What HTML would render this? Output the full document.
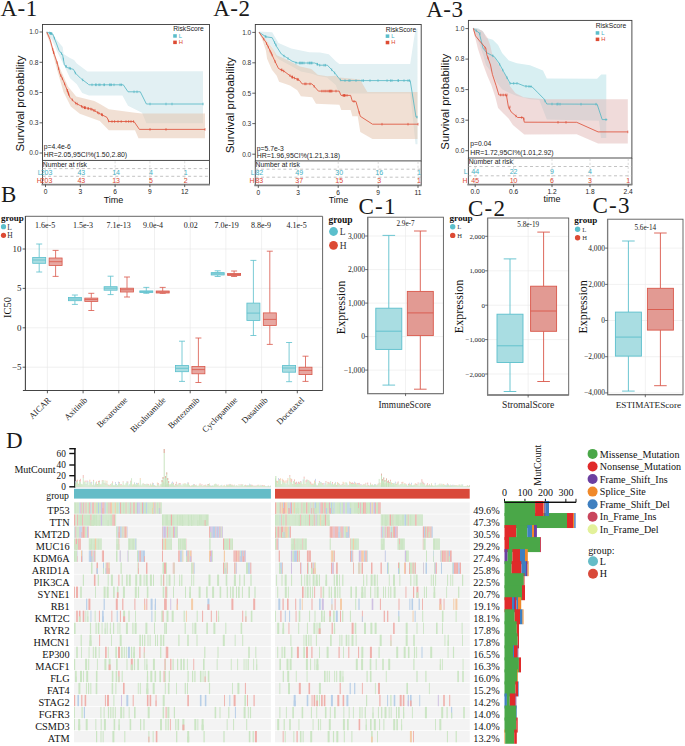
<!DOCTYPE html>
<html><head><meta charset="utf-8"><title>Figure</title>
<style>html,body{margin:0;padding:0;background:#fff;}svg{display:block;}</style></head>
<body><svg width="685" height="746" viewBox="0 0 685 746">
<rect width="685" height="746" fill="#fff"/>
<text x="0.5" y="16.4" font-family='"Liberation Serif", serif' font-size="23" fill="#1a1a1a" text-anchor="start" letter-spacing="0.5">A-1</text>
<text x="213.2" y="16.4" font-family='"Liberation Serif", serif' font-size="23" fill="#1a1a1a" text-anchor="start" letter-spacing="0.5">A-2</text>
<text x="426.2" y="17.2" font-family='"Liberation Serif", serif' font-size="23" fill="#1a1a1a" text-anchor="start" letter-spacing="0.5">A-3</text>
<text x="1.0" y="201.6" font-family='"Liberation Serif", serif' font-size="23" fill="#1a1a1a" text-anchor="start" letter-spacing="1.2">B</text>
<text x="358.5" y="213.8" font-family='"Liberation Serif", serif' font-size="23" fill="#1a1a1a" text-anchor="start" letter-spacing="1.2">C-1</text>
<text x="468.0" y="216.2" font-family='"Liberation Serif", serif' font-size="23" fill="#1a1a1a" text-anchor="start" letter-spacing="1.2">C-2</text>
<text x="592.5" y="213.2" font-family='"Liberation Serif", serif' font-size="23" fill="#1a1a1a" text-anchor="start" letter-spacing="1.2">C-3</text>
<text x="6.0" y="448.4" font-family='"Liberation Serif", serif' font-size="23" fill="#1a1a1a" text-anchor="start" letter-spacing="1.2">D</text>
<clipPath id="c1"><rect x="42.5" y="24.5" width="167.0" height="135.9"/></clipPath>
<g clip-path="url(#c1)">
<polygon points="46.0,31.5 52.0,32.0 56.0,39.0 62.7,47.0 63.6,54.0 70.0,58.0 74.1,60.1 76.8,63.5 87.5,71.6 100.0,71.6 203.0,71.2 203.0,123.3 146.4,123.3 142.0,112.8 128.0,105.8 122.4,95.6 88.9,95.6 82.2,92.9 76.8,84.2 70.1,78.2 64.7,66.8 58.0,53.4 52.0,40.0 46.0,33.0" fill="#e2f0f3" stroke="none" stroke-width="1" fill-opacity="1"/>
<polygon points="46.0,31.5 50.0,36.0 52.7,48.5 60.0,68.5 68.0,86.6 76.2,96.5 94.3,101.0 100.0,104.0 108.8,109.3 135.0,112.8 142.0,113.6 205.0,113.6 205.0,138.2 138.5,138.2 135.0,130.3 108.8,130.3 99.8,121.0 79.8,113.7 70.8,106.5 63.5,92.0 57.2,70.3 50.0,43.0 46.0,33.0" fill="#e3c1a9" stroke="none" stroke-width="1" fill-opacity="0.5"/>
<polyline points="46.9,32.2 52.7,34.0 56.3,43.1 59.0,50.4 62.6,54.9 64.4,64.8 67.2,67.6 73.5,69.4 75.3,73.0 80.7,78.4 88.0,83.9 88.9,84.8 123.3,84.8 128.0,91.8 140.3,91.8 146.4,104.0 203.3,104.0" fill="none" stroke="#4fb5c3" stroke-width="0.8" stroke-linejoin="round"/>
<polyline points="46.9,32.2 50.0,39.5 53.6,52.2 57.2,63.0 60.0,73.9 63.5,81.1 67.2,90.2 69.9,97.4 75.3,102.9 83.5,107.4 91.6,109.2 99.8,113.7 107.0,117.4 108.8,121.5 134.0,121.5 139.4,129.4 205.0,129.4" fill="none" stroke="#dd4b33" stroke-width="0.8" stroke-linejoin="round"/>
<line x1="92.00" y1="83.50" x2="92.00" y2="86.10" stroke="#4fb5c3" stroke-width="0.7"/>
<line x1="96.00" y1="83.50" x2="96.00" y2="86.10" stroke="#4fb5c3" stroke-width="0.7"/>
<line x1="100.00" y1="83.50" x2="100.00" y2="86.10" stroke="#4fb5c3" stroke-width="0.7"/>
<line x1="104.00" y1="83.50" x2="104.00" y2="86.10" stroke="#4fb5c3" stroke-width="0.7"/>
<line x1="110.00" y1="83.50" x2="110.00" y2="86.10" stroke="#4fb5c3" stroke-width="0.7"/>
<line x1="114.00" y1="83.50" x2="114.00" y2="86.10" stroke="#4fb5c3" stroke-width="0.7"/>
<line x1="120.00" y1="83.50" x2="120.00" y2="86.10" stroke="#4fb5c3" stroke-width="0.7"/>
<line x1="134.00" y1="90.50" x2="134.00" y2="93.10" stroke="#4fb5c3" stroke-width="0.7"/>
<line x1="137.00" y1="90.50" x2="137.00" y2="93.10" stroke="#4fb5c3" stroke-width="0.7"/>
<line x1="150.00" y1="102.70" x2="150.00" y2="105.30" stroke="#4fb5c3" stroke-width="0.7"/>
<line x1="166.00" y1="102.70" x2="166.00" y2="105.30" stroke="#4fb5c3" stroke-width="0.7"/>
<line x1="172.00" y1="102.70" x2="172.00" y2="105.30" stroke="#4fb5c3" stroke-width="0.7"/>
<line x1="203.00" y1="102.70" x2="203.00" y2="105.30" stroke="#4fb5c3" stroke-width="0.7"/>
<line x1="85.00" y1="106.50" x2="85.00" y2="109.10" stroke="#dd4b33" stroke-width="0.7"/>
<line x1="88.00" y1="107.20" x2="88.00" y2="109.80" stroke="#dd4b33" stroke-width="0.7"/>
<line x1="95.00" y1="109.20" x2="95.00" y2="111.80" stroke="#dd4b33" stroke-width="0.7"/>
<line x1="102.00" y1="113.20" x2="102.00" y2="115.80" stroke="#dd4b33" stroke-width="0.7"/>
<line x1="112.00" y1="120.20" x2="112.00" y2="122.80" stroke="#dd4b33" stroke-width="0.7"/>
<line x1="118.00" y1="120.20" x2="118.00" y2="122.80" stroke="#dd4b33" stroke-width="0.7"/>
<line x1="126.00" y1="120.20" x2="126.00" y2="122.80" stroke="#dd4b33" stroke-width="0.7"/>
<line x1="131.00" y1="120.20" x2="131.00" y2="122.80" stroke="#dd4b33" stroke-width="0.7"/>
<line x1="150.00" y1="128.10" x2="150.00" y2="130.70" stroke="#dd4b33" stroke-width="0.7"/>
<line x1="166.00" y1="128.10" x2="166.00" y2="130.70" stroke="#dd4b33" stroke-width="0.7"/>
<line x1="205.00" y1="128.10" x2="205.00" y2="130.70" stroke="#dd4b33" stroke-width="0.7"/>
<line x1="61.60" y1="52.35" x2="61.60" y2="54.95" stroke="#4fb5c3" stroke-width="0.7"/>
<line x1="54.34" y1="36.83" x2="54.34" y2="39.43" stroke="#4fb5c3" stroke-width="0.7"/>
<line x1="75.34" y1="71.74" x2="75.34" y2="74.34" stroke="#4fb5c3" stroke-width="0.7"/>
<line x1="51.04" y1="32.19" x2="51.04" y2="34.79" stroke="#4fb5c3" stroke-width="0.7"/>
<line x1="70.51" y1="67.24" x2="70.51" y2="69.84" stroke="#4fb5c3" stroke-width="0.7"/>
<line x1="63.36" y1="57.77" x2="63.36" y2="60.37" stroke="#4fb5c3" stroke-width="0.7"/>
<line x1="50.44" y1="32.00" x2="50.44" y2="34.60" stroke="#4fb5c3" stroke-width="0.7"/>
<line x1="69.31" y1="66.90" x2="69.31" y2="69.50" stroke="#4fb5c3" stroke-width="0.7"/>
<line x1="49.57" y1="31.73" x2="49.57" y2="34.33" stroke="#4fb5c3" stroke-width="0.7"/>
<line x1="66.21" y1="65.31" x2="66.21" y2="67.91" stroke="#4fb5c3" stroke-width="0.7"/>
<line x1="50.93" y1="32.15" x2="50.93" y2="34.75" stroke="#4fb5c3" stroke-width="0.7"/>
<line x1="51.81" y1="32.42" x2="51.81" y2="35.02" stroke="#4fb5c3" stroke-width="0.7"/>
<line x1="65.83" y1="64.93" x2="65.83" y2="67.53" stroke="#4fb5c3" stroke-width="0.7"/>
<line x1="82.73" y1="78.63" x2="82.73" y2="81.23" stroke="#4fb5c3" stroke-width="0.7"/>
<line x1="95.84" y1="83.50" x2="95.84" y2="86.10" stroke="#4fb5c3" stroke-width="0.7"/>
<line x1="98.92" y1="83.50" x2="98.92" y2="86.10" stroke="#4fb5c3" stroke-width="0.7"/>
<line x1="111.45" y1="83.50" x2="111.45" y2="86.10" stroke="#4fb5c3" stroke-width="0.7"/>
<line x1="121.38" y1="83.50" x2="121.38" y2="86.10" stroke="#4fb5c3" stroke-width="0.7"/>
<line x1="109.89" y1="83.50" x2="109.89" y2="86.10" stroke="#4fb5c3" stroke-width="0.7"/>
<line x1="104.30" y1="83.50" x2="104.30" y2="86.10" stroke="#4fb5c3" stroke-width="0.7"/>
<line x1="108.58" y1="119.69" x2="108.58" y2="122.29" stroke="#dd4b33" stroke-width="0.7"/>
<line x1="52.79" y1="48.06" x2="52.79" y2="50.66" stroke="#dd4b33" stroke-width="0.7"/>
<line x1="101.51" y1="113.28" x2="101.51" y2="115.88" stroke="#dd4b33" stroke-width="0.7"/>
<line x1="67.38" y1="89.37" x2="67.38" y2="91.97" stroke="#dd4b33" stroke-width="0.7"/>
<line x1="58.66" y1="67.37" x2="58.66" y2="69.97" stroke="#dd4b33" stroke-width="0.7"/>
<line x1="57.07" y1="61.30" x2="57.07" y2="63.90" stroke="#dd4b33" stroke-width="0.7"/>
<line x1="68.51" y1="92.39" x2="68.51" y2="94.99" stroke="#dd4b33" stroke-width="0.7"/>
<line x1="98.97" y1="111.94" x2="98.97" y2="114.54" stroke="#dd4b33" stroke-width="0.7"/>
<line x1="60.84" y1="74.34" x2="60.84" y2="76.94" stroke="#dd4b33" stroke-width="0.7"/>
<line x1="84.90" y1="106.41" x2="84.90" y2="109.01" stroke="#dd4b33" stroke-width="0.7"/>
<line x1="88.33" y1="107.17" x2="88.33" y2="109.77" stroke="#dd4b33" stroke-width="0.7"/>
<line x1="72.34" y1="98.59" x2="72.34" y2="101.19" stroke="#dd4b33" stroke-width="0.7"/>
<line x1="82.86" y1="105.75" x2="82.86" y2="108.35" stroke="#dd4b33" stroke-width="0.7"/>
<line x1="53.77" y1="51.40" x2="53.77" y2="54.00" stroke="#dd4b33" stroke-width="0.7"/>
<line x1="53.58" y1="50.82" x2="53.58" y2="53.42" stroke="#dd4b33" stroke-width="0.7"/>
<line x1="62.36" y1="77.45" x2="62.36" y2="80.05" stroke="#dd4b33" stroke-width="0.7"/>
<line x1="90.82" y1="107.73" x2="90.82" y2="110.33" stroke="#dd4b33" stroke-width="0.7"/>
<line x1="75.66" y1="101.80" x2="75.66" y2="104.40" stroke="#dd4b33" stroke-width="0.7"/>
<line x1="68.85" y1="93.30" x2="68.85" y2="95.90" stroke="#dd4b33" stroke-width="0.7"/>
<line x1="85.13" y1="106.46" x2="85.13" y2="109.06" stroke="#dd4b33" stroke-width="0.7"/>
<line x1="77.19" y1="102.64" x2="77.19" y2="105.24" stroke="#dd4b33" stroke-width="0.7"/>
<line x1="67.99" y1="91.00" x2="67.99" y2="93.60" stroke="#dd4b33" stroke-width="0.7"/>
<line x1="97.66" y1="111.23" x2="97.66" y2="113.83" stroke="#dd4b33" stroke-width="0.7"/>
<line x1="91.94" y1="108.09" x2="91.94" y2="110.69" stroke="#dd4b33" stroke-width="0.7"/>
<line x1="64.65" y1="82.62" x2="64.65" y2="85.22" stroke="#dd4b33" stroke-width="0.7"/>
<line x1="84.47" y1="106.31" x2="84.47" y2="108.91" stroke="#dd4b33" stroke-width="0.7"/>
<line x1="81.51" y1="105.01" x2="81.51" y2="107.61" stroke="#dd4b33" stroke-width="0.7"/>
<line x1="102.51" y1="113.79" x2="102.51" y2="116.39" stroke="#dd4b33" stroke-width="0.7"/>
<line x1="93.77" y1="109.09" x2="93.77" y2="111.69" stroke="#dd4b33" stroke-width="0.7"/>
<line x1="67.28" y1="89.10" x2="67.28" y2="91.70" stroke="#dd4b33" stroke-width="0.7"/>
<line x1="133.56" y1="120.20" x2="133.56" y2="122.80" stroke="#dd4b33" stroke-width="0.7"/>
<line x1="114.60" y1="120.20" x2="114.60" y2="122.80" stroke="#dd4b33" stroke-width="0.7"/>
<line x1="121.20" y1="120.20" x2="121.20" y2="122.80" stroke="#dd4b33" stroke-width="0.7"/>
<line x1="128.66" y1="120.20" x2="128.66" y2="122.80" stroke="#dd4b33" stroke-width="0.7"/>
</g>
<rect x="42.5" y="24.5" width="167.0" height="135.9" fill="none" stroke="#3a3a3a" stroke-width="0.9"/>
<line x1="39.50" y1="32.00" x2="42.50" y2="32.00" stroke="#3a3a3a" stroke-width="0.8"/>
<text x="38.5" y="34.3" font-family='"Liberation Sans", sans-serif' font-size="6.6" fill="#333" text-anchor="end">1.0</text>
<line x1="39.50" y1="62.30" x2="42.50" y2="62.30" stroke="#3a3a3a" stroke-width="0.8"/>
<text x="38.5" y="64.6" font-family='"Liberation Sans", sans-serif' font-size="6.6" fill="#333" text-anchor="end">0.8</text>
<line x1="39.50" y1="92.50" x2="42.50" y2="92.50" stroke="#3a3a3a" stroke-width="0.8"/>
<text x="38.5" y="94.8" font-family='"Liberation Sans", sans-serif' font-size="6.6" fill="#333" text-anchor="end">0.5</text>
<line x1="39.50" y1="122.80" x2="42.50" y2="122.80" stroke="#3a3a3a" stroke-width="0.8"/>
<text x="38.5" y="125.1" font-family='"Liberation Sans", sans-serif' font-size="6.6" fill="#333" text-anchor="end">0.3</text>
<line x1="39.50" y1="153.00" x2="42.50" y2="153.00" stroke="#3a3a3a" stroke-width="0.8"/>
<text x="38.5" y="155.3" font-family='"Liberation Sans", sans-serif' font-size="6.6" fill="#333" text-anchor="end">0.0</text>
<text x="24.5" y="103.6" font-family='"Liberation Sans", sans-serif' font-size="11.45" fill="#111" text-anchor="middle" transform="rotate(-90 24.5 103.6)">Survival probability</text>
<text x="43.8" y="149.4" font-family='"Liberation Sans", sans-serif' font-size="6.8" fill="#222" text-anchor="start">p=4.4e-6</text>
<text x="43.8" y="156.8" font-family='"Liberation Sans", sans-serif' font-size="6.9" fill="#222" text-anchor="start">HR=2.05,95CI%(1.50,2.80)</text>
<text x="173.2" y="31.4" font-family='"Liberation Sans", sans-serif' font-size="6.7" fill="#222" text-anchor="start">RiskScore</text>
<rect x="173.20" y="34.20" width="3.60" height="3.50" fill="#5bbdca"/>
<text x="178.8" y="37.6" font-family='"Liberation Sans", sans-serif' font-size="5.8" fill="#45b0c4" text-anchor="start">L</text>
<rect x="173.20" y="40.60" width="3.60" height="3.50" fill="#dd4b33"/>
<text x="178.8" y="44.0" font-family='"Liberation Sans", sans-serif' font-size="5.8" fill="#dc4a34" text-anchor="start">H</text>
<line x1="42.50" y1="160.40" x2="42.50" y2="184.60" stroke="#3a3a3a" stroke-width="0.9"/>
<line x1="209.50" y1="160.40" x2="209.50" y2="184.60" stroke="#3a3a3a" stroke-width="0.9"/>
<line x1="41.50" y1="184.60" x2="210.00" y2="184.60" stroke="#808080" stroke-width="1.9"/>
<line x1="42.50" y1="168.60" x2="209.50" y2="168.60" stroke="#a9a9a9" stroke-width="0.7" stroke-dasharray="3,2.6"/>
<line x1="42.50" y1="176.30" x2="209.50" y2="176.30" stroke="#a9a9a9" stroke-width="0.7" stroke-dasharray="3,2.6"/>
<text x="42.8" y="167.0" font-family='"Liberation Sans", sans-serif' font-size="6.8" fill="#222" text-anchor="start">Number at risk</text>
<line x1="45.50" y1="184.60" x2="45.50" y2="187.10" stroke="#3a3a3a" stroke-width="0.8"/>
<line x1="45.50" y1="161.20" x2="45.50" y2="183.80" stroke="#c4c4c4" stroke-width="0.6" stroke-dasharray="2.2,1.8"/>
<text x="45.5" y="193.8" font-family='"Liberation Sans", sans-serif' font-size="6.6" fill="#222" text-anchor="middle">0</text>
<line x1="80.30" y1="184.60" x2="80.30" y2="187.10" stroke="#3a3a3a" stroke-width="0.8"/>
<line x1="80.30" y1="161.20" x2="80.30" y2="183.80" stroke="#c4c4c4" stroke-width="0.6" stroke-dasharray="2.2,1.8"/>
<text x="80.3" y="193.8" font-family='"Liberation Sans", sans-serif' font-size="6.6" fill="#222" text-anchor="middle">3</text>
<line x1="115.10" y1="184.60" x2="115.10" y2="187.10" stroke="#3a3a3a" stroke-width="0.8"/>
<line x1="115.10" y1="161.20" x2="115.10" y2="183.80" stroke="#c4c4c4" stroke-width="0.6" stroke-dasharray="2.2,1.8"/>
<text x="115.1" y="193.8" font-family='"Liberation Sans", sans-serif' font-size="6.6" fill="#222" text-anchor="middle">6</text>
<line x1="149.90" y1="184.60" x2="149.90" y2="187.10" stroke="#3a3a3a" stroke-width="0.8"/>
<line x1="149.90" y1="161.20" x2="149.90" y2="183.80" stroke="#c4c4c4" stroke-width="0.6" stroke-dasharray="2.2,1.8"/>
<text x="149.9" y="193.8" font-family='"Liberation Sans", sans-serif' font-size="6.6" fill="#222" text-anchor="middle">9</text>
<line x1="184.70" y1="184.60" x2="184.70" y2="187.10" stroke="#3a3a3a" stroke-width="0.8"/>
<line x1="184.70" y1="161.20" x2="184.70" y2="183.80" stroke="#c4c4c4" stroke-width="0.6" stroke-dasharray="2.2,1.8"/>
<text x="184.7" y="193.8" font-family='"Liberation Sans", sans-serif' font-size="6.6" fill="#222" text-anchor="middle">12</text>
<text x="41.7" y="175.2" font-family='"Liberation Sans", sans-serif' font-size="6.9" fill="#45b0c4" text-anchor="end">L</text>
<text x="41.7" y="183.0" font-family='"Liberation Sans", sans-serif' font-size="6.9" fill="#dc4a34" text-anchor="end">H</text>
<text x="46.5" y="175.2" font-family='"Liberation Sans", sans-serif' font-size="7" fill="#45b0c4" text-anchor="middle">203</text>
<text x="81.3" y="175.2" font-family='"Liberation Sans", sans-serif' font-size="7" fill="#45b0c4" text-anchor="middle">43</text>
<text x="116.1" y="175.2" font-family='"Liberation Sans", sans-serif' font-size="7" fill="#45b0c4" text-anchor="middle">14</text>
<text x="150.9" y="175.2" font-family='"Liberation Sans", sans-serif' font-size="7" fill="#45b0c4" text-anchor="middle">4</text>
<text x="185.7" y="175.2" font-family='"Liberation Sans", sans-serif' font-size="7" fill="#45b0c4" text-anchor="middle">1</text>
<text x="46.5" y="183.0" font-family='"Liberation Sans", sans-serif' font-size="7" fill="#dc4a34" text-anchor="middle">203</text>
<text x="81.3" y="183.0" font-family='"Liberation Sans", sans-serif' font-size="7" fill="#dc4a34" text-anchor="middle">43</text>
<text x="116.1" y="183.0" font-family='"Liberation Sans", sans-serif' font-size="7" fill="#dc4a34" text-anchor="middle">13</text>
<text x="150.9" y="183.0" font-family='"Liberation Sans", sans-serif' font-size="7" fill="#dc4a34" text-anchor="middle">5</text>
<text x="185.7" y="183.0" font-family='"Liberation Sans", sans-serif' font-size="7" fill="#dc4a34" text-anchor="middle">2</text>
<text x="113.5" y="202.8" font-family='"Liberation Sans", sans-serif' font-size="9" fill="#111" text-anchor="middle">Time</text>
<clipPath id="c2"><rect x="255.3" y="24.5" width="165.89999999999998" height="136.4"/></clipPath>
<g clip-path="url(#c2)">
<polygon points="259.0,31.5 272.2,32.2 278.5,43.1 291.2,48.5 309.3,52.2 320.0,52.5 328.8,54.3 335.8,61.3 339.3,64.0 410.2,64.0 415.0,32.0 417.5,28.0 417.5,28.0 417.5,144.3 415.5,144.3 413.0,120.0 410.2,93.5 339.0,93.5 335.7,85.0 327.0,77.5 318.0,76.0 312.0,73.8 300.9,71.5 291.2,66.0 279.1,59.4 276.1,56.4 271.9,46.5 266.0,40.5 259.0,33.0" fill="#e2f0f3" stroke="none" stroke-width="1" fill-opacity="1"/>
<polygon points="259.0,31.5 266.0,40.0 271.9,47.0 276.7,55.2 283.0,58.0 291.2,62.0 300.0,66.5 311.3,69.1 317.8,74.7 327.2,76.2 335.7,75.7 339.4,77.6 360.0,79.4 367.3,92.0 417.5,92.0 417.5,139.0 372.5,139.0 360.3,132.0 357.7,116.3 352.4,116.3 350.6,110.0 341.3,110.0 339.4,104.8 316.0,103.8 312.2,97.3 300.9,96.2 297.3,90.2 290.0,85.4 279.1,81.7 276.7,75.7 271.9,69.7 267.1,58.8 265.9,50.4 262.2,39.5 259.0,33.0" fill="#e3c1a9" stroke="none" stroke-width="1" fill-opacity="0.5"/>
<polyline points="259.0,32.2 265.9,36.8 272.2,37.7 276.7,46.7 281.3,54.0 286.7,57.6 292.1,61.2 297.6,63.0 314.8,63.0 319.3,65.2 327.4,65.2 335.6,73.9 338.3,77.5 341.0,80.6 410.2,80.6 412.5,95.0 416.0,117.1 417.4,117.1" fill="none" stroke="#4fb5c3" stroke-width="0.8" stroke-linejoin="round"/>
<polyline points="259.0,32.2 265.9,42.2 270.4,51.3 274.9,61.2 278.5,68.5 284.0,71.2 291.2,76.6 299.4,80.2 302.1,83.9 312.0,83.9 318.4,91.1 339.2,91.1 341.0,95.4 350.6,95.4 352.4,101.4 355.9,101.4 360.3,116.3 372.5,124.2 418.0,124.2" fill="none" stroke="#dd4b33" stroke-width="0.8" stroke-linejoin="round"/>
<line x1="266.00" y1="35.50" x2="266.00" y2="38.10" stroke="#4fb5c3" stroke-width="0.7"/>
<line x1="276.00" y1="43.70" x2="276.00" y2="46.30" stroke="#4fb5c3" stroke-width="0.7"/>
<line x1="284.00" y1="54.70" x2="284.00" y2="57.30" stroke="#4fb5c3" stroke-width="0.7"/>
<line x1="296.00" y1="61.70" x2="296.00" y2="64.30" stroke="#4fb5c3" stroke-width="0.7"/>
<line x1="300.00" y1="61.70" x2="300.00" y2="64.30" stroke="#4fb5c3" stroke-width="0.7"/>
<line x1="304.00" y1="61.70" x2="304.00" y2="64.30" stroke="#4fb5c3" stroke-width="0.7"/>
<line x1="308.00" y1="61.70" x2="308.00" y2="64.30" stroke="#4fb5c3" stroke-width="0.7"/>
<line x1="312.00" y1="61.70" x2="312.00" y2="64.30" stroke="#4fb5c3" stroke-width="0.7"/>
<line x1="324.00" y1="63.90" x2="324.00" y2="66.50" stroke="#4fb5c3" stroke-width="0.7"/>
<line x1="345.00" y1="79.30" x2="345.00" y2="81.90" stroke="#4fb5c3" stroke-width="0.7"/>
<line x1="350.00" y1="79.30" x2="350.00" y2="81.90" stroke="#4fb5c3" stroke-width="0.7"/>
<line x1="356.00" y1="79.30" x2="356.00" y2="81.90" stroke="#4fb5c3" stroke-width="0.7"/>
<line x1="362.00" y1="79.30" x2="362.00" y2="81.90" stroke="#4fb5c3" stroke-width="0.7"/>
<line x1="370.00" y1="79.30" x2="370.00" y2="81.90" stroke="#4fb5c3" stroke-width="0.7"/>
<line x1="378.00" y1="79.30" x2="378.00" y2="81.90" stroke="#4fb5c3" stroke-width="0.7"/>
<line x1="392.00" y1="79.30" x2="392.00" y2="81.90" stroke="#4fb5c3" stroke-width="0.7"/>
<line x1="398.00" y1="79.30" x2="398.00" y2="81.90" stroke="#4fb5c3" stroke-width="0.7"/>
<line x1="404.00" y1="79.30" x2="404.00" y2="81.90" stroke="#4fb5c3" stroke-width="0.7"/>
<line x1="408.00" y1="79.30" x2="408.00" y2="81.90" stroke="#4fb5c3" stroke-width="0.7"/>
<line x1="417.00" y1="115.80" x2="417.00" y2="118.40" stroke="#4fb5c3" stroke-width="0.7"/>
<line x1="270.00" y1="49.70" x2="270.00" y2="52.30" stroke="#dd4b33" stroke-width="0.7"/>
<line x1="282.00" y1="68.70" x2="282.00" y2="71.30" stroke="#dd4b33" stroke-width="0.7"/>
<line x1="292.00" y1="75.70" x2="292.00" y2="78.30" stroke="#dd4b33" stroke-width="0.7"/>
<line x1="298.00" y1="78.20" x2="298.00" y2="80.80" stroke="#dd4b33" stroke-width="0.7"/>
<line x1="306.00" y1="82.60" x2="306.00" y2="85.20" stroke="#dd4b33" stroke-width="0.7"/>
<line x1="310.00" y1="82.60" x2="310.00" y2="85.20" stroke="#dd4b33" stroke-width="0.7"/>
<line x1="324.00" y1="89.80" x2="324.00" y2="92.40" stroke="#dd4b33" stroke-width="0.7"/>
<line x1="328.00" y1="89.80" x2="328.00" y2="92.40" stroke="#dd4b33" stroke-width="0.7"/>
<line x1="332.00" y1="89.80" x2="332.00" y2="92.40" stroke="#dd4b33" stroke-width="0.7"/>
<line x1="336.00" y1="89.80" x2="336.00" y2="92.40" stroke="#dd4b33" stroke-width="0.7"/>
<line x1="345.00" y1="94.10" x2="345.00" y2="96.70" stroke="#dd4b33" stroke-width="0.7"/>
<line x1="347.00" y1="94.10" x2="347.00" y2="96.70" stroke="#dd4b33" stroke-width="0.7"/>
<line x1="354.00" y1="100.10" x2="354.00" y2="102.70" stroke="#dd4b33" stroke-width="0.7"/>
<line x1="382.00" y1="122.90" x2="382.00" y2="125.50" stroke="#dd4b33" stroke-width="0.7"/>
<line x1="408.00" y1="122.90" x2="408.00" y2="125.50" stroke="#dd4b33" stroke-width="0.7"/>
<line x1="418.00" y1="122.90" x2="418.00" y2="125.50" stroke="#dd4b33" stroke-width="0.7"/>
<line x1="274.61" y1="41.23" x2="274.61" y2="43.83" stroke="#4fb5c3" stroke-width="0.7"/>
<line x1="302.58" y1="61.70" x2="302.58" y2="64.30" stroke="#4fb5c3" stroke-width="0.7"/>
<line x1="265.25" y1="35.07" x2="265.25" y2="37.67" stroke="#4fb5c3" stroke-width="0.7"/>
<line x1="317.46" y1="63.00" x2="317.46" y2="65.60" stroke="#4fb5c3" stroke-width="0.7"/>
<line x1="325.46" y1="63.90" x2="325.46" y2="66.50" stroke="#4fb5c3" stroke-width="0.7"/>
<line x1="309.56" y1="61.70" x2="309.56" y2="64.30" stroke="#4fb5c3" stroke-width="0.7"/>
<line x1="334.66" y1="71.61" x2="334.66" y2="74.21" stroke="#4fb5c3" stroke-width="0.7"/>
<line x1="288.04" y1="57.19" x2="288.04" y2="59.79" stroke="#4fb5c3" stroke-width="0.7"/>
<line x1="319.71" y1="63.90" x2="319.71" y2="66.50" stroke="#4fb5c3" stroke-width="0.7"/>
<line x1="311.33" y1="61.70" x2="311.33" y2="64.30" stroke="#4fb5c3" stroke-width="0.7"/>
<line x1="310.13" y1="61.70" x2="310.13" y2="64.30" stroke="#4fb5c3" stroke-width="0.7"/>
<line x1="299.87" y1="61.70" x2="299.87" y2="64.30" stroke="#4fb5c3" stroke-width="0.7"/>
<line x1="331.72" y1="68.48" x2="331.72" y2="71.08" stroke="#4fb5c3" stroke-width="0.7"/>
<line x1="340.41" y1="78.62" x2="340.41" y2="81.22" stroke="#4fb5c3" stroke-width="0.7"/>
<line x1="301.35" y1="61.70" x2="301.35" y2="64.30" stroke="#4fb5c3" stroke-width="0.7"/>
<line x1="317.12" y1="62.84" x2="317.12" y2="65.44" stroke="#4fb5c3" stroke-width="0.7"/>
<line x1="348.94" y1="79.30" x2="348.94" y2="81.90" stroke="#4fb5c3" stroke-width="0.7"/>
<line x1="390.60" y1="79.30" x2="390.60" y2="81.90" stroke="#4fb5c3" stroke-width="0.7"/>
<line x1="387.06" y1="79.30" x2="387.06" y2="81.90" stroke="#4fb5c3" stroke-width="0.7"/>
<line x1="409.55" y1="79.30" x2="409.55" y2="81.90" stroke="#4fb5c3" stroke-width="0.7"/>
<line x1="398.43" y1="79.30" x2="398.43" y2="81.90" stroke="#4fb5c3" stroke-width="0.7"/>
<line x1="363.50" y1="79.30" x2="363.50" y2="81.90" stroke="#4fb5c3" stroke-width="0.7"/>
<line x1="292.09" y1="75.69" x2="292.09" y2="78.29" stroke="#dd4b33" stroke-width="0.7"/>
<line x1="314.15" y1="85.02" x2="314.15" y2="87.62" stroke="#dd4b33" stroke-width="0.7"/>
<line x1="263.76" y1="37.80" x2="263.76" y2="40.40" stroke="#dd4b33" stroke-width="0.7"/>
<line x1="298.01" y1="78.29" x2="298.01" y2="80.89" stroke="#dd4b33" stroke-width="0.7"/>
<line x1="275.11" y1="60.32" x2="275.11" y2="62.92" stroke="#dd4b33" stroke-width="0.7"/>
<line x1="271.13" y1="51.61" x2="271.13" y2="54.21" stroke="#dd4b33" stroke-width="0.7"/>
<line x1="266.60" y1="42.31" x2="266.60" y2="44.91" stroke="#dd4b33" stroke-width="0.7"/>
<line x1="321.92" y1="89.80" x2="321.92" y2="92.40" stroke="#dd4b33" stroke-width="0.7"/>
<line x1="272.09" y1="53.71" x2="272.09" y2="56.31" stroke="#dd4b33" stroke-width="0.7"/>
<line x1="281.31" y1="68.58" x2="281.31" y2="71.18" stroke="#dd4b33" stroke-width="0.7"/>
<line x1="292.49" y1="75.87" x2="292.49" y2="78.47" stroke="#dd4b33" stroke-width="0.7"/>
<line x1="329.97" y1="89.80" x2="329.97" y2="92.40" stroke="#dd4b33" stroke-width="0.7"/>
<line x1="268.29" y1="45.72" x2="268.29" y2="48.32" stroke="#dd4b33" stroke-width="0.7"/>
<line x1="297.04" y1="77.86" x2="297.04" y2="80.46" stroke="#dd4b33" stroke-width="0.7"/>
<line x1="304.86" y1="82.60" x2="304.86" y2="85.20" stroke="#dd4b33" stroke-width="0.7"/>
<line x1="330.90" y1="89.80" x2="330.90" y2="92.40" stroke="#dd4b33" stroke-width="0.7"/>
<line x1="325.90" y1="89.80" x2="325.90" y2="92.40" stroke="#dd4b33" stroke-width="0.7"/>
<line x1="329.39" y1="89.80" x2="329.39" y2="92.40" stroke="#dd4b33" stroke-width="0.7"/>
<line x1="283.72" y1="69.76" x2="283.72" y2="72.36" stroke="#dd4b33" stroke-width="0.7"/>
<line x1="294.39" y1="76.70" x2="294.39" y2="79.30" stroke="#dd4b33" stroke-width="0.7"/>
<line x1="289.98" y1="74.39" x2="289.98" y2="76.99" stroke="#dd4b33" stroke-width="0.7"/>
<line x1="330.97" y1="89.80" x2="330.97" y2="92.40" stroke="#dd4b33" stroke-width="0.7"/>
<line x1="359.15" y1="111.12" x2="359.15" y2="113.72" stroke="#dd4b33" stroke-width="0.7"/>
<line x1="343.02" y1="94.10" x2="343.02" y2="96.70" stroke="#dd4b33" stroke-width="0.7"/>
<line x1="343.52" y1="94.10" x2="343.52" y2="96.70" stroke="#dd4b33" stroke-width="0.7"/>
<line x1="344.64" y1="94.10" x2="344.64" y2="96.70" stroke="#dd4b33" stroke-width="0.7"/>
<line x1="344.67" y1="94.10" x2="344.67" y2="96.70" stroke="#dd4b33" stroke-width="0.7"/>
</g>
<rect x="255.3" y="24.5" width="165.89999999999998" height="136.4" fill="none" stroke="#3a3a3a" stroke-width="0.9"/>
<line x1="252.30" y1="32.40" x2="255.30" y2="32.40" stroke="#3a3a3a" stroke-width="0.8"/>
<text x="251.3" y="34.7" font-family='"Liberation Sans", sans-serif' font-size="6.6" fill="#333" text-anchor="end">1.0</text>
<line x1="252.30" y1="62.80" x2="255.30" y2="62.80" stroke="#3a3a3a" stroke-width="0.8"/>
<text x="251.3" y="65.1" font-family='"Liberation Sans", sans-serif' font-size="6.6" fill="#333" text-anchor="end">0.8</text>
<line x1="252.30" y1="93.20" x2="255.30" y2="93.20" stroke="#3a3a3a" stroke-width="0.8"/>
<text x="251.3" y="95.5" font-family='"Liberation Sans", sans-serif' font-size="6.6" fill="#333" text-anchor="end">0.5</text>
<line x1="252.30" y1="123.60" x2="255.30" y2="123.60" stroke="#3a3a3a" stroke-width="0.8"/>
<text x="251.3" y="125.9" font-family='"Liberation Sans", sans-serif' font-size="6.6" fill="#333" text-anchor="end">0.3</text>
<line x1="252.30" y1="154.20" x2="255.30" y2="154.20" stroke="#3a3a3a" stroke-width="0.8"/>
<text x="251.3" y="156.5" font-family='"Liberation Sans", sans-serif' font-size="6.6" fill="#333" text-anchor="end">0.0</text>
<text x="234.5" y="105.3" font-family='"Liberation Sans", sans-serif' font-size="11.45" fill="#111" text-anchor="middle" transform="rotate(-90 234.5 105.3)">Survival probability</text>
<text x="256.8" y="150.8" font-family='"Liberation Sans", sans-serif' font-size="6.8" fill="#222" text-anchor="start">p=5.7e-3</text>
<text x="256.8" y="158.0" font-family='"Liberation Sans", sans-serif' font-size="6.9" fill="#222" text-anchor="start">HR=1.96,95CI%(1.21,3.18)</text>
<text x="385.7" y="31.6" font-family='"Liberation Sans", sans-serif' font-size="6.7" fill="#222" text-anchor="start">RiskScore</text>
<rect x="385.70" y="34.40" width="3.60" height="3.50" fill="#5bbdca"/>
<text x="391.3" y="37.8" font-family='"Liberation Sans", sans-serif' font-size="5.8" fill="#45b0c4" text-anchor="start">L</text>
<rect x="385.70" y="40.80" width="3.60" height="3.50" fill="#dd4b33"/>
<text x="391.3" y="44.2" font-family='"Liberation Sans", sans-serif' font-size="5.8" fill="#dc4a34" text-anchor="start">H</text>
<line x1="255.30" y1="160.90" x2="255.30" y2="185.40" stroke="#3a3a3a" stroke-width="0.9"/>
<line x1="421.20" y1="160.90" x2="421.20" y2="185.40" stroke="#3a3a3a" stroke-width="0.9"/>
<line x1="254.30" y1="185.40" x2="421.70" y2="185.40" stroke="#808080" stroke-width="1.9"/>
<line x1="255.30" y1="169.20" x2="421.20" y2="169.20" stroke="#a9a9a9" stroke-width="0.7" stroke-dasharray="3,2.6"/>
<line x1="255.30" y1="177.20" x2="421.20" y2="177.20" stroke="#a9a9a9" stroke-width="0.7" stroke-dasharray="3,2.6"/>
<text x="255.6" y="167.2" font-family='"Liberation Sans", sans-serif' font-size="6.8" fill="#222" text-anchor="start">Number at risk</text>
<line x1="258.30" y1="185.40" x2="258.30" y2="187.90" stroke="#3a3a3a" stroke-width="0.8"/>
<line x1="258.30" y1="161.70" x2="258.30" y2="184.60" stroke="#c4c4c4" stroke-width="0.6" stroke-dasharray="2.2,1.8"/>
<text x="258.3" y="194.6" font-family='"Liberation Sans", sans-serif' font-size="6.6" fill="#222" text-anchor="middle">0</text>
<line x1="298.20" y1="185.40" x2="298.20" y2="187.90" stroke="#3a3a3a" stroke-width="0.8"/>
<line x1="298.20" y1="161.70" x2="298.20" y2="184.60" stroke="#c4c4c4" stroke-width="0.6" stroke-dasharray="2.2,1.8"/>
<text x="298.2" y="194.6" font-family='"Liberation Sans", sans-serif' font-size="6.6" fill="#222" text-anchor="middle">3</text>
<line x1="338.20" y1="185.40" x2="338.20" y2="187.90" stroke="#3a3a3a" stroke-width="0.8"/>
<line x1="338.20" y1="161.70" x2="338.20" y2="184.60" stroke="#c4c4c4" stroke-width="0.6" stroke-dasharray="2.2,1.8"/>
<text x="338.2" y="194.6" font-family='"Liberation Sans", sans-serif' font-size="6.6" fill="#222" text-anchor="middle">6</text>
<line x1="378.20" y1="185.40" x2="378.20" y2="187.90" stroke="#3a3a3a" stroke-width="0.8"/>
<line x1="378.20" y1="161.70" x2="378.20" y2="184.60" stroke="#c4c4c4" stroke-width="0.6" stroke-dasharray="2.2,1.8"/>
<text x="378.2" y="194.6" font-family='"Liberation Sans", sans-serif' font-size="6.6" fill="#222" text-anchor="middle">9</text>
<line x1="418.00" y1="185.40" x2="418.00" y2="187.90" stroke="#3a3a3a" stroke-width="0.8"/>
<line x1="418.00" y1="161.70" x2="418.00" y2="184.60" stroke="#c4c4c4" stroke-width="0.6" stroke-dasharray="2.2,1.8"/>
<text x="418.0" y="194.6" font-family='"Liberation Sans", sans-serif' font-size="6.6" fill="#222" text-anchor="middle">11</text>
<text x="254.5" y="175.4" font-family='"Liberation Sans", sans-serif' font-size="6.9" fill="#45b0c4" text-anchor="end">L</text>
<text x="254.5" y="183.0" font-family='"Liberation Sans", sans-serif' font-size="6.9" fill="#dc4a34" text-anchor="end">H</text>
<text x="259.3" y="175.4" font-family='"Liberation Sans", sans-serif' font-size="7" fill="#45b0c4" text-anchor="middle">82</text>
<text x="299.2" y="175.4" font-family='"Liberation Sans", sans-serif' font-size="7" fill="#45b0c4" text-anchor="middle">49</text>
<text x="339.2" y="175.4" font-family='"Liberation Sans", sans-serif' font-size="7" fill="#45b0c4" text-anchor="middle">30</text>
<text x="379.2" y="175.4" font-family='"Liberation Sans", sans-serif' font-size="7" fill="#45b0c4" text-anchor="middle">16</text>
<text x="419.0" y="175.4" font-family='"Liberation Sans", sans-serif' font-size="7" fill="#45b0c4" text-anchor="middle">1</text>
<text x="259.3" y="183.0" font-family='"Liberation Sans", sans-serif' font-size="7" fill="#dc4a34" text-anchor="middle">83</text>
<text x="299.2" y="183.0" font-family='"Liberation Sans", sans-serif' font-size="7" fill="#dc4a34" text-anchor="middle">37</text>
<text x="339.2" y="183.0" font-family='"Liberation Sans", sans-serif' font-size="7" fill="#dc4a34" text-anchor="middle">15</text>
<text x="379.2" y="183.0" font-family='"Liberation Sans", sans-serif' font-size="7" fill="#dc4a34" text-anchor="middle">3</text>
<text x="419.0" y="183.0" font-family='"Liberation Sans", sans-serif' font-size="7" fill="#dc4a34" text-anchor="middle">1</text>
<text x="338.5" y="203.0" font-family='"Liberation Sans", sans-serif' font-size="9" fill="#111" text-anchor="middle">Time</text>
<clipPath id="c3"><rect x="468.4" y="20.4" width="163.5" height="137.6"/></clipPath>
<g clip-path="url(#c3)">
<polygon points="473.0,27.8 478.0,28.3 483.4,31.7 486.0,37.7 492.8,39.7 498.1,45.1 502.1,53.1 508.8,60.5 516.9,63.2 530.0,65.2 543.0,70.6 546.8,78.5 597.1,78.7 601.2,74.6 606.3,74.6 606.3,138.0 601.0,138.0 599.0,120.7 546.8,119.4 539.3,100.0 530.0,99.3 516.9,96.0 510.2,93.3 502.1,89.3 496.8,82.6 491.4,71.9 486.0,65.2 483.4,55.8 476.0,34.4 473.0,29.0" fill="#d8eff2" stroke="none" stroke-width="1" fill-opacity="1"/>
<polygon points="473.0,27.8 482.0,30.4 487.4,37.7 490.1,45.1 492.1,53.8 496.8,61.2 502.1,70.5 506.2,75.9 510.2,86.6 515.5,93.3 523.6,97.3 530.0,98.0 545.0,99.2 627.8,99.2 627.8,143.5 598.1,143.5 576.7,134.2 524.3,134.4 512.9,125.0 508.8,118.7 503.5,113.4 498.1,108.0 495.4,97.3 491.4,85.3 487.4,75.9 483.4,65.2 478.0,49.1 475.4,38.4 473.0,29.5" fill="#e2b8b5" stroke="none" stroke-width="1" fill-opacity="0.5"/>
<polyline points="473.3,28.4 479.3,33.1 483.0,48.1 486.8,52.8 494.3,56.6 499.0,63.1 503.6,71.6 508.3,80.0 510.2,83.4 517.7,83.4 524.3,86.0 531.8,86.6 537.4,92.2 543.9,98.8 546.8,104.0 597.1,104.2 602.2,119.6 607.3,119.6" fill="none" stroke="#4fb5c3" stroke-width="0.8" stroke-linejoin="round"/>
<polyline points="473.3,28.4 475.5,35.9 479.3,40.6 485.8,48.1 486.8,54.7 490.5,65.0 492.4,74.4 496.1,85.6 498.9,95.0 506.4,95.0 508.3,106.3 511.1,111.9 517.7,117.5 523.3,117.5 524.3,122.2 576.7,122.3 598.1,131.9 627.8,131.9" fill="none" stroke="#dd4b33" stroke-width="0.8" stroke-linejoin="round"/>
<line x1="480.00" y1="32.20" x2="480.00" y2="34.80" stroke="#4fb5c3" stroke-width="0.7"/>
<line x1="510.00" y1="82.10" x2="510.00" y2="84.70" stroke="#4fb5c3" stroke-width="0.7"/>
<line x1="517.00" y1="82.10" x2="517.00" y2="84.70" stroke="#4fb5c3" stroke-width="0.7"/>
<line x1="526.00" y1="85.00" x2="526.00" y2="87.60" stroke="#4fb5c3" stroke-width="0.7"/>
<line x1="529.00" y1="85.20" x2="529.00" y2="87.80" stroke="#4fb5c3" stroke-width="0.7"/>
<line x1="531.00" y1="85.30" x2="531.00" y2="87.90" stroke="#4fb5c3" stroke-width="0.7"/>
<line x1="545.00" y1="99.70" x2="545.00" y2="102.30" stroke="#4fb5c3" stroke-width="0.7"/>
<line x1="552.00" y1="102.70" x2="552.00" y2="105.30" stroke="#4fb5c3" stroke-width="0.7"/>
<line x1="558.00" y1="102.70" x2="558.00" y2="105.30" stroke="#4fb5c3" stroke-width="0.7"/>
<line x1="557.00" y1="102.90" x2="557.00" y2="105.50" stroke="#4fb5c3" stroke-width="0.7"/>
<line x1="560.00" y1="102.90" x2="560.00" y2="105.50" stroke="#4fb5c3" stroke-width="0.7"/>
<line x1="581.00" y1="102.90" x2="581.00" y2="105.50" stroke="#4fb5c3" stroke-width="0.7"/>
<line x1="596.00" y1="102.90" x2="596.00" y2="105.50" stroke="#4fb5c3" stroke-width="0.7"/>
<line x1="606.00" y1="118.30" x2="606.00" y2="120.90" stroke="#4fb5c3" stroke-width="0.7"/>
<line x1="485.00" y1="46.70" x2="485.00" y2="49.30" stroke="#dd4b33" stroke-width="0.7"/>
<line x1="488.00" y1="56.70" x2="488.00" y2="59.30" stroke="#dd4b33" stroke-width="0.7"/>
<line x1="507.00" y1="93.70" x2="507.00" y2="96.30" stroke="#dd4b33" stroke-width="0.7"/>
<line x1="510.00" y1="105.70" x2="510.00" y2="108.30" stroke="#dd4b33" stroke-width="0.7"/>
<line x1="516.00" y1="114.70" x2="516.00" y2="117.30" stroke="#dd4b33" stroke-width="0.7"/>
<line x1="524.00" y1="117.70" x2="524.00" y2="120.30" stroke="#dd4b33" stroke-width="0.7"/>
<line x1="558.00" y1="121.00" x2="558.00" y2="123.60" stroke="#dd4b33" stroke-width="0.7"/>
<line x1="566.00" y1="121.00" x2="566.00" y2="123.60" stroke="#dd4b33" stroke-width="0.7"/>
<line x1="627.80" y1="130.60" x2="627.80" y2="133.20" stroke="#dd4b33" stroke-width="0.7"/>
<line x1="507.04" y1="76.44" x2="507.04" y2="79.04" stroke="#4fb5c3" stroke-width="0.7"/>
<line x1="513.70" y1="82.10" x2="513.70" y2="84.70" stroke="#4fb5c3" stroke-width="0.7"/>
<line x1="492.82" y1="54.55" x2="492.82" y2="57.15" stroke="#4fb5c3" stroke-width="0.7"/>
<line x1="476.26" y1="29.42" x2="476.26" y2="32.02" stroke="#4fb5c3" stroke-width="0.7"/>
<line x1="502.81" y1="68.84" x2="502.81" y2="71.44" stroke="#4fb5c3" stroke-width="0.7"/>
<line x1="499.63" y1="62.97" x2="499.63" y2="65.57" stroke="#4fb5c3" stroke-width="0.7"/>
<line x1="503.18" y1="93.70" x2="503.18" y2="96.30" stroke="#dd4b33" stroke-width="0.7"/>
<line x1="521.75" y1="116.20" x2="521.75" y2="118.80" stroke="#dd4b33" stroke-width="0.7"/>
<line x1="509.14" y1="106.69" x2="509.14" y2="109.29" stroke="#dd4b33" stroke-width="0.7"/>
<line x1="500.74" y1="93.70" x2="500.74" y2="96.30" stroke="#dd4b33" stroke-width="0.7"/>
<line x1="505.64" y1="93.70" x2="505.64" y2="96.30" stroke="#dd4b33" stroke-width="0.7"/>
</g>
<rect x="468.4" y="20.4" width="163.5" height="137.6" fill="none" stroke="#3a3a3a" stroke-width="0.9"/>
<line x1="465.40" y1="28.60" x2="468.40" y2="28.60" stroke="#3a3a3a" stroke-width="0.8"/>
<text x="464.4" y="30.9" font-family='"Liberation Sans", sans-serif' font-size="6.6" fill="#333" text-anchor="end">1.0</text>
<line x1="465.40" y1="59.10" x2="468.40" y2="59.10" stroke="#3a3a3a" stroke-width="0.8"/>
<text x="464.4" y="61.4" font-family='"Liberation Sans", sans-serif' font-size="6.6" fill="#333" text-anchor="end">0.8</text>
<line x1="465.40" y1="89.60" x2="468.40" y2="89.60" stroke="#3a3a3a" stroke-width="0.8"/>
<text x="464.4" y="91.9" font-family='"Liberation Sans", sans-serif' font-size="6.6" fill="#333" text-anchor="end">0.5</text>
<line x1="465.40" y1="120.20" x2="468.40" y2="120.20" stroke="#3a3a3a" stroke-width="0.8"/>
<text x="464.4" y="122.5" font-family='"Liberation Sans", sans-serif' font-size="6.6" fill="#333" text-anchor="end">0.3</text>
<line x1="465.40" y1="150.70" x2="468.40" y2="150.70" stroke="#3a3a3a" stroke-width="0.8"/>
<text x="464.4" y="153.0" font-family='"Liberation Sans", sans-serif' font-size="6.6" fill="#333" text-anchor="end">0.0</text>
<text x="449.4" y="101.7" font-family='"Liberation Sans", sans-serif' font-size="11.45" fill="#111" text-anchor="middle" transform="rotate(-90 449.4 101.7)">Survival probability</text>
<text x="470.3" y="146.0" font-family='"Liberation Sans", sans-serif' font-size="6.8" fill="#222" text-anchor="start">p=0.04</text>
<text x="470.3" y="155.4" font-family='"Liberation Sans", sans-serif' font-size="6.9" fill="#222" text-anchor="start">HR=1.72,95CI%(1.01,2.92)</text>
<text x="595.7" y="28.4" font-family='"Liberation Sans", sans-serif' font-size="6.7" fill="#222" text-anchor="start">RiskScore</text>
<rect x="595.70" y="31.20" width="3.60" height="3.50" fill="#5bbdca"/>
<text x="601.3" y="34.6" font-family='"Liberation Sans", sans-serif' font-size="5.8" fill="#45b0c4" text-anchor="start">L</text>
<rect x="595.70" y="37.60" width="3.60" height="3.50" fill="#dd4b33"/>
<text x="601.3" y="41.0" font-family='"Liberation Sans", sans-serif' font-size="5.8" fill="#dc4a34" text-anchor="start">H</text>
<line x1="468.40" y1="158.00" x2="468.40" y2="184.60" stroke="#3a3a3a" stroke-width="0.9"/>
<line x1="631.90" y1="158.00" x2="631.90" y2="184.60" stroke="#3a3a3a" stroke-width="0.9"/>
<line x1="467.40" y1="184.60" x2="632.40" y2="184.60" stroke="#808080" stroke-width="1.9"/>
<line x1="468.40" y1="166.50" x2="631.90" y2="166.50" stroke="#a9a9a9" stroke-width="0.7" stroke-dasharray="3,2.6"/>
<line x1="468.40" y1="175.80" x2="631.90" y2="175.80" stroke="#a9a9a9" stroke-width="0.7" stroke-dasharray="3,2.6"/>
<text x="468.7" y="163.8" font-family='"Liberation Sans", sans-serif' font-size="6.8" fill="#222" text-anchor="start">Number at risk</text>
<line x1="475.20" y1="184.60" x2="475.20" y2="187.10" stroke="#3a3a3a" stroke-width="0.8"/>
<line x1="475.20" y1="158.80" x2="475.20" y2="183.80" stroke="#c4c4c4" stroke-width="0.6" stroke-dasharray="2.2,1.8"/>
<text x="475.2" y="193.8" font-family='"Liberation Sans", sans-serif' font-size="6.6" fill="#222" text-anchor="middle">0.0</text>
<line x1="513.60" y1="184.60" x2="513.60" y2="187.10" stroke="#3a3a3a" stroke-width="0.8"/>
<line x1="513.60" y1="158.80" x2="513.60" y2="183.80" stroke="#c4c4c4" stroke-width="0.6" stroke-dasharray="2.2,1.8"/>
<text x="513.6" y="193.8" font-family='"Liberation Sans", sans-serif' font-size="6.6" fill="#222" text-anchor="middle">0.6</text>
<line x1="552.00" y1="184.60" x2="552.00" y2="187.10" stroke="#3a3a3a" stroke-width="0.8"/>
<line x1="552.00" y1="158.80" x2="552.00" y2="183.80" stroke="#c4c4c4" stroke-width="0.6" stroke-dasharray="2.2,1.8"/>
<text x="552.0" y="193.8" font-family='"Liberation Sans", sans-serif' font-size="6.6" fill="#222" text-anchor="middle">1.2</text>
<line x1="590.00" y1="184.60" x2="590.00" y2="187.10" stroke="#3a3a3a" stroke-width="0.8"/>
<line x1="590.00" y1="158.80" x2="590.00" y2="183.80" stroke="#c4c4c4" stroke-width="0.6" stroke-dasharray="2.2,1.8"/>
<text x="590.0" y="193.8" font-family='"Liberation Sans", sans-serif' font-size="6.6" fill="#222" text-anchor="middle">1.8</text>
<line x1="628.20" y1="184.60" x2="628.20" y2="187.10" stroke="#3a3a3a" stroke-width="0.8"/>
<line x1="628.20" y1="158.80" x2="628.20" y2="183.80" stroke="#c4c4c4" stroke-width="0.6" stroke-dasharray="2.2,1.8"/>
<text x="628.2" y="193.8" font-family='"Liberation Sans", sans-serif' font-size="6.6" fill="#222" text-anchor="middle">2.4</text>
<text x="467.6" y="173.6" font-family='"Liberation Sans", sans-serif' font-size="6.9" fill="#45b0c4" text-anchor="end">L</text>
<text x="467.6" y="182.6" font-family='"Liberation Sans", sans-serif' font-size="6.9" fill="#dc4a34" text-anchor="end">H</text>
<text x="475.2" y="173.6" font-family='"Liberation Sans", sans-serif' font-size="7" fill="#45b0c4" text-anchor="middle">44</text>
<text x="513.6" y="173.6" font-family='"Liberation Sans", sans-serif' font-size="7" fill="#45b0c4" text-anchor="middle">22</text>
<text x="552.0" y="173.6" font-family='"Liberation Sans", sans-serif' font-size="7" fill="#45b0c4" text-anchor="middle">9</text>
<text x="590.0" y="173.6" font-family='"Liberation Sans", sans-serif' font-size="7" fill="#45b0c4" text-anchor="middle">4</text>
<text x="628.2" y="173.6" font-family='"Liberation Sans", sans-serif' font-size="7" fill="#45b0c4" text-anchor="middle"></text>
<text x="475.2" y="182.6" font-family='"Liberation Sans", sans-serif' font-size="7" fill="#dc4a34" text-anchor="middle">45</text>
<text x="513.6" y="182.6" font-family='"Liberation Sans", sans-serif' font-size="7" fill="#dc4a34" text-anchor="middle">10</text>
<text x="552.0" y="182.6" font-family='"Liberation Sans", sans-serif' font-size="7" fill="#dc4a34" text-anchor="middle">6</text>
<text x="590.0" y="182.6" font-family='"Liberation Sans", sans-serif' font-size="7" fill="#dc4a34" text-anchor="middle">3</text>
<text x="628.2" y="182.6" font-family='"Liberation Sans", sans-serif' font-size="7" fill="#dc4a34" text-anchor="middle">1</text>
<text x="552.0" y="202.0" font-family='"Liberation Sans", sans-serif' font-size="9" fill="#111" text-anchor="middle">time</text>
<line x1="25.40" y1="249.00" x2="322.60" y2="249.00" stroke="#e6e6e6" stroke-width="0.6"/>
<line x1="25.40" y1="288.40" x2="322.60" y2="288.40" stroke="#e6e6e6" stroke-width="0.6"/>
<line x1="25.40" y1="327.80" x2="322.60" y2="327.80" stroke="#e6e6e6" stroke-width="0.6"/>
<line x1="25.40" y1="367.20" x2="322.60" y2="367.20" stroke="#e6e6e6" stroke-width="0.6"/>
<line x1="47.40" y1="216.30" x2="47.40" y2="390.50" stroke="#e6e6e6" stroke-width="0.6"/>
<line x1="83.10" y1="216.30" x2="83.10" y2="390.50" stroke="#e6e6e6" stroke-width="0.6"/>
<line x1="118.80" y1="216.30" x2="118.80" y2="390.50" stroke="#e6e6e6" stroke-width="0.6"/>
<line x1="154.50" y1="216.30" x2="154.50" y2="390.50" stroke="#e6e6e6" stroke-width="0.6"/>
<line x1="190.20" y1="216.30" x2="190.20" y2="390.50" stroke="#e6e6e6" stroke-width="0.6"/>
<line x1="225.90" y1="216.30" x2="225.90" y2="390.50" stroke="#e6e6e6" stroke-width="0.6"/>
<line x1="261.60" y1="216.30" x2="261.60" y2="390.50" stroke="#e6e6e6" stroke-width="0.6"/>
<line x1="297.30" y1="216.30" x2="297.30" y2="390.50" stroke="#e6e6e6" stroke-width="0.6"/>
<line x1="39.20" y1="244.00" x2="39.20" y2="257.40" stroke="#5bbfcc" stroke-width="0.8"/>
<line x1="39.20" y1="263.30" x2="39.20" y2="272.00" stroke="#5bbfcc" stroke-width="0.8"/>
<line x1="36.20" y1="244.00" x2="42.20" y2="244.00" stroke="#5bbfcc" stroke-width="0.8"/>
<line x1="36.20" y1="272.00" x2="42.20" y2="272.00" stroke="#5bbfcc" stroke-width="0.8"/>
<rect x="32.70" y="257.40" width="13" height="5.90" fill="#a9dde2" stroke="#5bbfcc" stroke-width="0.8"/>
<line x1="32.70" y1="260.00" x2="45.70" y2="260.00" stroke="#5bbfcc" stroke-width="0.8"/>
<line x1="55.60" y1="250.40" x2="55.60" y2="258.00" stroke="#d9574a" stroke-width="0.8"/>
<line x1="55.60" y1="265.50" x2="55.60" y2="276.40" stroke="#d9574a" stroke-width="0.8"/>
<line x1="52.60" y1="250.40" x2="58.60" y2="250.40" stroke="#d9574a" stroke-width="0.8"/>
<line x1="52.60" y1="276.40" x2="58.60" y2="276.40" stroke="#d9574a" stroke-width="0.8"/>
<rect x="49.10" y="258.00" width="13" height="7.50" fill="#e7a7a1" stroke="#d9574a" stroke-width="0.8"/>
<line x1="49.10" y1="261.70" x2="62.10" y2="261.70" stroke="#d9574a" stroke-width="0.8"/>
<line x1="74.90" y1="295.00" x2="74.90" y2="297.40" stroke="#5bbfcc" stroke-width="0.8"/>
<line x1="74.90" y1="300.70" x2="74.90" y2="304.40" stroke="#5bbfcc" stroke-width="0.8"/>
<line x1="71.90" y1="295.00" x2="77.90" y2="295.00" stroke="#5bbfcc" stroke-width="0.8"/>
<line x1="71.90" y1="304.40" x2="77.90" y2="304.40" stroke="#5bbfcc" stroke-width="0.8"/>
<rect x="68.40" y="297.40" width="13" height="3.30" fill="#a9dde2" stroke="#5bbfcc" stroke-width="0.8"/>
<line x1="68.40" y1="299.00" x2="81.40" y2="299.00" stroke="#5bbfcc" stroke-width="0.8"/>
<line x1="91.30" y1="293.30" x2="91.30" y2="298.10" stroke="#d9574a" stroke-width="0.8"/>
<line x1="91.30" y1="301.40" x2="91.30" y2="310.50" stroke="#d9574a" stroke-width="0.8"/>
<line x1="88.30" y1="293.30" x2="94.30" y2="293.30" stroke="#d9574a" stroke-width="0.8"/>
<line x1="88.30" y1="310.50" x2="94.30" y2="310.50" stroke="#d9574a" stroke-width="0.8"/>
<rect x="84.80" y="298.10" width="13" height="3.30" fill="#e7a7a1" stroke="#d9574a" stroke-width="0.8"/>
<line x1="84.80" y1="299.60" x2="97.80" y2="299.60" stroke="#d9574a" stroke-width="0.8"/>
<line x1="110.60" y1="276.20" x2="110.60" y2="286.70" stroke="#5bbfcc" stroke-width="0.8"/>
<line x1="110.60" y1="290.20" x2="110.60" y2="294.60" stroke="#5bbfcc" stroke-width="0.8"/>
<line x1="107.60" y1="276.20" x2="113.60" y2="276.20" stroke="#5bbfcc" stroke-width="0.8"/>
<line x1="107.60" y1="294.60" x2="113.60" y2="294.60" stroke="#5bbfcc" stroke-width="0.8"/>
<rect x="104.10" y="286.70" width="13" height="3.50" fill="#a9dde2" stroke="#5bbfcc" stroke-width="0.8"/>
<line x1="104.10" y1="288.20" x2="117.10" y2="288.20" stroke="#5bbfcc" stroke-width="0.8"/>
<line x1="127.00" y1="277.00" x2="127.00" y2="288.20" stroke="#d9574a" stroke-width="0.8"/>
<line x1="127.00" y1="292.00" x2="127.00" y2="297.00" stroke="#d9574a" stroke-width="0.8"/>
<line x1="124.00" y1="277.00" x2="130.00" y2="277.00" stroke="#d9574a" stroke-width="0.8"/>
<line x1="124.00" y1="297.00" x2="130.00" y2="297.00" stroke="#d9574a" stroke-width="0.8"/>
<rect x="120.50" y="288.20" width="13" height="3.80" fill="#e7a7a1" stroke="#d9574a" stroke-width="0.8"/>
<line x1="120.50" y1="289.80" x2="133.50" y2="289.80" stroke="#d9574a" stroke-width="0.8"/>
<line x1="146.30" y1="287.40" x2="146.30" y2="290.90" stroke="#5bbfcc" stroke-width="0.8"/>
<line x1="146.30" y1="292.40" x2="146.30" y2="293.30" stroke="#5bbfcc" stroke-width="0.8"/>
<line x1="143.30" y1="287.40" x2="149.30" y2="287.40" stroke="#5bbfcc" stroke-width="0.8"/>
<line x1="143.30" y1="293.30" x2="149.30" y2="293.30" stroke="#5bbfcc" stroke-width="0.8"/>
<rect x="139.80" y="290.90" width="13" height="1.50" fill="#a9dde2" stroke="#5bbfcc" stroke-width="0.8"/>
<line x1="139.80" y1="291.70" x2="152.80" y2="291.70" stroke="#5bbfcc" stroke-width="0.8"/>
<line x1="162.70" y1="287.40" x2="162.70" y2="291.00" stroke="#d9574a" stroke-width="0.8"/>
<line x1="162.70" y1="293.00" x2="162.70" y2="293.30" stroke="#d9574a" stroke-width="0.8"/>
<line x1="159.70" y1="287.40" x2="165.70" y2="287.40" stroke="#d9574a" stroke-width="0.8"/>
<line x1="159.70" y1="293.30" x2="165.70" y2="293.30" stroke="#d9574a" stroke-width="0.8"/>
<rect x="156.20" y="291.00" width="13" height="2.00" fill="#e7a7a1" stroke="#d9574a" stroke-width="0.8"/>
<line x1="156.20" y1="292.00" x2="169.20" y2="292.00" stroke="#d9574a" stroke-width="0.8"/>
<line x1="182.00" y1="341.20" x2="182.00" y2="365.40" stroke="#5bbfcc" stroke-width="0.8"/>
<line x1="182.00" y1="371.70" x2="182.00" y2="381.40" stroke="#5bbfcc" stroke-width="0.8"/>
<line x1="179.00" y1="341.20" x2="185.00" y2="341.20" stroke="#5bbfcc" stroke-width="0.8"/>
<line x1="179.00" y1="381.40" x2="185.00" y2="381.40" stroke="#5bbfcc" stroke-width="0.8"/>
<rect x="175.50" y="365.40" width="13" height="6.30" fill="#a9dde2" stroke="#5bbfcc" stroke-width="0.8"/>
<line x1="175.50" y1="368.30" x2="188.50" y2="368.30" stroke="#5bbfcc" stroke-width="0.8"/>
<line x1="198.40" y1="338.00" x2="198.40" y2="366.50" stroke="#d9574a" stroke-width="0.8"/>
<line x1="198.40" y1="373.80" x2="198.40" y2="382.50" stroke="#d9574a" stroke-width="0.8"/>
<line x1="195.40" y1="338.00" x2="201.40" y2="338.00" stroke="#d9574a" stroke-width="0.8"/>
<line x1="195.40" y1="382.50" x2="201.40" y2="382.50" stroke="#d9574a" stroke-width="0.8"/>
<rect x="191.90" y="366.50" width="13" height="7.30" fill="#e7a7a1" stroke="#d9574a" stroke-width="0.8"/>
<line x1="191.90" y1="369.60" x2="204.90" y2="369.60" stroke="#d9574a" stroke-width="0.8"/>
<line x1="217.70" y1="270.80" x2="217.70" y2="272.60" stroke="#5bbfcc" stroke-width="0.8"/>
<line x1="217.70" y1="275.00" x2="217.70" y2="276.50" stroke="#5bbfcc" stroke-width="0.8"/>
<line x1="214.70" y1="270.80" x2="220.70" y2="270.80" stroke="#5bbfcc" stroke-width="0.8"/>
<line x1="214.70" y1="276.50" x2="220.70" y2="276.50" stroke="#5bbfcc" stroke-width="0.8"/>
<rect x="211.20" y="272.60" width="13" height="2.40" fill="#a9dde2" stroke="#5bbfcc" stroke-width="0.8"/>
<line x1="211.20" y1="273.80" x2="224.20" y2="273.80" stroke="#5bbfcc" stroke-width="0.8"/>
<line x1="234.10" y1="271.00" x2="234.10" y2="273.50" stroke="#d9574a" stroke-width="0.8"/>
<line x1="234.10" y1="275.50" x2="234.10" y2="276.50" stroke="#d9574a" stroke-width="0.8"/>
<line x1="231.10" y1="271.00" x2="237.10" y2="271.00" stroke="#d9574a" stroke-width="0.8"/>
<line x1="231.10" y1="276.50" x2="237.10" y2="276.50" stroke="#d9574a" stroke-width="0.8"/>
<rect x="227.60" y="273.50" width="13" height="2.00" fill="#e7a7a1" stroke="#d9574a" stroke-width="0.8"/>
<line x1="227.60" y1="274.50" x2="240.60" y2="274.50" stroke="#d9574a" stroke-width="0.8"/>
<line x1="253.40" y1="260.40" x2="253.40" y2="303.10" stroke="#5bbfcc" stroke-width="0.8"/>
<line x1="253.40" y1="320.50" x2="253.40" y2="335.50" stroke="#5bbfcc" stroke-width="0.8"/>
<line x1="250.40" y1="260.40" x2="256.40" y2="260.40" stroke="#5bbfcc" stroke-width="0.8"/>
<line x1="250.40" y1="335.50" x2="256.40" y2="335.50" stroke="#5bbfcc" stroke-width="0.8"/>
<rect x="246.90" y="303.10" width="13" height="17.40" fill="#a9dde2" stroke="#5bbfcc" stroke-width="0.8"/>
<line x1="246.90" y1="313.10" x2="259.90" y2="313.10" stroke="#5bbfcc" stroke-width="0.8"/>
<line x1="269.80" y1="251.20" x2="269.80" y2="312.90" stroke="#d9574a" stroke-width="0.8"/>
<line x1="269.80" y1="325.50" x2="269.80" y2="344.40" stroke="#d9574a" stroke-width="0.8"/>
<line x1="266.80" y1="251.20" x2="272.80" y2="251.20" stroke="#d9574a" stroke-width="0.8"/>
<line x1="266.80" y1="344.40" x2="272.80" y2="344.40" stroke="#d9574a" stroke-width="0.8"/>
<rect x="263.30" y="312.90" width="13" height="12.60" fill="#e7a7a1" stroke="#d9574a" stroke-width="0.8"/>
<line x1="263.30" y1="319.40" x2="276.30" y2="319.40" stroke="#d9574a" stroke-width="0.8"/>
<line x1="289.10" y1="342.50" x2="289.10" y2="365.40" stroke="#5bbfcc" stroke-width="0.8"/>
<line x1="289.10" y1="372.20" x2="289.10" y2="381.70" stroke="#5bbfcc" stroke-width="0.8"/>
<line x1="286.10" y1="342.50" x2="292.10" y2="342.50" stroke="#5bbfcc" stroke-width="0.8"/>
<line x1="286.10" y1="381.70" x2="292.10" y2="381.70" stroke="#5bbfcc" stroke-width="0.8"/>
<rect x="282.60" y="365.40" width="13" height="6.80" fill="#a9dde2" stroke="#5bbfcc" stroke-width="0.8"/>
<line x1="282.60" y1="368.00" x2="295.60" y2="368.00" stroke="#5bbfcc" stroke-width="0.8"/>
<line x1="305.50" y1="356.20" x2="305.50" y2="367.20" stroke="#d9574a" stroke-width="0.8"/>
<line x1="305.50" y1="374.60" x2="305.50" y2="381.40" stroke="#d9574a" stroke-width="0.8"/>
<line x1="302.50" y1="356.20" x2="308.50" y2="356.20" stroke="#d9574a" stroke-width="0.8"/>
<line x1="302.50" y1="381.40" x2="308.50" y2="381.40" stroke="#d9574a" stroke-width="0.8"/>
<rect x="299.00" y="367.20" width="13" height="7.40" fill="#e7a7a1" stroke="#d9574a" stroke-width="0.8"/>
<line x1="299.00" y1="370.40" x2="312.00" y2="370.40" stroke="#d9574a" stroke-width="0.8"/>
<polyline points="25.4,216.3 322.6,216.3 322.6,390.5" fill="none" stroke="#555" stroke-width="0.9"/>
<line x1="25.40" y1="215.90" x2="25.40" y2="390.90" stroke="#444" stroke-width="1.1"/>
<line x1="22.90" y1="390.50" x2="322.60" y2="390.50" stroke="#444" stroke-width="1.1"/>
<line x1="22.60" y1="249.00" x2="25.40" y2="249.00" stroke="#333" stroke-width="0.8"/>
<text x="21.4" y="252.0" font-family='"Liberation Serif", serif' font-size="9" fill="#222" text-anchor="end">10</text>
<line x1="22.60" y1="288.40" x2="25.40" y2="288.40" stroke="#333" stroke-width="0.8"/>
<text x="21.4" y="291.4" font-family='"Liberation Serif", serif' font-size="9" fill="#222" text-anchor="end">5</text>
<line x1="22.60" y1="327.80" x2="25.40" y2="327.80" stroke="#333" stroke-width="0.8"/>
<text x="21.4" y="330.8" font-family='"Liberation Serif", serif' font-size="9" fill="#222" text-anchor="end">0</text>
<line x1="22.60" y1="367.20" x2="25.40" y2="367.20" stroke="#333" stroke-width="0.8"/>
<text x="21.4" y="370.2" font-family='"Liberation Serif", serif' font-size="9" fill="#222" text-anchor="end">−5</text>
<line x1="47.40" y1="390.50" x2="47.40" y2="393.30" stroke="#333" stroke-width="0.8"/>
<text x="51.4" y="400.6" font-family='"Liberation Serif", serif' font-size="8.6" fill="#222" text-anchor="end" transform="rotate(-45 51.4 400.6)">AICAR</text>
<text x="45.1" y="227.9" font-family='"Liberation Serif", serif' font-size="8" fill="#222" text-anchor="middle">1.6e-5</text>
<line x1="83.10" y1="390.50" x2="83.10" y2="393.30" stroke="#333" stroke-width="0.8"/>
<text x="87.9" y="400.6" font-family='"Liberation Serif", serif' font-size="8.6" fill="#222" text-anchor="end" transform="rotate(-45 87.9 400.6)">Axitinib</text>
<text x="83.0" y="227.9" font-family='"Liberation Serif", serif' font-size="8" fill="#222" text-anchor="middle">1.5e-3</text>
<line x1="118.80" y1="390.50" x2="118.80" y2="393.30" stroke="#333" stroke-width="0.8"/>
<text x="128.0" y="400.6" font-family='"Liberation Serif", serif' font-size="8.6" fill="#222" text-anchor="end" transform="rotate(-45 128.0 400.6)">Bexarotene</text>
<text x="118.6" y="227.9" font-family='"Liberation Serif", serif' font-size="8" fill="#222" text-anchor="middle">7.1e-13</text>
<line x1="154.50" y1="390.50" x2="154.50" y2="393.30" stroke="#333" stroke-width="0.8"/>
<text x="166.2" y="400.6" font-family='"Liberation Serif", serif' font-size="8.6" fill="#222" text-anchor="end" transform="rotate(-45 166.2 400.6)">Bicalutamide</text>
<text x="153.0" y="227.9" font-family='"Liberation Serif", serif' font-size="8" fill="#222" text-anchor="middle">9.0e-4</text>
<line x1="190.20" y1="390.50" x2="190.20" y2="393.30" stroke="#333" stroke-width="0.8"/>
<text x="200.1" y="400.6" font-family='"Liberation Serif", serif' font-size="8.6" fill="#222" text-anchor="end" transform="rotate(-45 200.1 400.6)">Bortezomib</text>
<text x="190.7" y="227.9" font-family='"Liberation Serif", serif' font-size="8" fill="#222" text-anchor="middle">0.02</text>
<line x1="225.90" y1="390.50" x2="225.90" y2="393.30" stroke="#333" stroke-width="0.8"/>
<text x="238.0" y="400.6" font-family='"Liberation Serif", serif' font-size="8.6" fill="#222" text-anchor="end" transform="rotate(-45 238.0 400.6)">Cyclopamine</text>
<text x="226.7" y="227.9" font-family='"Liberation Serif", serif' font-size="8" fill="#222" text-anchor="middle">7.0e-19</text>
<line x1="261.60" y1="390.50" x2="261.60" y2="393.30" stroke="#333" stroke-width="0.8"/>
<text x="268.2" y="400.6" font-family='"Liberation Serif", serif' font-size="8.6" fill="#222" text-anchor="end" transform="rotate(-45 268.2 400.6)">Dasatinib</text>
<text x="261.0" y="227.9" font-family='"Liberation Serif", serif' font-size="8" fill="#222" text-anchor="middle">8.8e-9</text>
<line x1="297.30" y1="390.50" x2="297.30" y2="393.30" stroke="#333" stroke-width="0.8"/>
<text x="304.7" y="400.6" font-family='"Liberation Serif", serif' font-size="8.6" fill="#222" text-anchor="end" transform="rotate(-45 304.7 400.6)">Docetaxel</text>
<text x="296.6" y="227.9" font-family='"Liberation Serif", serif' font-size="8" fill="#222" text-anchor="middle">4.1e-5</text>
<text x="11.5" y="307.6" font-family='"Liberation Serif", serif' font-size="10.5" fill="#111" text-anchor="middle" transform="rotate(-90 11.5 307.6)">IC50</text>
<text x="0.9" y="221.0" font-family='"Liberation Serif", serif' font-size="9" fill="#111" text-anchor="start" font-weight="bold">group</text>
<circle cx="3.5" cy="226.7" r="2.6" fill="#5bbfcc"/>
<text x="7.3" y="229.8" font-family='"Liberation Serif", serif' font-size="7.5" fill="#333" text-anchor="start">L</text>
<circle cx="3.5" cy="235.3" r="2.6" fill="#dc4a34"/>
<text x="7.3" y="238.2" font-family='"Liberation Serif", serif' font-size="7.5" fill="#333" text-anchor="start">H</text>
<line x1="367.70" y1="236.00" x2="443.40" y2="236.00" stroke="#e8e8e8" stroke-width="0.6"/>
<line x1="367.70" y1="269.60" x2="443.40" y2="269.60" stroke="#e8e8e8" stroke-width="0.6"/>
<line x1="367.70" y1="303.10" x2="443.40" y2="303.10" stroke="#e8e8e8" stroke-width="0.6"/>
<line x1="367.70" y1="336.60" x2="443.40" y2="336.60" stroke="#e8e8e8" stroke-width="0.6"/>
<line x1="367.70" y1="370.10" x2="443.40" y2="370.10" stroke="#e8e8e8" stroke-width="0.6"/>
<line x1="405.55" y1="217.20" x2="405.55" y2="393.60" stroke="#e8e8e8" stroke-width="0.6"/>
<line x1="388.80" y1="235.40" x2="388.80" y2="308.20" stroke="#5bbfcc" stroke-width="0.9"/>
<line x1="388.80" y1="349.40" x2="388.80" y2="385.10" stroke="#5bbfcc" stroke-width="0.9"/>
<line x1="382.50" y1="235.40" x2="395.10" y2="235.40" stroke="#5bbfcc" stroke-width="0.9"/>
<line x1="382.50" y1="385.10" x2="395.10" y2="385.10" stroke="#5bbfcc" stroke-width="0.9"/>
<rect x="375.80" y="308.20" width="26" height="41.20" fill="#a9dde2" stroke="#5bbfcc" stroke-width="0.9"/>
<line x1="375.80" y1="331.20" x2="401.80" y2="331.20" stroke="#5bbfcc" stroke-width="0.9"/>
<line x1="420.30" y1="231.00" x2="420.30" y2="291.40" stroke="#d9574a" stroke-width="0.9"/>
<line x1="420.30" y1="335.60" x2="420.30" y2="389.20" stroke="#d9574a" stroke-width="0.9"/>
<line x1="414.00" y1="231.00" x2="426.60" y2="231.00" stroke="#d9574a" stroke-width="0.9"/>
<line x1="414.00" y1="389.20" x2="426.60" y2="389.20" stroke="#d9574a" stroke-width="0.9"/>
<rect x="407.30" y="291.40" width="26" height="44.20" fill="#e29a93" stroke="#d9574a" stroke-width="0.9"/>
<line x1="407.30" y1="312.90" x2="433.30" y2="312.90" stroke="#d9574a" stroke-width="0.9"/>
<rect x="367.7" y="217.2" width="75.69999999999999" height="176.40000000000003" fill="none" stroke="#5a5a5a" stroke-width="0.9"/>
<line x1="367.70" y1="217.20" x2="367.70" y2="393.60" stroke="#7c7c7c" stroke-width="1.3"/>
<line x1="367.10" y1="393.60" x2="443.40" y2="393.60" stroke="#7c7c7c" stroke-width="1.3"/>
<line x1="365.20" y1="236.00" x2="367.70" y2="236.00" stroke="#333" stroke-width="0.7"/>
<text x="365.0" y="238.5" font-family='"Liberation Serif", serif' font-size="7.6" fill="#222" text-anchor="end">3,000</text>
<line x1="365.20" y1="269.60" x2="367.70" y2="269.60" stroke="#333" stroke-width="0.7"/>
<text x="365.0" y="272.1" font-family='"Liberation Serif", serif' font-size="7.6" fill="#222" text-anchor="end">2,000</text>
<line x1="365.20" y1="303.10" x2="367.70" y2="303.10" stroke="#333" stroke-width="0.7"/>
<text x="365.0" y="305.6" font-family='"Liberation Serif", serif' font-size="7.6" fill="#222" text-anchor="end">1,000</text>
<line x1="365.20" y1="336.60" x2="367.70" y2="336.60" stroke="#333" stroke-width="0.7"/>
<text x="365.0" y="339.1" font-family='"Liberation Serif", serif' font-size="7.6" fill="#222" text-anchor="end">0</text>
<line x1="365.20" y1="370.10" x2="367.70" y2="370.10" stroke="#333" stroke-width="0.7"/>
<text x="365.0" y="372.6" font-family='"Liberation Serif", serif' font-size="7.6" fill="#222" text-anchor="end">−1,000</text>
<line x1="405.55" y1="393.60" x2="405.55" y2="396.10" stroke="#333" stroke-width="0.7"/>
<text x="405.5" y="225.6" font-family='"Liberation Serif", serif' font-size="7.2" fill="#222" text-anchor="middle">2.9e-7</text>
<text x="404.7" y="407.6" font-family='"Liberation Serif", serif' font-size="9.35" fill="#222" text-anchor="middle">ImmuneScore</text>
<text x="344.5" y="307.5" font-family='"Liberation Serif", serif' font-size="12" fill="#111" text-anchor="middle" transform="rotate(-90 344.5 307.5)">Expression</text>
<text x="328.5" y="222.5" font-family='"Liberation Serif", serif' font-size="9.5" fill="#111" text-anchor="start" font-weight="bold">group</text>
<circle cx="333.5" cy="231.5" r="4.4" fill="#5bbfcc"/>
<text x="339.8" y="234.8" font-family='"Liberation Serif", serif' font-size="9.5" fill="#333" text-anchor="start">L</text>
<circle cx="333.5" cy="245.3" r="4.4" fill="#dc4a34"/>
<text x="339.8" y="248.6" font-family='"Liberation Serif", serif' font-size="9.5" fill="#333" text-anchor="start">H</text>
<line x1="487.60" y1="236.30" x2="568.70" y2="236.30" stroke="#e8e8e8" stroke-width="0.6"/>
<line x1="487.60" y1="270.80" x2="568.70" y2="270.80" stroke="#e8e8e8" stroke-width="0.6"/>
<line x1="487.60" y1="305.20" x2="568.70" y2="305.20" stroke="#e8e8e8" stroke-width="0.6"/>
<line x1="487.60" y1="339.60" x2="568.70" y2="339.60" stroke="#e8e8e8" stroke-width="0.6"/>
<line x1="487.60" y1="374.00" x2="568.70" y2="374.00" stroke="#e8e8e8" stroke-width="0.6"/>
<line x1="528.15" y1="218.00" x2="528.15" y2="395.00" stroke="#e8e8e8" stroke-width="0.6"/>
<line x1="510.00" y1="258.90" x2="510.00" y2="314.20" stroke="#5bbfcc" stroke-width="0.9"/>
<line x1="510.00" y1="362.50" x2="510.00" y2="391.50" stroke="#5bbfcc" stroke-width="0.9"/>
<line x1="503.70" y1="258.90" x2="516.30" y2="258.90" stroke="#5bbfcc" stroke-width="0.9"/>
<line x1="503.70" y1="391.50" x2="516.30" y2="391.50" stroke="#5bbfcc" stroke-width="0.9"/>
<rect x="497.00" y="314.20" width="26" height="48.30" fill="#a9dde2" stroke="#5bbfcc" stroke-width="0.9"/>
<line x1="497.00" y1="345.80" x2="523.00" y2="345.80" stroke="#5bbfcc" stroke-width="0.9"/>
<line x1="543.60" y1="232.10" x2="543.60" y2="286.20" stroke="#d9574a" stroke-width="0.9"/>
<line x1="543.60" y1="331.30" x2="543.60" y2="381.50" stroke="#d9574a" stroke-width="0.9"/>
<line x1="537.30" y1="232.10" x2="549.90" y2="232.10" stroke="#d9574a" stroke-width="0.9"/>
<line x1="537.30" y1="381.50" x2="549.90" y2="381.50" stroke="#d9574a" stroke-width="0.9"/>
<rect x="530.60" y="286.20" width="26" height="45.10" fill="#e29a93" stroke="#d9574a" stroke-width="0.9"/>
<line x1="530.60" y1="311.00" x2="556.60" y2="311.00" stroke="#d9574a" stroke-width="0.9"/>
<rect x="487.6" y="218.0" width="81.10000000000002" height="177.0" fill="none" stroke="#5a5a5a" stroke-width="0.9"/>
<line x1="487.60" y1="218.00" x2="487.60" y2="395.00" stroke="#7c7c7c" stroke-width="1.3"/>
<line x1="487.00" y1="395.00" x2="568.70" y2="395.00" stroke="#7c7c7c" stroke-width="1.3"/>
<line x1="485.10" y1="236.30" x2="487.60" y2="236.30" stroke="#333" stroke-width="0.7"/>
<text x="484.9" y="238.8" font-family='"Liberation Serif", serif' font-size="6.9" fill="#222" text-anchor="end">2,000</text>
<line x1="485.10" y1="270.80" x2="487.60" y2="270.80" stroke="#333" stroke-width="0.7"/>
<text x="484.9" y="273.3" font-family='"Liberation Serif", serif' font-size="6.9" fill="#222" text-anchor="end">1,000</text>
<line x1="485.10" y1="305.20" x2="487.60" y2="305.20" stroke="#333" stroke-width="0.7"/>
<text x="484.9" y="307.7" font-family='"Liberation Serif", serif' font-size="6.9" fill="#222" text-anchor="end">0</text>
<line x1="485.10" y1="339.60" x2="487.60" y2="339.60" stroke="#333" stroke-width="0.7"/>
<text x="484.9" y="342.1" font-family='"Liberation Serif", serif' font-size="6.9" fill="#222" text-anchor="end">−1,000</text>
<line x1="485.10" y1="374.00" x2="487.60" y2="374.00" stroke="#333" stroke-width="0.7"/>
<text x="484.9" y="376.5" font-family='"Liberation Serif", serif' font-size="6.9" fill="#222" text-anchor="end">−2,000</text>
<line x1="528.15" y1="395.00" x2="528.15" y2="397.50" stroke="#333" stroke-width="0.7"/>
<text x="528.2" y="226.8" font-family='"Liberation Serif", serif' font-size="7.2" fill="#222" text-anchor="middle">5.8e-19</text>
<text x="528.2" y="407.6" font-family='"Liberation Serif", serif' font-size="9.6" fill="#222" text-anchor="middle">StromalScore</text>
<text x="462.6" y="306.5" font-family='"Liberation Serif", serif' font-size="12" fill="#111" text-anchor="middle" transform="rotate(-90 462.6 306.5)">Expression</text>
<text x="449.4" y="221.4" font-family='"Liberation Serif", serif' font-size="9.2" fill="#111" text-anchor="start" font-weight="bold">group</text>
<circle cx="452.7" cy="226.8" r="2.7" fill="#5bbfcc"/>
<text x="457.3" y="229.1" font-family='"Liberation Serif", serif' font-size="6.6" fill="#333" text-anchor="start">L</text>
<circle cx="452.7" cy="235.4" r="2.7" fill="#dc4a34"/>
<text x="457.3" y="237.7" font-family='"Liberation Serif", serif' font-size="6.6" fill="#333" text-anchor="start">H</text>
<line x1="607.60" y1="248.10" x2="683.00" y2="248.10" stroke="#e8e8e8" stroke-width="0.6"/>
<line x1="607.60" y1="284.40" x2="683.00" y2="284.40" stroke="#e8e8e8" stroke-width="0.6"/>
<line x1="607.60" y1="320.50" x2="683.00" y2="320.50" stroke="#e8e8e8" stroke-width="0.6"/>
<line x1="607.60" y1="356.70" x2="683.00" y2="356.70" stroke="#e8e8e8" stroke-width="0.6"/>
<line x1="607.60" y1="392.90" x2="683.00" y2="392.90" stroke="#e8e8e8" stroke-width="0.6"/>
<line x1="645.30" y1="219.20" x2="645.30" y2="394.70" stroke="#e8e8e8" stroke-width="0.6"/>
<line x1="628.40" y1="241.00" x2="628.40" y2="312.10" stroke="#5bbfcc" stroke-width="0.9"/>
<line x1="628.40" y1="356.10" x2="628.40" y2="391.10" stroke="#5bbfcc" stroke-width="0.9"/>
<line x1="622.10" y1="241.00" x2="634.70" y2="241.00" stroke="#5bbfcc" stroke-width="0.9"/>
<line x1="622.10" y1="391.10" x2="634.70" y2="391.10" stroke="#5bbfcc" stroke-width="0.9"/>
<rect x="615.40" y="312.10" width="26" height="44.00" fill="#a9dde2" stroke="#5bbfcc" stroke-width="0.9"/>
<line x1="615.40" y1="337.10" x2="641.40" y2="337.10" stroke="#5bbfcc" stroke-width="0.9"/>
<line x1="660.40" y1="233.00" x2="660.40" y2="288.30" stroke="#d9574a" stroke-width="0.9"/>
<line x1="660.40" y1="330.10" x2="660.40" y2="385.70" stroke="#d9574a" stroke-width="0.9"/>
<line x1="654.10" y1="233.00" x2="666.70" y2="233.00" stroke="#d9574a" stroke-width="0.9"/>
<line x1="654.10" y1="385.70" x2="666.70" y2="385.70" stroke="#d9574a" stroke-width="0.9"/>
<rect x="647.40" y="288.30" width="26" height="41.80" fill="#e29a93" stroke="#d9574a" stroke-width="0.9"/>
<line x1="647.40" y1="309.50" x2="673.40" y2="309.50" stroke="#d9574a" stroke-width="0.9"/>
<rect x="607.6" y="219.2" width="75.39999999999998" height="175.5" fill="none" stroke="#5a5a5a" stroke-width="0.9"/>
<line x1="607.60" y1="219.20" x2="607.60" y2="394.70" stroke="#7c7c7c" stroke-width="1.3"/>
<line x1="607.00" y1="394.70" x2="683.00" y2="394.70" stroke="#7c7c7c" stroke-width="1.3"/>
<line x1="605.10" y1="248.10" x2="607.60" y2="248.10" stroke="#333" stroke-width="0.7"/>
<text x="604.9" y="250.6" font-family='"Liberation Serif", serif' font-size="7.4" fill="#222" text-anchor="end">4,000</text>
<line x1="605.10" y1="284.40" x2="607.60" y2="284.40" stroke="#333" stroke-width="0.7"/>
<text x="604.9" y="286.9" font-family='"Liberation Serif", serif' font-size="7.4" fill="#222" text-anchor="end">2,000</text>
<line x1="605.10" y1="320.50" x2="607.60" y2="320.50" stroke="#333" stroke-width="0.7"/>
<text x="604.9" y="323.0" font-family='"Liberation Serif", serif' font-size="7.4" fill="#222" text-anchor="end">0</text>
<line x1="605.10" y1="356.70" x2="607.60" y2="356.70" stroke="#333" stroke-width="0.7"/>
<text x="604.9" y="359.2" font-family='"Liberation Serif", serif' font-size="7.4" fill="#222" text-anchor="end">−2,000</text>
<line x1="605.10" y1="392.90" x2="607.60" y2="392.90" stroke="#333" stroke-width="0.7"/>
<text x="604.9" y="395.4" font-family='"Liberation Serif", serif' font-size="7.4" fill="#222" text-anchor="end">−4,000</text>
<line x1="645.30" y1="394.70" x2="645.30" y2="397.20" stroke="#333" stroke-width="0.7"/>
<text x="645.3" y="229.6" font-family='"Liberation Serif", serif' font-size="7.2" fill="#222" text-anchor="middle">5.6e-14</text>
<text x="648.4" y="407.6" font-family='"Liberation Serif", serif' font-size="9.2" fill="#222" text-anchor="middle">ESTIMATEScore</text>
<text x="587.0" y="306.9" font-family='"Liberation Serif", serif' font-size="12" fill="#111" text-anchor="middle" transform="rotate(-90 587.0 306.9)">Expression</text>
<text x="574.3" y="223.4" font-family='"Liberation Serif", serif' font-size="9.0" fill="#111" text-anchor="start" font-weight="bold">group</text>
<circle cx="577.6" cy="229.2" r="2.7" fill="#5bbfcc"/>
<text x="582.2" y="231.5" font-family='"Liberation Serif", serif' font-size="6.6" fill="#333" text-anchor="start">L</text>
<circle cx="577.6" cy="237.8" r="2.7" fill="#dc4a34"/>
<text x="582.2" y="240.1" font-family='"Liberation Serif", serif' font-size="6.6" fill="#333" text-anchor="start">H</text>
<rect x="74.00" y="502.40" width="196.90" height="11.30" fill="#f3f3f3"/>
<rect x="275.00" y="502.40" width="194.70" height="11.30" fill="#f3f3f3"/>
<rect x="74.00" y="514.43" width="196.90" height="11.30" fill="#f3f3f3"/>
<rect x="275.00" y="514.43" width="194.70" height="11.30" fill="#f3f3f3"/>
<rect x="74.00" y="526.46" width="196.90" height="11.30" fill="#f3f3f3"/>
<rect x="275.00" y="526.46" width="194.70" height="11.30" fill="#f3f3f3"/>
<rect x="74.00" y="538.49" width="196.90" height="11.30" fill="#f3f3f3"/>
<rect x="275.00" y="538.49" width="194.70" height="11.30" fill="#f3f3f3"/>
<rect x="74.00" y="550.52" width="196.90" height="11.30" fill="#f3f3f3"/>
<rect x="275.00" y="550.52" width="194.70" height="11.30" fill="#f3f3f3"/>
<rect x="74.00" y="562.55" width="196.90" height="11.30" fill="#f3f3f3"/>
<rect x="275.00" y="562.55" width="194.70" height="11.30" fill="#f3f3f3"/>
<rect x="74.00" y="574.58" width="196.90" height="11.30" fill="#f3f3f3"/>
<rect x="275.00" y="574.58" width="194.70" height="11.30" fill="#f3f3f3"/>
<rect x="74.00" y="586.61" width="196.90" height="11.30" fill="#f3f3f3"/>
<rect x="275.00" y="586.61" width="194.70" height="11.30" fill="#f3f3f3"/>
<rect x="74.00" y="598.64" width="196.90" height="11.30" fill="#f3f3f3"/>
<rect x="275.00" y="598.64" width="194.70" height="11.30" fill="#f3f3f3"/>
<rect x="74.00" y="610.67" width="196.90" height="11.30" fill="#f3f3f3"/>
<rect x="275.00" y="610.67" width="194.70" height="11.30" fill="#f3f3f3"/>
<rect x="74.00" y="622.70" width="196.90" height="11.30" fill="#f3f3f3"/>
<rect x="275.00" y="622.70" width="194.70" height="11.30" fill="#f3f3f3"/>
<rect x="74.00" y="634.73" width="196.90" height="11.30" fill="#f3f3f3"/>
<rect x="275.00" y="634.73" width="194.70" height="11.30" fill="#f3f3f3"/>
<rect x="74.00" y="646.76" width="196.90" height="11.30" fill="#f3f3f3"/>
<rect x="275.00" y="646.76" width="194.70" height="11.30" fill="#f3f3f3"/>
<rect x="74.00" y="658.79" width="196.90" height="11.30" fill="#f3f3f3"/>
<rect x="275.00" y="658.79" width="194.70" height="11.30" fill="#f3f3f3"/>
<rect x="74.00" y="670.82" width="196.90" height="11.30" fill="#f3f3f3"/>
<rect x="275.00" y="670.82" width="194.70" height="11.30" fill="#f3f3f3"/>
<rect x="74.00" y="682.85" width="196.90" height="11.30" fill="#f3f3f3"/>
<rect x="275.00" y="682.85" width="194.70" height="11.30" fill="#f3f3f3"/>
<rect x="74.00" y="694.88" width="196.90" height="11.30" fill="#f3f3f3"/>
<rect x="275.00" y="694.88" width="194.70" height="11.30" fill="#f3f3f3"/>
<rect x="74.00" y="706.91" width="196.90" height="11.30" fill="#f3f3f3"/>
<rect x="275.00" y="706.91" width="194.70" height="11.30" fill="#f3f3f3"/>
<rect x="74.00" y="718.94" width="196.90" height="11.30" fill="#f3f3f3"/>
<rect x="275.00" y="718.94" width="194.70" height="11.30" fill="#f3f3f3"/>
<rect x="74.00" y="730.97" width="196.90" height="11.30" fill="#f3f3f3"/>
<rect x="275.00" y="730.97" width="194.70" height="11.30" fill="#f3f3f3"/>
<rect x="74.00" y="502.40" width="0.70" height="11.30" fill="#cbe5c4"/>
<rect x="74.70" y="502.40" width="1.50" height="11.30" fill="#cbe5c4"/>
<rect x="76.20" y="502.40" width="0.70" height="11.30" fill="#cbe5c4"/>
<rect x="76.90" y="502.40" width="0.90" height="11.30" fill="#cbe5c4"/>
<rect x="77.80" y="502.40" width="0.90" height="11.30" fill="#cbe5c4"/>
<rect x="78.70" y="502.40" width="0.70" height="11.30" fill="#cbe5c4"/>
<rect x="79.40" y="502.40" width="0.70" height="11.30" fill="#b8cfe8"/>
<rect x="80.10" y="502.40" width="0.70" height="11.30" fill="#cfc0e2"/>
<rect x="80.80" y="502.40" width="0.90" height="11.30" fill="#efb0ab"/>
<rect x="81.70" y="502.40" width="1.50" height="11.30" fill="#cbe5c4"/>
<rect x="83.20" y="502.40" width="1.20" height="11.30" fill="#e8b0bb"/>
<rect x="84.40" y="502.40" width="1.20" height="11.30" fill="#cbe5c4"/>
<rect x="85.60" y="502.40" width="1.00" height="11.30" fill="#efb0ab"/>
<rect x="86.60" y="502.40" width="0.90" height="11.30" fill="#cbe5c4"/>
<rect x="87.50" y="502.40" width="1.50" height="11.30" fill="#cbe5c4"/>
<rect x="89.00" y="502.40" width="0.70" height="11.30" fill="#efb0ab"/>
<rect x="89.70" y="502.40" width="0.70" height="11.30" fill="#efb0ab"/>
<rect x="90.40" y="502.40" width="1.00" height="11.30" fill="#b8cfe8"/>
<rect x="91.40" y="502.40" width="0.90" height="11.30" fill="#cbe5c4"/>
<rect x="92.30" y="502.40" width="1.00" height="11.30" fill="#efb0ab"/>
<rect x="93.30" y="502.40" width="0.90" height="11.30" fill="#efb0ab"/>
<rect x="94.20" y="502.40" width="0.90" height="11.30" fill="#cbe5c4"/>
<rect x="95.10" y="502.40" width="0.70" height="11.30" fill="#f4cca8"/>
<rect x="95.80" y="502.40" width="1.20" height="11.30" fill="#cbe5c4"/>
<rect x="97.00" y="502.40" width="1.00" height="11.30" fill="#cbe5c4"/>
<rect x="98.00" y="502.40" width="1.00" height="11.30" fill="#b8cfe8"/>
<rect x="99.00" y="502.40" width="0.90" height="11.30" fill="#cbe5c4"/>
<rect x="99.90" y="502.40" width="1.00" height="11.30" fill="#cbe5c4"/>
<rect x="100.90" y="502.40" width="1.50" height="11.30" fill="#cfc0e2"/>
<rect x="102.40" y="502.40" width="1.00" height="11.30" fill="#efb0ab"/>
<rect x="102.40" y="508.05" width="1.00" height="5.65" fill="#efb0ab"/>
<rect x="103.40" y="502.40" width="1.20" height="11.30" fill="#efb0ab"/>
<rect x="104.60" y="502.40" width="1.20" height="11.30" fill="#b8cfe8"/>
<rect x="105.80" y="502.40" width="1.00" height="11.30" fill="#cbe5c4"/>
<rect x="106.80" y="502.40" width="1.20" height="11.30" fill="#cbe5c4"/>
<rect x="108.00" y="502.40" width="0.70" height="11.30" fill="#efb0ab"/>
<rect x="108.70" y="502.40" width="0.90" height="11.30" fill="#cbe5c4"/>
<rect x="109.60" y="502.40" width="1.20" height="11.30" fill="#efb0ab"/>
<rect x="110.80" y="502.40" width="1.50" height="11.30" fill="#f4cca8"/>
<rect x="112.30" y="502.40" width="1.00" height="11.30" fill="#cbe5c4"/>
<rect x="113.30" y="502.40" width="0.70" height="11.30" fill="#cbe5c4"/>
<rect x="114.00" y="502.40" width="0.70" height="11.30" fill="#cbe5c4"/>
<rect x="114.70" y="502.40" width="1.20" height="11.30" fill="#f4cca8"/>
<rect x="115.90" y="502.40" width="0.90" height="11.30" fill="#cbe5c4"/>
<rect x="116.80" y="502.40" width="1.50" height="11.30" fill="#cbe5c4"/>
<rect x="118.30" y="502.40" width="1.00" height="11.30" fill="#cbe5c4"/>
<rect x="119.30" y="502.40" width="0.70" height="11.30" fill="#b8cfe8"/>
<rect x="120.00" y="502.40" width="1.20" height="11.30" fill="#efb0ab"/>
<rect x="121.20" y="502.40" width="1.50" height="11.30" fill="#cbe5c4"/>
<rect x="122.70" y="502.40" width="1.50" height="11.30" fill="#cbe5c4"/>
<rect x="124.20" y="502.40" width="1.50" height="11.30" fill="#cbe5c4"/>
<rect x="125.70" y="502.40" width="0.90" height="11.30" fill="#efb0ab"/>
<rect x="126.60" y="502.40" width="0.90" height="11.30" fill="#cbe5c4"/>
<rect x="127.50" y="502.40" width="0.70" height="11.30" fill="#cbe5c4"/>
<rect x="128.20" y="502.40" width="1.50" height="11.30" fill="#cbe5c4"/>
<rect x="129.70" y="502.40" width="0.70" height="11.30" fill="#b8cfe8"/>
<rect x="129.70" y="508.05" width="0.70" height="5.65" fill="#cbe5c4"/>
<rect x="130.40" y="502.40" width="0.70" height="11.30" fill="#efb0ab"/>
<rect x="131.10" y="502.40" width="1.50" height="11.30" fill="#cbe5c4"/>
<rect x="132.60" y="502.40" width="0.70" height="11.30" fill="#cbe5c4"/>
<rect x="133.30" y="502.40" width="1.50" height="11.30" fill="#efb0ab"/>
<rect x="134.80" y="502.40" width="1.00" height="11.30" fill="#cbe5c4"/>
<rect x="135.80" y="502.40" width="1.20" height="11.30" fill="#cbe5c4"/>
<rect x="137.00" y="502.40" width="1.50" height="11.30" fill="#cfc0e2"/>
<rect x="138.50" y="502.40" width="1.00" height="11.30" fill="#b8cfe8"/>
<rect x="139.50" y="502.40" width="0.90" height="11.30" fill="#cfc0e2"/>
<rect x="140.40" y="502.40" width="0.70" height="11.30" fill="#cbe5c4"/>
<rect x="141.10" y="502.40" width="0.90" height="11.30" fill="#cbe5c4"/>
<rect x="142.00" y="502.40" width="1.00" height="11.30" fill="#efb0ab"/>
<rect x="143.00" y="502.40" width="0.90" height="11.30" fill="#b8cfe8"/>
<rect x="143.90" y="502.40" width="1.00" height="11.30" fill="#cbe5c4"/>
<rect x="144.90" y="502.40" width="1.20" height="11.30" fill="#cbe5c4"/>
<rect x="146.10" y="502.40" width="1.20" height="11.30" fill="#b8cfe8"/>
<rect x="147.30" y="502.40" width="0.90" height="11.30" fill="#cbe5c4"/>
<rect x="148.20" y="502.40" width="1.50" height="11.30" fill="#cbe5c4"/>
<rect x="149.70" y="502.40" width="1.00" height="11.30" fill="#cbe5c4"/>
<rect x="150.70" y="502.40" width="0.70" height="11.30" fill="#cbe5c4"/>
<rect x="151.40" y="502.40" width="0.70" height="11.30" fill="#cbe5c4"/>
<rect x="152.10" y="502.40" width="1.00" height="11.30" fill="#cbe5c4"/>
<rect x="152.10" y="508.05" width="1.00" height="5.65" fill="#f4cca8"/>
<rect x="153.10" y="502.40" width="0.90" height="11.30" fill="#f4cca8"/>
<rect x="153.10" y="508.05" width="0.90" height="5.65" fill="#cbe5c4"/>
<rect x="154.00" y="502.40" width="0.70" height="11.30" fill="#b8cfe8"/>
<rect x="154.70" y="502.40" width="0.90" height="11.30" fill="#efb0ab"/>
<rect x="155.60" y="502.40" width="1.00" height="11.30" fill="#cbe5c4"/>
<rect x="156.60" y="502.40" width="1.50" height="11.30" fill="#cbe5c4"/>
<rect x="158.10" y="502.40" width="0.70" height="11.30" fill="#cbe5c4"/>
<rect x="158.80" y="502.40" width="0.90" height="11.30" fill="#cbe5c4"/>
<rect x="158.80" y="508.05" width="0.90" height="5.65" fill="#b8cfe8"/>
<rect x="159.70" y="502.40" width="0.70" height="11.30" fill="#efb0ab"/>
<rect x="159.70" y="508.05" width="0.70" height="5.65" fill="#cfc0e2"/>
<rect x="160.40" y="502.40" width="0.70" height="11.30" fill="#cbe5c4"/>
<rect x="161.10" y="502.40" width="0.70" height="11.30" fill="#cbe5c4"/>
<rect x="275.00" y="502.40" width="1.00" height="11.30" fill="#efb0ab"/>
<rect x="275.00" y="508.05" width="1.00" height="5.65" fill="#efb0ab"/>
<rect x="276.00" y="502.40" width="0.70" height="11.30" fill="#f4cca8"/>
<rect x="276.70" y="502.40" width="0.90" height="11.30" fill="#cbe5c4"/>
<rect x="277.60" y="502.40" width="1.00" height="11.30" fill="#cbe5c4"/>
<rect x="278.60" y="502.40" width="1.20" height="11.30" fill="#cbe5c4"/>
<rect x="279.80" y="502.40" width="1.00" height="11.30" fill="#efb0ab"/>
<rect x="280.80" y="502.40" width="0.70" height="11.30" fill="#cbe5c4"/>
<rect x="281.50" y="502.40" width="1.50" height="11.30" fill="#f4cca8"/>
<rect x="283.00" y="502.40" width="0.90" height="11.30" fill="#b8cfe8"/>
<rect x="283.00" y="508.05" width="0.90" height="5.65" fill="#efb0ab"/>
<rect x="283.90" y="502.40" width="1.20" height="11.30" fill="#efb0ab"/>
<rect x="285.10" y="502.40" width="1.20" height="11.30" fill="#f4cca8"/>
<rect x="286.30" y="502.40" width="0.90" height="11.30" fill="#f4cca8"/>
<rect x="287.20" y="502.40" width="0.90" height="11.30" fill="#cbe5c4"/>
<rect x="288.10" y="502.40" width="0.70" height="11.30" fill="#cfc0e2"/>
<rect x="288.10" y="508.05" width="0.70" height="5.65" fill="#efb0ab"/>
<rect x="288.80" y="502.40" width="1.00" height="11.30" fill="#cbe5c4"/>
<rect x="288.80" y="508.05" width="1.00" height="5.65" fill="#efb0ab"/>
<rect x="289.80" y="502.40" width="1.20" height="11.30" fill="#cfc0e2"/>
<rect x="291.00" y="502.40" width="1.00" height="11.30" fill="#efb0ab"/>
<rect x="292.00" y="502.40" width="0.70" height="11.30" fill="#cbe5c4"/>
<rect x="292.70" y="502.40" width="1.20" height="11.30" fill="#cbe5c4"/>
<rect x="293.90" y="502.40" width="1.00" height="11.30" fill="#f4cca8"/>
<rect x="294.90" y="502.40" width="0.90" height="11.30" fill="#cbe5c4"/>
<rect x="295.80" y="502.40" width="0.90" height="11.30" fill="#cbe5c4"/>
<rect x="295.80" y="508.05" width="0.90" height="5.65" fill="#cbe5c4"/>
<rect x="296.70" y="502.40" width="1.20" height="11.30" fill="#cbe5c4"/>
<rect x="297.90" y="502.40" width="0.90" height="11.30" fill="#cbe5c4"/>
<rect x="297.90" y="508.05" width="0.90" height="5.65" fill="#cbe5c4"/>
<rect x="298.80" y="502.40" width="0.70" height="11.30" fill="#cbe5c4"/>
<rect x="299.50" y="502.40" width="1.20" height="11.30" fill="#cbe5c4"/>
<rect x="300.70" y="502.40" width="0.90" height="11.30" fill="#cbe5c4"/>
<rect x="301.60" y="502.40" width="0.90" height="11.30" fill="#efb0ab"/>
<rect x="302.50" y="502.40" width="1.50" height="11.30" fill="#cbe5c4"/>
<rect x="304.00" y="502.40" width="1.20" height="11.30" fill="#cbe5c4"/>
<rect x="305.20" y="502.40" width="0.90" height="11.30" fill="#cbe5c4"/>
<rect x="306.10" y="502.40" width="1.50" height="11.30" fill="#efb0ab"/>
<rect x="307.60" y="502.40" width="1.50" height="11.30" fill="#cbe5c4"/>
<rect x="309.10" y="502.40" width="1.50" height="11.30" fill="#cbe5c4"/>
<rect x="310.60" y="502.40" width="0.70" height="11.30" fill="#cfc0e2"/>
<rect x="311.30" y="502.40" width="0.90" height="11.30" fill="#cbe5c4"/>
<rect x="311.30" y="508.05" width="0.90" height="5.65" fill="#efb0ab"/>
<rect x="312.20" y="502.40" width="0.70" height="11.30" fill="#cbe5c4"/>
<rect x="312.90" y="502.40" width="0.70" height="11.30" fill="#efb0ab"/>
<rect x="313.60" y="502.40" width="0.90" height="11.30" fill="#cbe5c4"/>
<rect x="313.60" y="508.05" width="0.90" height="5.65" fill="#efb0ab"/>
<rect x="314.50" y="502.40" width="1.50" height="11.30" fill="#b8cfe8"/>
<rect x="314.50" y="508.05" width="1.50" height="5.65" fill="#cbe5c4"/>
<rect x="316.00" y="502.40" width="1.20" height="11.30" fill="#cbe5c4"/>
<rect x="316.00" y="508.05" width="1.20" height="5.65" fill="#cbe5c4"/>
<rect x="317.20" y="502.40" width="0.90" height="11.30" fill="#cbe5c4"/>
<rect x="318.10" y="502.40" width="1.20" height="11.30" fill="#cbe5c4"/>
<rect x="319.30" y="502.40" width="1.20" height="11.30" fill="#b8cfe8"/>
<rect x="320.50" y="502.40" width="0.70" height="11.30" fill="#efb0ab"/>
<rect x="321.20" y="502.40" width="0.70" height="11.30" fill="#efb0ab"/>
<rect x="321.90" y="502.40" width="1.00" height="11.30" fill="#efb0ab"/>
<rect x="322.90" y="502.40" width="1.20" height="11.30" fill="#cbe5c4"/>
<rect x="324.10" y="502.40" width="0.70" height="11.30" fill="#efb0ab"/>
<rect x="324.80" y="502.40" width="1.00" height="11.30" fill="#efb0ab"/>
<rect x="325.80" y="502.40" width="1.20" height="11.30" fill="#cbe5c4"/>
<rect x="325.80" y="508.05" width="1.20" height="5.65" fill="#b8cfe8"/>
<rect x="327.00" y="502.40" width="0.90" height="11.30" fill="#cbe5c4"/>
<rect x="327.00" y="508.05" width="0.90" height="5.65" fill="#cbe5c4"/>
<rect x="327.90" y="502.40" width="1.00" height="11.30" fill="#cbe5c4"/>
<rect x="328.90" y="502.40" width="1.20" height="11.30" fill="#e8b0bb"/>
<rect x="330.10" y="502.40" width="0.90" height="11.30" fill="#cbe5c4"/>
<rect x="330.10" y="508.05" width="0.90" height="5.65" fill="#efb0ab"/>
<rect x="331.00" y="502.40" width="1.00" height="11.30" fill="#b8cfe8"/>
<rect x="332.00" y="502.40" width="1.50" height="11.30" fill="#cbe5c4"/>
<rect x="332.00" y="508.05" width="1.50" height="5.65" fill="#cbe5c4"/>
<rect x="333.50" y="502.40" width="1.20" height="11.30" fill="#b8cfe8"/>
<rect x="334.70" y="502.40" width="0.70" height="11.30" fill="#cbe5c4"/>
<rect x="335.40" y="502.40" width="1.20" height="11.30" fill="#cbe5c4"/>
<rect x="336.60" y="502.40" width="1.20" height="11.30" fill="#cbe5c4"/>
<rect x="337.80" y="502.40" width="1.00" height="11.30" fill="#cbe5c4"/>
<rect x="338.80" y="502.40" width="1.20" height="11.30" fill="#cbe5c4"/>
<rect x="340.00" y="502.40" width="0.70" height="11.30" fill="#b8cfe8"/>
<rect x="340.70" y="502.40" width="1.00" height="11.30" fill="#cbe5c4"/>
<rect x="341.70" y="502.40" width="1.50" height="11.30" fill="#cbe5c4"/>
<rect x="343.20" y="502.40" width="1.00" height="11.30" fill="#cfc0e2"/>
<rect x="344.20" y="502.40" width="0.70" height="11.30" fill="#cfc0e2"/>
<rect x="344.90" y="502.40" width="0.90" height="11.30" fill="#cbe5c4"/>
<rect x="345.80" y="502.40" width="1.50" height="11.30" fill="#cbe5c4"/>
<rect x="347.30" y="502.40" width="1.20" height="11.30" fill="#b8cfe8"/>
<rect x="348.50" y="502.40" width="1.20" height="11.30" fill="#b8cfe8"/>
<rect x="349.70" y="502.40" width="1.50" height="11.30" fill="#cbe5c4"/>
<rect x="349.70" y="508.05" width="1.50" height="5.65" fill="#b8cfe8"/>
<rect x="351.20" y="502.40" width="1.20" height="11.30" fill="#cbe5c4"/>
<rect x="352.40" y="502.40" width="1.00" height="11.30" fill="#cbe5c4"/>
<rect x="353.40" y="502.40" width="1.50" height="11.30" fill="#cbe5c4"/>
<rect x="354.90" y="502.40" width="1.00" height="11.30" fill="#cbe5c4"/>
<rect x="355.90" y="502.40" width="1.00" height="11.30" fill="#cbe5c4"/>
<rect x="356.90" y="502.40" width="1.20" height="11.30" fill="#cbe5c4"/>
<rect x="358.10" y="502.40" width="0.90" height="11.30" fill="#efb0ab"/>
<rect x="358.10" y="508.05" width="0.90" height="5.65" fill="#cbe5c4"/>
<rect x="359.00" y="502.40" width="1.20" height="11.30" fill="#cbe5c4"/>
<rect x="360.20" y="502.40" width="1.00" height="11.30" fill="#e8b0bb"/>
<rect x="361.20" y="502.40" width="0.90" height="11.30" fill="#cbe5c4"/>
<rect x="362.10" y="502.40" width="0.90" height="11.30" fill="#cbe5c4"/>
<rect x="362.10" y="508.05" width="0.90" height="5.65" fill="#cbe5c4"/>
<rect x="363.00" y="502.40" width="1.00" height="11.30" fill="#efb0ab"/>
<rect x="364.00" y="502.40" width="0.70" height="11.30" fill="#efb0ab"/>
<rect x="364.70" y="502.40" width="1.20" height="11.30" fill="#efb0ab"/>
<rect x="365.90" y="502.40" width="1.00" height="11.30" fill="#cbe5c4"/>
<rect x="365.90" y="508.05" width="1.00" height="5.65" fill="#cbe5c4"/>
<rect x="366.90" y="502.40" width="1.00" height="11.30" fill="#cbe5c4"/>
<rect x="367.90" y="502.40" width="0.90" height="11.30" fill="#cbe5c4"/>
<rect x="368.80" y="502.40" width="1.20" height="11.30" fill="#cbe5c4"/>
<rect x="370.00" y="502.40" width="1.00" height="11.30" fill="#cfc0e2"/>
<rect x="371.00" y="502.40" width="0.70" height="11.30" fill="#cbe5c4"/>
<rect x="371.70" y="502.40" width="1.20" height="11.30" fill="#f4cca8"/>
<rect x="372.90" y="502.40" width="0.70" height="11.30" fill="#cbe5c4"/>
<rect x="373.60" y="502.40" width="1.50" height="11.30" fill="#cfc0e2"/>
<rect x="375.10" y="502.40" width="0.90" height="11.30" fill="#efb0ab"/>
<rect x="376.00" y="502.40" width="0.90" height="11.30" fill="#cbe5c4"/>
<rect x="376.90" y="502.40" width="1.20" height="11.30" fill="#cbe5c4"/>
<rect x="378.10" y="502.40" width="0.70" height="11.30" fill="#efb0ab"/>
<rect x="378.80" y="502.40" width="0.70" height="11.30" fill="#efb0ab"/>
<rect x="379.50" y="502.40" width="0.90" height="11.30" fill="#efb0ab"/>
<rect x="380.40" y="502.40" width="0.40" height="11.30" fill="#efb0ab"/>
<rect x="380.40" y="508.05" width="0.40" height="5.65" fill="#cbe5c4"/>
<rect x="74.00" y="514.43" width="1.50" height="11.30" fill="#efb0ab"/>
<rect x="75.50" y="514.43" width="1.00" height="11.30" fill="#cbe5c4"/>
<rect x="76.50" y="514.43" width="0.70" height="11.30" fill="#cbe5c4"/>
<rect x="77.20" y="514.43" width="1.00" height="11.30" fill="#efb0ab"/>
<rect x="78.20" y="514.43" width="0.90" height="11.30" fill="#cbe5c4"/>
<rect x="79.10" y="514.43" width="0.90" height="11.30" fill="#cbe5c4"/>
<rect x="80.00" y="514.43" width="1.00" height="11.30" fill="#cbe5c4"/>
<rect x="81.00" y="514.43" width="1.20" height="11.30" fill="#cbe5c4"/>
<rect x="82.20" y="514.43" width="1.20" height="11.30" fill="#efb0ab"/>
<rect x="83.40" y="514.43" width="0.70" height="11.30" fill="#cbe5c4"/>
<rect x="84.10" y="514.43" width="1.00" height="11.30" fill="#cbe5c4"/>
<rect x="85.10" y="514.43" width="1.00" height="11.30" fill="#cbe5c4"/>
<rect x="86.10" y="514.43" width="0.90" height="11.30" fill="#cbe5c4"/>
<rect x="87.00" y="514.43" width="0.90" height="11.30" fill="#cbe5c4"/>
<rect x="87.90" y="514.43" width="1.00" height="11.30" fill="#cbe5c4"/>
<rect x="88.90" y="514.43" width="1.50" height="11.30" fill="#cbe5c4"/>
<rect x="90.40" y="514.43" width="1.20" height="11.30" fill="#efb0ab"/>
<rect x="90.40" y="520.08" width="1.20" height="5.65" fill="#cbe5c4"/>
<rect x="91.60" y="514.43" width="1.20" height="11.30" fill="#cbe5c4"/>
<rect x="91.60" y="520.08" width="1.20" height="5.65" fill="#cbe5c4"/>
<rect x="92.80" y="514.43" width="1.20" height="11.30" fill="#cbe5c4"/>
<rect x="92.80" y="520.08" width="1.20" height="5.65" fill="#cbe5c4"/>
<rect x="94.00" y="514.43" width="1.00" height="11.30" fill="#cbe5c4"/>
<rect x="95.00" y="514.43" width="0.90" height="11.30" fill="#cbe5c4"/>
<rect x="95.90" y="514.43" width="1.50" height="11.30" fill="#cbe5c4"/>
<rect x="95.90" y="520.08" width="1.50" height="5.65" fill="#cbe5c4"/>
<rect x="97.40" y="514.43" width="1.20" height="11.30" fill="#cbe5c4"/>
<rect x="98.60" y="514.43" width="1.20" height="11.30" fill="#cbe5c4"/>
<rect x="98.60" y="520.08" width="1.20" height="5.65" fill="#cbe5c4"/>
<rect x="99.80" y="514.43" width="1.00" height="11.30" fill="#cbe5c4"/>
<rect x="100.80" y="514.43" width="1.50" height="11.30" fill="#cfc0e2"/>
<rect x="102.30" y="514.43" width="1.00" height="11.30" fill="#cbe5c4"/>
<rect x="103.30" y="514.43" width="1.20" height="11.30" fill="#cbe5c4"/>
<rect x="104.50" y="514.43" width="0.90" height="11.30" fill="#cbe5c4"/>
<rect x="105.40" y="514.43" width="0.90" height="11.30" fill="#cbe5c4"/>
<rect x="106.30" y="514.43" width="1.20" height="11.30" fill="#cbe5c4"/>
<rect x="107.50" y="514.43" width="1.20" height="11.30" fill="#cbe5c4"/>
<rect x="107.50" y="520.08" width="1.20" height="5.65" fill="#cbe5c4"/>
<rect x="108.70" y="514.43" width="0.70" height="11.30" fill="#cbe5c4"/>
<rect x="109.40" y="514.43" width="1.50" height="11.30" fill="#cbe5c4"/>
<rect x="110.90" y="514.43" width="1.50" height="11.30" fill="#cbe5c4"/>
<rect x="112.40" y="514.43" width="1.00" height="11.30" fill="#efb0ab"/>
<rect x="113.40" y="514.43" width="1.50" height="11.30" fill="#efb0ab"/>
<rect x="114.90" y="514.43" width="0.70" height="11.30" fill="#cbe5c4"/>
<rect x="115.60" y="514.43" width="0.50" height="11.30" fill="#cbe5c4"/>
<rect x="162.00" y="514.43" width="1.20" height="11.30" fill="#cbe5c4"/>
<rect x="163.20" y="514.43" width="1.20" height="11.30" fill="#cbe5c4"/>
<rect x="164.40" y="514.43" width="0.70" height="11.30" fill="#cbe5c4"/>
<rect x="165.10" y="514.43" width="0.90" height="11.30" fill="#cbe5c4"/>
<rect x="166.00" y="514.43" width="1.00" height="11.30" fill="#cbe5c4"/>
<rect x="167.00" y="514.43" width="1.50" height="11.30" fill="#cbe5c4"/>
<rect x="168.50" y="514.43" width="0.90" height="11.30" fill="#cbe5c4"/>
<rect x="168.50" y="520.08" width="0.90" height="5.65" fill="#cbe5c4"/>
<rect x="169.40" y="514.43" width="1.50" height="11.30" fill="#cbe5c4"/>
<rect x="170.90" y="514.43" width="1.20" height="11.30" fill="#efb0ab"/>
<rect x="172.10" y="514.43" width="1.00" height="11.30" fill="#cbe5c4"/>
<rect x="173.10" y="514.43" width="1.20" height="11.30" fill="#cbe5c4"/>
<rect x="174.30" y="514.43" width="1.20" height="11.30" fill="#cbe5c4"/>
<rect x="175.50" y="514.43" width="1.20" height="11.30" fill="#cbe5c4"/>
<rect x="176.70" y="514.43" width="1.50" height="11.30" fill="#cbe5c4"/>
<rect x="178.20" y="514.43" width="0.70" height="11.30" fill="#cbe5c4"/>
<rect x="178.90" y="514.43" width="1.00" height="11.30" fill="#cbe5c4"/>
<rect x="179.90" y="514.43" width="1.00" height="11.30" fill="#cbe5c4"/>
<rect x="180.90" y="514.43" width="0.90" height="11.30" fill="#cbe5c4"/>
<rect x="181.80" y="514.43" width="1.50" height="11.30" fill="#cbe5c4"/>
<rect x="181.80" y="520.08" width="1.50" height="5.65" fill="#cbe5c4"/>
<rect x="183.30" y="514.43" width="0.90" height="11.30" fill="#cbe5c4"/>
<rect x="184.20" y="514.43" width="0.70" height="11.30" fill="#cbe5c4"/>
<rect x="184.90" y="514.43" width="0.70" height="11.30" fill="#cbe5c4"/>
<rect x="185.60" y="514.43" width="0.90" height="11.30" fill="#cbe5c4"/>
<rect x="186.50" y="514.43" width="0.70" height="11.30" fill="#cbe5c4"/>
<rect x="187.20" y="514.43" width="0.70" height="11.30" fill="#cbe5c4"/>
<rect x="187.90" y="514.43" width="1.50" height="11.30" fill="#cbe5c4"/>
<rect x="187.90" y="520.08" width="1.50" height="5.65" fill="#cbe5c4"/>
<rect x="189.40" y="514.43" width="0.90" height="11.30" fill="#cbe5c4"/>
<rect x="190.30" y="514.43" width="0.70" height="11.30" fill="#cbe5c4"/>
<rect x="191.00" y="514.43" width="1.50" height="11.30" fill="#cbe5c4"/>
<rect x="191.00" y="520.08" width="1.50" height="5.65" fill="#cbe5c4"/>
<rect x="192.50" y="514.43" width="0.70" height="11.30" fill="#cbe5c4"/>
<rect x="193.20" y="514.43" width="1.50" height="11.30" fill="#cbe5c4"/>
<rect x="194.70" y="514.43" width="0.70" height="11.30" fill="#cbe5c4"/>
<rect x="195.40" y="514.43" width="1.00" height="11.30" fill="#cbe5c4"/>
<rect x="196.40" y="514.43" width="0.90" height="11.30" fill="#cbe5c4"/>
<rect x="197.30" y="514.43" width="1.20" height="11.30" fill="#cbe5c4"/>
<rect x="197.30" y="520.08" width="1.20" height="5.65" fill="#cbe5c4"/>
<rect x="198.50" y="514.43" width="1.50" height="11.30" fill="#cbe5c4"/>
<rect x="200.00" y="514.43" width="0.90" height="11.30" fill="#cbe5c4"/>
<rect x="200.90" y="514.43" width="1.00" height="11.30" fill="#cbe5c4"/>
<rect x="201.90" y="514.43" width="0.70" height="11.30" fill="#cbe5c4"/>
<rect x="202.60" y="514.43" width="1.00" height="11.30" fill="#cbe5c4"/>
<rect x="202.60" y="520.08" width="1.00" height="5.65" fill="#cbe5c4"/>
<rect x="203.60" y="514.43" width="1.00" height="11.30" fill="#cbe5c4"/>
<rect x="204.60" y="514.43" width="1.20" height="11.30" fill="#cbe5c4"/>
<rect x="204.60" y="520.08" width="1.20" height="5.65" fill="#efb0ab"/>
<rect x="205.80" y="514.43" width="1.20" height="11.30" fill="#cbe5c4"/>
<rect x="205.80" y="520.08" width="1.20" height="5.65" fill="#cbe5c4"/>
<rect x="207.00" y="514.43" width="1.00" height="11.30" fill="#cbe5c4"/>
<rect x="208.00" y="514.43" width="0.60" height="11.30" fill="#cbe5c4"/>
<rect x="275.00" y="514.43" width="1.20" height="11.30" fill="#cbe5c4"/>
<rect x="276.20" y="514.43" width="1.00" height="11.30" fill="#cbe5c4"/>
<rect x="277.20" y="514.43" width="1.00" height="11.30" fill="#cbe5c4"/>
<rect x="278.20" y="514.43" width="0.70" height="11.30" fill="#cbe5c4"/>
<rect x="278.90" y="514.43" width="0.90" height="11.30" fill="#cbe5c4"/>
<rect x="279.80" y="514.43" width="0.70" height="11.30" fill="#b8cfe8"/>
<rect x="280.50" y="514.43" width="0.70" height="11.30" fill="#cbe5c4"/>
<rect x="281.20" y="514.43" width="0.70" height="11.30" fill="#efb0ab"/>
<rect x="281.90" y="514.43" width="0.90" height="11.30" fill="#cbe5c4"/>
<rect x="282.80" y="514.43" width="1.50" height="11.30" fill="#cbe5c4"/>
<rect x="284.30" y="514.43" width="1.20" height="11.30" fill="#cbe5c4"/>
<rect x="285.50" y="514.43" width="1.20" height="11.30" fill="#efb0ab"/>
<rect x="286.70" y="514.43" width="1.00" height="11.30" fill="#cbe5c4"/>
<rect x="287.70" y="514.43" width="0.90" height="11.30" fill="#cbe5c4"/>
<rect x="288.60" y="514.43" width="0.70" height="11.30" fill="#cbe5c4"/>
<rect x="289.30" y="514.43" width="1.20" height="11.30" fill="#cbe5c4"/>
<rect x="290.50" y="514.43" width="1.00" height="11.30" fill="#cbe5c4"/>
<rect x="291.50" y="514.43" width="0.90" height="11.30" fill="#cbe5c4"/>
<rect x="292.40" y="514.43" width="1.20" height="11.30" fill="#cbe5c4"/>
<rect x="293.60" y="514.43" width="0.70" height="11.30" fill="#cbe5c4"/>
<rect x="294.30" y="514.43" width="0.90" height="11.30" fill="#cbe5c4"/>
<rect x="295.20" y="514.43" width="1.20" height="11.30" fill="#cbe5c4"/>
<rect x="296.40" y="514.43" width="1.20" height="11.30" fill="#cbe5c4"/>
<rect x="297.60" y="514.43" width="1.20" height="11.30" fill="#cbe5c4"/>
<rect x="298.80" y="514.43" width="1.50" height="11.30" fill="#cbe5c4"/>
<rect x="298.80" y="520.08" width="1.50" height="5.65" fill="#cbe5c4"/>
<rect x="300.30" y="514.43" width="0.70" height="11.30" fill="#efb0ab"/>
<rect x="301.00" y="514.43" width="1.50" height="11.30" fill="#cbe5c4"/>
<rect x="302.50" y="514.43" width="1.20" height="11.30" fill="#cbe5c4"/>
<rect x="303.70" y="514.43" width="0.70" height="11.30" fill="#cbe5c4"/>
<rect x="304.40" y="514.43" width="0.70" height="11.30" fill="#cbe5c4"/>
<rect x="305.10" y="514.43" width="1.20" height="11.30" fill="#cbe5c4"/>
<rect x="306.30" y="514.43" width="0.90" height="11.30" fill="#cbe5c4"/>
<rect x="307.20" y="514.43" width="0.90" height="11.30" fill="#cbe5c4"/>
<rect x="308.10" y="514.43" width="1.00" height="11.30" fill="#cbe5c4"/>
<rect x="309.10" y="514.43" width="1.00" height="11.30" fill="#efb0ab"/>
<rect x="310.10" y="514.43" width="1.00" height="11.30" fill="#cbe5c4"/>
<rect x="311.10" y="514.43" width="0.90" height="11.30" fill="#cbe5c4"/>
<rect x="312.00" y="514.43" width="0.90" height="11.30" fill="#cbe5c4"/>
<rect x="312.00" y="520.08" width="0.90" height="5.65" fill="#cbe5c4"/>
<rect x="312.90" y="514.43" width="0.90" height="11.30" fill="#cbe5c4"/>
<rect x="313.80" y="514.43" width="1.00" height="11.30" fill="#efb0ab"/>
<rect x="314.80" y="514.43" width="1.00" height="11.30" fill="#cbe5c4"/>
<rect x="315.80" y="514.43" width="1.00" height="11.30" fill="#cfc0e2"/>
<rect x="316.80" y="514.43" width="1.50" height="11.30" fill="#cbe5c4"/>
<rect x="318.30" y="514.43" width="0.70" height="11.30" fill="#cbe5c4"/>
<rect x="319.00" y="514.43" width="1.20" height="11.30" fill="#cbe5c4"/>
<rect x="320.20" y="514.43" width="1.20" height="11.30" fill="#f4cca8"/>
<rect x="321.40" y="514.43" width="1.00" height="11.30" fill="#cbe5c4"/>
<rect x="321.40" y="520.08" width="1.00" height="5.65" fill="#cbe5c4"/>
<rect x="322.40" y="514.43" width="1.50" height="11.30" fill="#cbe5c4"/>
<rect x="322.40" y="520.08" width="1.50" height="5.65" fill="#cbe5c4"/>
<rect x="323.90" y="514.43" width="1.00" height="11.30" fill="#cbe5c4"/>
<rect x="324.90" y="514.43" width="1.50" height="11.30" fill="#efb0ab"/>
<rect x="326.40" y="514.43" width="0.70" height="11.30" fill="#cbe5c4"/>
<rect x="327.10" y="514.43" width="1.00" height="11.30" fill="#cbe5c4"/>
<rect x="328.10" y="514.43" width="1.50" height="11.30" fill="#cbe5c4"/>
<rect x="328.10" y="520.08" width="1.50" height="5.65" fill="#cbe5c4"/>
<rect x="329.60" y="514.43" width="0.10" height="11.30" fill="#cbe5c4"/>
<rect x="329.60" y="520.08" width="0.10" height="5.65" fill="#cbe5c4"/>
<rect x="380.80" y="514.43" width="1.00" height="11.30" fill="#cbe5c4"/>
<rect x="381.80" y="514.43" width="1.50" height="11.30" fill="#cbe5c4"/>
<rect x="383.30" y="514.43" width="1.50" height="11.30" fill="#cbe5c4"/>
<rect x="384.80" y="514.43" width="1.20" height="11.30" fill="#cbe5c4"/>
<rect x="384.80" y="520.08" width="1.20" height="5.65" fill="#cbe5c4"/>
<rect x="386.00" y="514.43" width="0.90" height="11.30" fill="#cbe5c4"/>
<rect x="386.00" y="520.08" width="0.90" height="5.65" fill="#cbe5c4"/>
<rect x="386.90" y="514.43" width="1.00" height="11.30" fill="#cbe5c4"/>
<rect x="387.90" y="514.43" width="0.70" height="11.30" fill="#cbe5c4"/>
<rect x="388.60" y="514.43" width="1.00" height="11.30" fill="#cbe5c4"/>
<rect x="389.60" y="514.43" width="1.50" height="11.30" fill="#efb0ab"/>
<rect x="391.10" y="514.43" width="0.90" height="11.30" fill="#cbe5c4"/>
<rect x="391.10" y="520.08" width="0.90" height="5.65" fill="#cbe5c4"/>
<rect x="392.00" y="514.43" width="0.70" height="11.30" fill="#cbe5c4"/>
<rect x="392.70" y="514.43" width="0.70" height="11.30" fill="#efb0ab"/>
<rect x="392.70" y="520.08" width="0.70" height="5.65" fill="#cbe5c4"/>
<rect x="393.40" y="514.43" width="0.90" height="11.30" fill="#cbe5c4"/>
<rect x="394.30" y="514.43" width="1.50" height="11.30" fill="#cbe5c4"/>
<rect x="395.80" y="514.43" width="1.20" height="11.30" fill="#cbe5c4"/>
<rect x="397.00" y="514.43" width="1.00" height="11.30" fill="#cbe5c4"/>
<rect x="398.00" y="514.43" width="1.20" height="11.30" fill="#cbe5c4"/>
<rect x="398.00" y="520.08" width="1.20" height="5.65" fill="#cbe5c4"/>
<rect x="399.20" y="514.43" width="1.20" height="11.30" fill="#cbe5c4"/>
<rect x="400.40" y="514.43" width="0.90" height="11.30" fill="#cbe5c4"/>
<rect x="400.40" y="520.08" width="0.90" height="5.65" fill="#cbe5c4"/>
<rect x="401.30" y="514.43" width="0.70" height="11.30" fill="#cbe5c4"/>
<rect x="402.00" y="514.43" width="1.00" height="11.30" fill="#cbe5c4"/>
<rect x="403.00" y="514.43" width="1.50" height="11.30" fill="#cbe5c4"/>
<rect x="404.50" y="514.43" width="1.50" height="11.30" fill="#b8cfe8"/>
<rect x="406.00" y="514.43" width="0.90" height="11.30" fill="#cbe5c4"/>
<rect x="406.90" y="514.43" width="0.90" height="11.30" fill="#cbe5c4"/>
<rect x="407.80" y="514.43" width="0.90" height="11.30" fill="#efb0ab"/>
<rect x="408.70" y="514.43" width="1.00" height="11.30" fill="#cbe5c4"/>
<rect x="409.70" y="514.43" width="1.50" height="11.30" fill="#cbe5c4"/>
<rect x="411.20" y="514.43" width="1.50" height="11.30" fill="#cbe5c4"/>
<rect x="412.70" y="514.43" width="0.70" height="11.30" fill="#cbe5c4"/>
<rect x="413.40" y="514.43" width="0.90" height="11.30" fill="#cbe5c4"/>
<rect x="414.30" y="514.43" width="0.90" height="11.30" fill="#cbe5c4"/>
<rect x="415.20" y="514.43" width="1.50" height="11.30" fill="#efb0ab"/>
<rect x="416.70" y="514.43" width="0.70" height="11.30" fill="#cbe5c4"/>
<rect x="417.40" y="514.43" width="0.90" height="11.30" fill="#cbe5c4"/>
<rect x="418.30" y="514.43" width="0.70" height="11.30" fill="#cbe5c4"/>
<rect x="419.00" y="514.43" width="0.70" height="11.30" fill="#cbe5c4"/>
<rect x="419.70" y="514.43" width="0.70" height="11.30" fill="#cbe5c4"/>
<rect x="420.40" y="514.43" width="0.90" height="11.30" fill="#cbe5c4"/>
<rect x="421.30" y="514.43" width="0.70" height="11.30" fill="#cbe5c4"/>
<rect x="422.00" y="514.43" width="0.80" height="11.30" fill="#cbe5c4"/>
<rect x="74.00" y="526.46" width="0.70" height="11.30" fill="#cbe5c4"/>
<rect x="74.70" y="526.46" width="0.70" height="11.30" fill="#b8cfe8"/>
<rect x="75.40" y="526.46" width="1.00" height="11.30" fill="#efb0ab"/>
<rect x="76.40" y="526.46" width="0.90" height="11.30" fill="#cbe5c4"/>
<rect x="77.30" y="526.46" width="1.00" height="11.30" fill="#cbe5c4"/>
<rect x="78.30" y="526.46" width="1.00" height="11.30" fill="#cbe5c4"/>
<rect x="79.30" y="526.46" width="1.00" height="11.30" fill="#cfc0e2"/>
<rect x="80.30" y="526.46" width="1.20" height="11.30" fill="#b8cfe8"/>
<rect x="81.50" y="526.46" width="0.70" height="11.30" fill="#b8cfe8"/>
<rect x="81.50" y="532.11" width="0.70" height="5.65" fill="#efb0ab"/>
<rect x="82.20" y="526.46" width="0.70" height="11.30" fill="#efb0ab"/>
<rect x="82.90" y="526.46" width="1.50" height="11.30" fill="#efb0ab"/>
<rect x="84.40" y="526.46" width="0.70" height="11.30" fill="#efb0ab"/>
<rect x="85.10" y="526.46" width="1.20" height="11.30" fill="#cbe5c4"/>
<rect x="86.30" y="526.46" width="0.70" height="11.30" fill="#cbe5c4"/>
<rect x="87.00" y="526.46" width="1.20" height="11.30" fill="#cfc0e2"/>
<rect x="88.20" y="526.46" width="0.60" height="11.30" fill="#efb0ab"/>
<rect x="116.10" y="526.46" width="1.50" height="11.30" fill="#cbe5c4"/>
<rect x="117.60" y="526.46" width="1.00" height="11.30" fill="#b8cfe8"/>
<rect x="118.60" y="526.46" width="0.90" height="11.30" fill="#efb0ab"/>
<rect x="118.60" y="532.11" width="0.90" height="5.65" fill="#efb0ab"/>
<rect x="119.50" y="526.46" width="0.70" height="11.30" fill="#efb0ab"/>
<rect x="120.20" y="526.46" width="1.50" height="11.30" fill="#b8cfe8"/>
<rect x="121.70" y="526.46" width="1.00" height="11.30" fill="#cbe5c4"/>
<rect x="122.70" y="526.46" width="0.70" height="11.30" fill="#efb0ab"/>
<rect x="123.40" y="526.46" width="1.00" height="11.30" fill="#cbe5c4"/>
<rect x="124.40" y="526.46" width="1.50" height="11.30" fill="#efb0ab"/>
<rect x="125.90" y="526.46" width="0.90" height="11.30" fill="#f4cca8"/>
<rect x="126.80" y="526.46" width="0.70" height="11.30" fill="#cfc0e2"/>
<rect x="162.00" y="526.46" width="0.70" height="11.30" fill="#efb0ab"/>
<rect x="162.70" y="526.46" width="0.90" height="11.30" fill="#b8cfe8"/>
<rect x="163.60" y="526.46" width="1.50" height="11.30" fill="#cfc0e2"/>
<rect x="165.10" y="526.46" width="1.20" height="11.30" fill="#cfc0e2"/>
<rect x="166.30" y="526.46" width="0.90" height="11.30" fill="#cbe5c4"/>
<rect x="167.20" y="526.46" width="0.90" height="11.30" fill="#efb0ab"/>
<rect x="168.10" y="526.46" width="1.50" height="11.30" fill="#cbe5c4"/>
<rect x="169.60" y="526.46" width="0.90" height="11.30" fill="#cfc0e2"/>
<rect x="170.50" y="526.46" width="1.00" height="11.30" fill="#cbe5c4"/>
<rect x="171.50" y="526.46" width="0.90" height="11.30" fill="#cbe5c4"/>
<rect x="172.40" y="526.46" width="0.70" height="11.30" fill="#cbe5c4"/>
<rect x="173.10" y="526.46" width="0.90" height="11.30" fill="#efb0ab"/>
<rect x="174.00" y="526.46" width="1.00" height="11.30" fill="#cfc0e2"/>
<rect x="175.00" y="526.46" width="0.90" height="11.30" fill="#cbe5c4"/>
<rect x="175.90" y="526.46" width="1.00" height="11.30" fill="#cbe5c4"/>
<rect x="176.90" y="526.46" width="0.70" height="11.30" fill="#cbe5c4"/>
<rect x="177.60" y="526.46" width="0.40" height="11.30" fill="#cfc0e2"/>
<rect x="209.10" y="526.46" width="1.00" height="11.30" fill="#efb0ab"/>
<rect x="210.10" y="526.46" width="1.50" height="11.30" fill="#cfc0e2"/>
<rect x="210.10" y="532.11" width="1.50" height="5.65" fill="#cbe5c4"/>
<rect x="211.60" y="526.46" width="1.20" height="11.30" fill="#cfc0e2"/>
<rect x="212.80" y="526.46" width="1.20" height="11.30" fill="#b8cfe8"/>
<rect x="214.00" y="526.46" width="1.50" height="11.30" fill="#b8cfe8"/>
<rect x="215.50" y="526.46" width="0.70" height="11.30" fill="#efb0ab"/>
<rect x="216.20" y="526.46" width="0.70" height="11.30" fill="#b8cfe8"/>
<rect x="216.90" y="526.46" width="1.20" height="11.30" fill="#cfc0e2"/>
<rect x="218.10" y="526.46" width="1.00" height="11.30" fill="#b8cfe8"/>
<rect x="219.10" y="526.46" width="0.70" height="11.30" fill="#efb0ab"/>
<rect x="219.80" y="526.46" width="0.90" height="11.30" fill="#b8cfe8"/>
<rect x="220.70" y="526.46" width="0.70" height="11.30" fill="#efb0ab"/>
<rect x="221.40" y="526.46" width="0.70" height="11.30" fill="#cbe5c4"/>
<rect x="222.10" y="526.46" width="0.80" height="11.30" fill="#cfc0e2"/>
<rect x="275.00" y="526.46" width="0.90" height="11.30" fill="#efb0ab"/>
<rect x="275.00" y="532.11" width="0.90" height="5.65" fill="#efb0ab"/>
<rect x="275.90" y="526.46" width="1.50" height="11.30" fill="#cbe5c4"/>
<rect x="277.40" y="526.46" width="0.70" height="11.30" fill="#efb0ab"/>
<rect x="278.10" y="526.46" width="1.50" height="11.30" fill="#efb0ab"/>
<rect x="279.60" y="526.46" width="1.20" height="11.30" fill="#cbe5c4"/>
<rect x="280.80" y="526.46" width="1.20" height="11.30" fill="#efb0ab"/>
<rect x="282.00" y="526.46" width="1.50" height="11.30" fill="#efb0ab"/>
<rect x="282.00" y="532.11" width="1.50" height="5.65" fill="#cbe5c4"/>
<rect x="283.50" y="526.46" width="1.20" height="11.30" fill="#cbe5c4"/>
<rect x="283.50" y="532.11" width="1.20" height="5.65" fill="#b8cfe8"/>
<rect x="284.70" y="526.46" width="1.00" height="11.30" fill="#efb0ab"/>
<rect x="284.70" y="532.11" width="1.00" height="5.65" fill="#cbe5c4"/>
<rect x="285.70" y="526.46" width="1.20" height="11.30" fill="#f4cca8"/>
<rect x="286.90" y="526.46" width="0.90" height="11.30" fill="#f4cca8"/>
<rect x="287.80" y="526.46" width="1.20" height="11.30" fill="#cbe5c4"/>
<rect x="289.00" y="526.46" width="0.70" height="11.30" fill="#b8cfe8"/>
<rect x="289.70" y="526.46" width="1.20" height="11.30" fill="#efb0ab"/>
<rect x="290.90" y="526.46" width="0.00" height="11.30" fill="#efb0ab"/>
<rect x="329.70" y="526.46" width="1.20" height="11.30" fill="#efb0ab"/>
<rect x="330.90" y="526.46" width="1.50" height="11.30" fill="#efb0ab"/>
<rect x="332.40" y="526.46" width="1.20" height="11.30" fill="#efb0ab"/>
<rect x="333.60" y="526.46" width="1.00" height="11.30" fill="#cfc0e2"/>
<rect x="334.60" y="526.46" width="1.20" height="11.30" fill="#efb0ab"/>
<rect x="335.80" y="526.46" width="1.00" height="11.30" fill="#efb0ab"/>
<rect x="336.80" y="526.46" width="1.00" height="11.30" fill="#efb0ab"/>
<rect x="337.80" y="526.46" width="0.70" height="11.30" fill="#efb0ab"/>
<rect x="338.50" y="526.46" width="1.00" height="11.30" fill="#b8cfe8"/>
<rect x="338.50" y="532.11" width="1.00" height="5.65" fill="#b8cfe8"/>
<rect x="339.50" y="526.46" width="1.00" height="11.30" fill="#b8cfe8"/>
<rect x="340.50" y="526.46" width="1.00" height="11.30" fill="#efb0ab"/>
<rect x="340.50" y="532.11" width="1.00" height="5.65" fill="#cbe5c4"/>
<rect x="341.50" y="526.46" width="0.70" height="11.30" fill="#efb0ab"/>
<rect x="342.20" y="526.46" width="0.70" height="11.30" fill="#efb0ab"/>
<rect x="342.90" y="526.46" width="0.90" height="11.30" fill="#cfc0e2"/>
<rect x="343.80" y="526.46" width="0.90" height="11.30" fill="#cbe5c4"/>
<rect x="344.70" y="526.46" width="1.50" height="11.30" fill="#cbe5c4"/>
<rect x="346.20" y="526.46" width="1.50" height="11.30" fill="#f4cca8"/>
<rect x="346.20" y="532.11" width="1.50" height="5.65" fill="#b8cfe8"/>
<rect x="347.70" y="526.46" width="1.50" height="11.30" fill="#b8cfe8"/>
<rect x="349.20" y="526.46" width="0.50" height="11.30" fill="#efb0ab"/>
<rect x="380.80" y="526.46" width="0.70" height="11.30" fill="#cfc0e2"/>
<rect x="381.50" y="526.46" width="0.70" height="11.30" fill="#efb0ab"/>
<rect x="382.20" y="526.46" width="0.90" height="11.30" fill="#b8cfe8"/>
<rect x="383.10" y="526.46" width="1.50" height="11.30" fill="#cbe5c4"/>
<rect x="384.60" y="526.46" width="0.90" height="11.30" fill="#cfc0e2"/>
<rect x="385.50" y="526.46" width="0.90" height="11.30" fill="#efb0ab"/>
<rect x="386.40" y="526.46" width="0.70" height="11.30" fill="#cbe5c4"/>
<rect x="387.10" y="526.46" width="1.50" height="11.30" fill="#efb0ab"/>
<rect x="388.60" y="526.46" width="1.20" height="11.30" fill="#efb0ab"/>
<rect x="389.80" y="526.46" width="0.70" height="11.30" fill="#cbe5c4"/>
<rect x="390.50" y="526.46" width="0.70" height="11.30" fill="#cbe5c4"/>
<rect x="390.50" y="532.11" width="0.70" height="5.65" fill="#cfc0e2"/>
<rect x="391.20" y="526.46" width="1.00" height="11.30" fill="#b8cfe8"/>
<rect x="391.20" y="532.11" width="1.00" height="5.65" fill="#efb0ab"/>
<rect x="392.20" y="526.46" width="0.90" height="11.30" fill="#cbe5c4"/>
<rect x="393.10" y="526.46" width="0.90" height="11.30" fill="#efb0ab"/>
<rect x="394.00" y="526.46" width="1.00" height="11.30" fill="#efb0ab"/>
<rect x="395.00" y="526.46" width="1.50" height="11.30" fill="#cfc0e2"/>
<rect x="396.50" y="526.46" width="1.20" height="11.30" fill="#efb0ab"/>
<rect x="397.70" y="526.46" width="0.20" height="11.30" fill="#b8cfe8"/>
<rect x="422.80" y="526.46" width="1.20" height="11.30" fill="#efb0ab"/>
<rect x="424.00" y="526.46" width="1.00" height="11.30" fill="#b8cfe8"/>
<rect x="425.00" y="526.46" width="0.90" height="11.30" fill="#efb0ab"/>
<rect x="425.90" y="526.46" width="1.00" height="11.30" fill="#cbe5c4"/>
<rect x="426.90" y="526.46" width="0.90" height="11.30" fill="#efb0ab"/>
<rect x="427.80" y="526.46" width="0.70" height="11.30" fill="#efb0ab"/>
<rect x="428.50" y="526.46" width="1.20" height="11.30" fill="#efb0ab"/>
<rect x="428.50" y="532.11" width="1.20" height="5.65" fill="#cbe5c4"/>
<rect x="429.70" y="526.46" width="0.70" height="11.30" fill="#cbe5c4"/>
<rect x="430.40" y="526.46" width="1.20" height="11.30" fill="#efb0ab"/>
<rect x="431.60" y="526.46" width="1.10" height="11.30" fill="#b8cfe8"/>
<rect x="74.00" y="538.49" width="1.50" height="11.30" fill="#cbe5c4"/>
<rect x="75.50" y="538.49" width="1.50" height="11.30" fill="#efb0ab"/>
<rect x="75.50" y="544.14" width="1.50" height="5.65" fill="#cbe5c4"/>
<rect x="77.00" y="538.49" width="1.20" height="11.30" fill="#cbe5c4"/>
<rect x="78.20" y="538.49" width="0.90" height="11.30" fill="#efb0ab"/>
<rect x="79.10" y="538.49" width="0.70" height="11.30" fill="#efb0ab"/>
<rect x="79.80" y="538.49" width="1.00" height="11.30" fill="#efb0ab"/>
<rect x="88.80" y="538.49" width="1.00" height="11.30" fill="#cbe5c4"/>
<rect x="89.80" y="538.49" width="1.00" height="11.30" fill="#cbe5c4"/>
<rect x="89.80" y="544.14" width="1.00" height="5.65" fill="#cbe5c4"/>
<rect x="90.80" y="538.49" width="1.50" height="11.30" fill="#cbe5c4"/>
<rect x="92.30" y="538.49" width="0.70" height="11.30" fill="#cbe5c4"/>
<rect x="93.00" y="538.49" width="0.70" height="11.30" fill="#cbe5c4"/>
<rect x="93.70" y="538.49" width="1.20" height="11.30" fill="#cbe5c4"/>
<rect x="93.70" y="544.14" width="1.20" height="5.65" fill="#cbe5c4"/>
<rect x="94.90" y="538.49" width="1.50" height="11.30" fill="#f4cca8"/>
<rect x="96.40" y="538.49" width="0.90" height="11.30" fill="#cbe5c4"/>
<rect x="97.30" y="538.49" width="0.70" height="11.30" fill="#cbe5c4"/>
<rect x="98.00" y="538.49" width="0.90" height="11.30" fill="#cbe5c4"/>
<rect x="98.90" y="538.49" width="0.70" height="11.30" fill="#cbe5c4"/>
<rect x="99.60" y="538.49" width="0.70" height="11.30" fill="#cbe5c4"/>
<rect x="100.30" y="538.49" width="1.20" height="11.30" fill="#cbe5c4"/>
<rect x="101.50" y="538.49" width="0.40" height="11.30" fill="#cbe5c4"/>
<rect x="116.00" y="538.49" width="0.70" height="11.30" fill="#cbe5c4"/>
<rect x="116.70" y="538.49" width="0.90" height="11.30" fill="#cbe5c4"/>
<rect x="116.70" y="544.14" width="0.90" height="5.65" fill="#cbe5c4"/>
<rect x="117.60" y="538.49" width="1.20" height="11.30" fill="#cbe5c4"/>
<rect x="118.80" y="538.49" width="0.50" height="11.30" fill="#efb0ab"/>
<rect x="118.80" y="544.14" width="0.50" height="5.65" fill="#cbe5c4"/>
<rect x="128.00" y="538.49" width="0.70" height="11.30" fill="#cbe5c4"/>
<rect x="128.70" y="538.49" width="1.50" height="11.30" fill="#cbe5c4"/>
<rect x="130.20" y="538.49" width="1.50" height="11.30" fill="#cbe5c4"/>
<rect x="131.70" y="538.49" width="1.20" height="11.30" fill="#cbe5c4"/>
<rect x="132.90" y="538.49" width="1.50" height="11.30" fill="#cbe5c4"/>
<rect x="134.40" y="538.49" width="0.90" height="11.30" fill="#cbe5c4"/>
<rect x="135.30" y="538.49" width="1.00" height="11.30" fill="#b8cfe8"/>
<rect x="136.30" y="538.49" width="0.40" height="11.30" fill="#cbe5c4"/>
<rect x="162.00" y="538.49" width="1.20" height="11.30" fill="#efb0ab"/>
<rect x="163.20" y="538.49" width="1.50" height="11.30" fill="#cbe5c4"/>
<rect x="164.70" y="538.49" width="1.50" height="11.30" fill="#f4cca8"/>
<rect x="166.20" y="538.49" width="1.50" height="11.30" fill="#cbe5c4"/>
<rect x="167.70" y="538.49" width="0.70" height="11.30" fill="#cbe5c4"/>
<rect x="168.40" y="538.49" width="1.00" height="11.30" fill="#cbe5c4"/>
<rect x="169.40" y="538.49" width="0.90" height="11.30" fill="#cbe5c4"/>
<rect x="170.30" y="538.49" width="1.50" height="11.30" fill="#cbe5c4"/>
<rect x="171.80" y="538.49" width="0.20" height="11.30" fill="#cbe5c4"/>
<rect x="171.80" y="544.14" width="0.20" height="5.65" fill="#cbe5c4"/>
<rect x="178.00" y="538.49" width="1.20" height="11.30" fill="#cbe5c4"/>
<rect x="179.20" y="538.49" width="0.70" height="11.30" fill="#cbe5c4"/>
<rect x="179.90" y="538.49" width="1.50" height="11.30" fill="#cbe5c4"/>
<rect x="181.40" y="538.49" width="1.50" height="11.30" fill="#cbe5c4"/>
<rect x="182.90" y="538.49" width="1.00" height="11.30" fill="#cbe5c4"/>
<rect x="183.90" y="538.49" width="1.20" height="11.30" fill="#cbe5c4"/>
<rect x="185.10" y="538.49" width="0.90" height="11.30" fill="#cbe5c4"/>
<rect x="185.10" y="544.14" width="0.90" height="5.65" fill="#cbe5c4"/>
<rect x="186.00" y="538.49" width="0.30" height="11.30" fill="#efb0ab"/>
<rect x="209.00" y="538.49" width="0.70" height="11.30" fill="#cbe5c4"/>
<rect x="209.70" y="538.49" width="0.70" height="11.30" fill="#cbe5c4"/>
<rect x="210.40" y="538.49" width="0.30" height="11.30" fill="#cbe5c4"/>
<rect x="223.00" y="538.49" width="1.00" height="11.30" fill="#efb0ab"/>
<rect x="224.00" y="538.49" width="1.20" height="11.30" fill="#cbe5c4"/>
<rect x="225.20" y="538.49" width="0.90" height="11.30" fill="#cbe5c4"/>
<rect x="226.10" y="538.49" width="1.00" height="11.30" fill="#cbe5c4"/>
<rect x="227.10" y="538.49" width="1.20" height="11.30" fill="#cbe5c4"/>
<rect x="228.30" y="538.49" width="0.90" height="11.30" fill="#cbe5c4"/>
<rect x="229.20" y="538.49" width="1.00" height="11.30" fill="#efb0ab"/>
<rect x="230.20" y="538.49" width="1.20" height="11.30" fill="#cbe5c4"/>
<rect x="231.40" y="538.49" width="1.50" height="11.30" fill="#cbe5c4"/>
<rect x="232.90" y="538.49" width="0.10" height="11.30" fill="#cbe5c4"/>
<rect x="232.90" y="544.14" width="0.10" height="5.65" fill="#f4cca8"/>
<rect x="275.00" y="538.49" width="1.50" height="11.30" fill="#cbe5c4"/>
<rect x="276.50" y="538.49" width="1.00" height="11.30" fill="#efb0ab"/>
<rect x="277.50" y="538.49" width="0.70" height="11.30" fill="#efb0ab"/>
<rect x="278.20" y="538.49" width="0.50" height="11.30" fill="#b8cfe8"/>
<rect x="290.90" y="538.49" width="0.70" height="11.30" fill="#cbe5c4"/>
<rect x="291.60" y="538.49" width="1.20" height="11.30" fill="#cbe5c4"/>
<rect x="291.60" y="544.14" width="1.20" height="5.65" fill="#cbe5c4"/>
<rect x="292.80" y="538.49" width="1.20" height="11.30" fill="#cbe5c4"/>
<rect x="294.00" y="538.49" width="0.70" height="11.30" fill="#efb0ab"/>
<rect x="294.70" y="538.49" width="0.70" height="11.30" fill="#cbe5c4"/>
<rect x="294.70" y="544.14" width="0.70" height="5.65" fill="#cbe5c4"/>
<rect x="295.40" y="538.49" width="0.90" height="11.30" fill="#cbe5c4"/>
<rect x="296.30" y="538.49" width="1.50" height="11.30" fill="#cbe5c4"/>
<rect x="297.80" y="538.49" width="0.90" height="11.30" fill="#cbe5c4"/>
<rect x="298.70" y="538.49" width="0.90" height="11.30" fill="#cbe5c4"/>
<rect x="299.60" y="538.49" width="1.00" height="11.30" fill="#cbe5c4"/>
<rect x="300.60" y="538.49" width="0.70" height="11.30" fill="#cbe5c4"/>
<rect x="300.60" y="544.14" width="0.70" height="5.65" fill="#cbe5c4"/>
<rect x="301.30" y="538.49" width="1.20" height="11.30" fill="#cbe5c4"/>
<rect x="302.50" y="538.49" width="0.70" height="11.30" fill="#efb0ab"/>
<rect x="303.20" y="538.49" width="1.00" height="11.30" fill="#cbe5c4"/>
<rect x="304.20" y="538.49" width="0.70" height="11.30" fill="#cbe5c4"/>
<rect x="304.90" y="538.49" width="1.20" height="11.30" fill="#cbe5c4"/>
<rect x="306.10" y="538.49" width="0.80" height="11.30" fill="#cbe5c4"/>
<rect x="329.70" y="538.49" width="0.70" height="11.30" fill="#cbe5c4"/>
<rect x="330.40" y="538.49" width="0.60" height="11.30" fill="#cbe5c4"/>
<rect x="350.10" y="538.49" width="0.70" height="11.30" fill="#efb0ab"/>
<rect x="350.80" y="538.49" width="0.90" height="11.30" fill="#cbe5c4"/>
<rect x="351.70" y="538.49" width="1.20" height="11.30" fill="#cbe5c4"/>
<rect x="352.90" y="538.49" width="1.20" height="11.30" fill="#f4cca8"/>
<rect x="354.10" y="538.49" width="0.90" height="11.30" fill="#cbe5c4"/>
<rect x="355.00" y="538.49" width="0.90" height="11.30" fill="#cbe5c4"/>
<rect x="355.90" y="538.49" width="0.90" height="11.30" fill="#cbe5c4"/>
<rect x="356.80" y="538.49" width="0.90" height="11.30" fill="#cbe5c4"/>
<rect x="357.70" y="538.49" width="1.10" height="11.30" fill="#cbe5c4"/>
<rect x="380.80" y="538.49" width="1.00" height="11.30" fill="#cbe5c4"/>
<rect x="381.80" y="538.49" width="0.90" height="11.30" fill="#cbe5c4"/>
<rect x="381.80" y="544.14" width="0.90" height="5.65" fill="#cbe5c4"/>
<rect x="382.70" y="538.49" width="1.20" height="11.30" fill="#cbe5c4"/>
<rect x="383.90" y="538.49" width="0.70" height="11.30" fill="#cbe5c4"/>
<rect x="384.60" y="538.49" width="0.20" height="11.30" fill="#cbe5c4"/>
<rect x="397.50" y="538.49" width="0.70" height="11.30" fill="#cbe5c4"/>
<rect x="398.20" y="538.49" width="1.00" height="11.30" fill="#cbe5c4"/>
<rect x="399.20" y="538.49" width="0.90" height="11.30" fill="#efb0ab"/>
<rect x="399.20" y="544.14" width="0.90" height="5.65" fill="#cbe5c4"/>
<rect x="400.10" y="538.49" width="0.90" height="11.30" fill="#cbe5c4"/>
<rect x="401.00" y="538.49" width="1.00" height="11.30" fill="#cbe5c4"/>
<rect x="402.00" y="538.49" width="1.20" height="11.30" fill="#cbe5c4"/>
<rect x="403.20" y="538.49" width="0.90" height="11.30" fill="#cbe5c4"/>
<rect x="404.10" y="538.49" width="0.70" height="11.30" fill="#cbe5c4"/>
<rect x="422.80" y="538.49" width="0.70" height="11.30" fill="#efb0ab"/>
<rect x="423.50" y="538.49" width="1.50" height="11.30" fill="#cbe5c4"/>
<rect x="425.00" y="538.49" width="0.70" height="11.30" fill="#cbe5c4"/>
<rect x="433.00" y="538.49" width="0.90" height="11.30" fill="#cbe5c4"/>
<rect x="433.90" y="538.49" width="1.50" height="11.30" fill="#cbe5c4"/>
<rect x="435.40" y="538.49" width="0.90" height="11.30" fill="#cbe5c4"/>
<rect x="436.30" y="538.49" width="0.90" height="11.30" fill="#cbe5c4"/>
<rect x="437.20" y="538.49" width="0.70" height="11.30" fill="#cbe5c4"/>
<rect x="437.90" y="538.49" width="0.70" height="11.30" fill="#cbe5c4"/>
<rect x="438.60" y="538.49" width="1.00" height="11.30" fill="#cbe5c4"/>
<rect x="439.60" y="538.49" width="0.40" height="11.30" fill="#cbe5c4"/>
<rect x="74.00" y="550.52" width="1.20" height="11.30" fill="#cbe5c4"/>
<rect x="75.20" y="550.52" width="0.90" height="11.30" fill="#cbe5c4"/>
<rect x="76.10" y="550.52" width="1.00" height="11.30" fill="#cbe5c4"/>
<rect x="77.10" y="550.52" width="0.40" height="11.30" fill="#cfc0e2"/>
<rect x="77.10" y="556.17" width="0.40" height="5.65" fill="#efb0ab"/>
<rect x="81.00" y="550.52" width="1.20" height="11.30" fill="#f4cca8"/>
<rect x="81.00" y="556.17" width="1.20" height="5.65" fill="#efb0ab"/>
<rect x="82.20" y="550.52" width="0.50" height="11.30" fill="#b8cfe8"/>
<rect x="88.80" y="550.52" width="1.00" height="11.30" fill="#b8cfe8"/>
<rect x="89.80" y="550.52" width="1.50" height="11.30" fill="#b8cfe8"/>
<rect x="89.80" y="556.17" width="1.50" height="5.65" fill="#b8cfe8"/>
<rect x="91.30" y="550.52" width="1.20" height="11.30" fill="#efb0ab"/>
<rect x="91.30" y="556.17" width="1.20" height="5.65" fill="#b8cfe8"/>
<rect x="92.50" y="550.52" width="0.90" height="11.30" fill="#cbe5c4"/>
<rect x="93.40" y="550.52" width="0.90" height="11.30" fill="#cfc0e2"/>
<rect x="94.30" y="550.52" width="1.00" height="11.30" fill="#efb0ab"/>
<rect x="95.30" y="550.52" width="0.50" height="11.30" fill="#cbe5c4"/>
<rect x="101.90" y="550.52" width="0.90" height="11.30" fill="#efb0ab"/>
<rect x="102.80" y="550.52" width="1.20" height="11.30" fill="#efb0ab"/>
<rect x="116.00" y="550.52" width="1.20" height="11.30" fill="#cbe5c4"/>
<rect x="117.20" y="550.52" width="0.40" height="11.30" fill="#cbe5c4"/>
<rect x="119.60" y="550.52" width="1.20" height="11.30" fill="#cfc0e2"/>
<rect x="120.80" y="550.52" width="0.20" height="11.30" fill="#cbe5c4"/>
<rect x="127.50" y="550.52" width="0.90" height="11.30" fill="#cfc0e2"/>
<rect x="128.40" y="550.52" width="0.50" height="11.30" fill="#cbe5c4"/>
<rect x="137.00" y="550.52" width="1.20" height="11.30" fill="#cbe5c4"/>
<rect x="138.20" y="550.52" width="1.20" height="11.30" fill="#b8cfe8"/>
<rect x="139.40" y="550.52" width="1.50" height="11.30" fill="#efb0ab"/>
<rect x="140.90" y="550.52" width="0.70" height="11.30" fill="#b8cfe8"/>
<rect x="141.60" y="550.52" width="0.90" height="11.30" fill="#b8cfe8"/>
<rect x="142.50" y="550.52" width="1.50" height="11.30" fill="#b8cfe8"/>
<rect x="144.00" y="550.52" width="0.90" height="11.30" fill="#b8cfe8"/>
<rect x="144.00" y="556.17" width="0.90" height="5.65" fill="#efb0ab"/>
<rect x="162.00" y="550.52" width="1.00" height="11.30" fill="#efb0ab"/>
<rect x="178.00" y="550.52" width="0.70" height="11.30" fill="#efb0ab"/>
<rect x="178.70" y="550.52" width="0.70" height="11.30" fill="#efb0ab"/>
<rect x="179.40" y="550.52" width="0.70" height="11.30" fill="#efb0ab"/>
<rect x="180.10" y="550.52" width="1.20" height="11.30" fill="#b8cfe8"/>
<rect x="181.30" y="550.52" width="0.70" height="11.30" fill="#b8cfe8"/>
<rect x="182.00" y="550.52" width="0.70" height="11.30" fill="#cbe5c4"/>
<rect x="182.70" y="550.52" width="0.60" height="11.30" fill="#f4cca8"/>
<rect x="186.00" y="550.52" width="1.50" height="11.30" fill="#b8cfe8"/>
<rect x="186.00" y="556.17" width="1.50" height="5.65" fill="#cbe5c4"/>
<rect x="187.50" y="550.52" width="0.70" height="11.30" fill="#efb0ab"/>
<rect x="188.20" y="550.52" width="0.70" height="11.30" fill="#efb0ab"/>
<rect x="188.90" y="550.52" width="0.90" height="11.30" fill="#cbe5c4"/>
<rect x="189.80" y="550.52" width="1.50" height="11.30" fill="#f4cca8"/>
<rect x="189.80" y="556.17" width="1.50" height="5.65" fill="#cfc0e2"/>
<rect x="191.30" y="550.52" width="0.40" height="11.30" fill="#efb0ab"/>
<rect x="209.00" y="550.52" width="1.00" height="11.30" fill="#f4cca8"/>
<rect x="210.00" y="550.52" width="1.00" height="11.30" fill="#efb0ab"/>
<rect x="210.00" y="556.17" width="1.00" height="5.65" fill="#cfc0e2"/>
<rect x="211.00" y="550.52" width="1.20" height="11.30" fill="#cfc0e2"/>
<rect x="212.20" y="550.52" width="0.80" height="11.30" fill="#cbe5c4"/>
<rect x="223.80" y="550.52" width="1.20" height="11.30" fill="#f4cca8"/>
<rect x="233.50" y="550.52" width="1.20" height="11.30" fill="#efb0ab"/>
<rect x="234.70" y="550.52" width="0.90" height="11.30" fill="#efb0ab"/>
<rect x="235.60" y="550.52" width="1.50" height="11.30" fill="#efb0ab"/>
<rect x="237.10" y="550.52" width="0.70" height="11.30" fill="#f4cca8"/>
<rect x="237.80" y="550.52" width="0.90" height="11.30" fill="#efb0ab"/>
<rect x="238.70" y="550.52" width="1.00" height="11.30" fill="#efb0ab"/>
<rect x="239.70" y="550.52" width="1.00" height="11.30" fill="#cbe5c4"/>
<rect x="239.70" y="556.17" width="1.00" height="5.65" fill="#cfc0e2"/>
<rect x="240.70" y="550.52" width="1.50" height="11.30" fill="#b8cfe8"/>
<rect x="242.20" y="550.52" width="0.70" height="11.30" fill="#efb0ab"/>
<rect x="242.90" y="550.52" width="1.00" height="11.30" fill="#b8cfe8"/>
<rect x="242.90" y="556.17" width="1.00" height="5.65" fill="#efb0ab"/>
<rect x="243.90" y="550.52" width="0.90" height="11.30" fill="#efb0ab"/>
<rect x="244.80" y="550.52" width="0.90" height="11.30" fill="#cfc0e2"/>
<rect x="245.70" y="550.52" width="0.30" height="11.30" fill="#b8cfe8"/>
<rect x="278.70" y="550.52" width="1.20" height="11.30" fill="#efb0ab"/>
<rect x="279.90" y="550.52" width="0.10" height="11.30" fill="#efb0ab"/>
<rect x="279.90" y="556.17" width="0.10" height="5.65" fill="#efb0ab"/>
<rect x="290.90" y="550.52" width="1.50" height="11.30" fill="#cfc0e2"/>
<rect x="292.40" y="550.52" width="1.50" height="11.30" fill="#cbe5c4"/>
<rect x="293.90" y="550.52" width="1.00" height="11.30" fill="#b8cfe8"/>
<rect x="294.90" y="550.52" width="1.20" height="11.30" fill="#b8cfe8"/>
<rect x="296.10" y="550.52" width="1.00" height="11.30" fill="#b8cfe8"/>
<rect x="297.10" y="550.52" width="1.20" height="11.30" fill="#efb0ab"/>
<rect x="298.30" y="550.52" width="1.00" height="11.30" fill="#cbe5c4"/>
<rect x="299.30" y="550.52" width="0.70" height="11.30" fill="#efb0ab"/>
<rect x="306.90" y="550.52" width="1.50" height="11.30" fill="#efb0ab"/>
<rect x="308.40" y="550.52" width="1.50" height="11.30" fill="#efb0ab"/>
<rect x="309.90" y="550.52" width="1.00" height="11.30" fill="#efb0ab"/>
<rect x="330.90" y="550.52" width="0.90" height="11.30" fill="#f4cca8"/>
<rect x="331.80" y="550.52" width="1.20" height="11.30" fill="#f4cca8"/>
<rect x="333.00" y="550.52" width="0.70" height="11.30" fill="#cbe5c4"/>
<rect x="333.70" y="550.52" width="1.10" height="11.30" fill="#efb0ab"/>
<rect x="350.00" y="550.52" width="1.00" height="11.30" fill="#efb0ab"/>
<rect x="351.00" y="550.52" width="1.50" height="11.30" fill="#b8cfe8"/>
<rect x="352.50" y="550.52" width="0.70" height="11.30" fill="#efb0ab"/>
<rect x="358.80" y="550.52" width="1.50" height="11.30" fill="#cfc0e2"/>
<rect x="360.30" y="550.52" width="0.70" height="11.30" fill="#cfc0e2"/>
<rect x="361.00" y="550.52" width="0.70" height="11.30" fill="#efb0ab"/>
<rect x="361.70" y="550.52" width="1.50" height="11.30" fill="#f4cca8"/>
<rect x="363.20" y="550.52" width="0.90" height="11.30" fill="#f4cca8"/>
<rect x="364.10" y="550.52" width="1.20" height="11.30" fill="#b8cfe8"/>
<rect x="365.30" y="550.52" width="1.50" height="11.30" fill="#efb0ab"/>
<rect x="366.80" y="550.52" width="0.70" height="11.30" fill="#cbe5c4"/>
<rect x="367.50" y="550.52" width="0.40" height="11.30" fill="#b8cfe8"/>
<rect x="384.80" y="550.52" width="0.70" height="11.30" fill="#cfc0e2"/>
<rect x="385.50" y="550.52" width="0.50" height="11.30" fill="#b8cfe8"/>
<rect x="404.80" y="550.52" width="1.20" height="11.30" fill="#cfc0e2"/>
<rect x="406.00" y="550.52" width="1.50" height="11.30" fill="#cbe5c4"/>
<rect x="407.50" y="550.52" width="1.20" height="11.30" fill="#cbe5c4"/>
<rect x="426.00" y="550.52" width="1.00" height="11.30" fill="#cbe5c4"/>
<rect x="433.00" y="550.52" width="0.70" height="11.30" fill="#b8cfe8"/>
<rect x="433.00" y="556.17" width="0.70" height="5.65" fill="#cbe5c4"/>
<rect x="433.70" y="550.52" width="0.30" height="11.30" fill="#cbe5c4"/>
<rect x="440.20" y="550.52" width="0.70" height="11.30" fill="#cfc0e2"/>
<rect x="440.90" y="550.52" width="0.90" height="11.30" fill="#cbe5c4"/>
<rect x="441.80" y="550.52" width="1.50" height="11.30" fill="#efb0ab"/>
<rect x="443.30" y="550.52" width="1.50" height="11.30" fill="#efb0ab"/>
<rect x="444.80" y="550.52" width="0.90" height="11.30" fill="#efb0ab"/>
<rect x="445.70" y="550.52" width="0.90" height="11.30" fill="#efb0ab"/>
<rect x="446.60" y="550.52" width="0.70" height="11.30" fill="#cbe5c4"/>
<rect x="447.30" y="550.52" width="1.50" height="11.30" fill="#efb0ab"/>
<rect x="448.80" y="550.52" width="1.20" height="11.30" fill="#b8cfe8"/>
<rect x="448.80" y="556.17" width="1.20" height="5.65" fill="#cbe5c4"/>
<rect x="450.00" y="550.52" width="1.50" height="11.30" fill="#efb0ab"/>
<rect x="451.50" y="550.52" width="0.30" height="11.30" fill="#efb0ab"/>
<rect x="451.50" y="556.17" width="0.30" height="5.65" fill="#cfc0e2"/>
<rect x="91.00" y="562.55" width="1.50" height="11.30" fill="#cbe5c4"/>
<rect x="96.50" y="562.55" width="1.50" height="11.30" fill="#efb0ab"/>
<rect x="96.50" y="568.20" width="1.50" height="5.65" fill="#b8cfe8"/>
<rect x="103.00" y="562.55" width="1.00" height="11.30" fill="#b8cfe8"/>
<rect x="103.00" y="568.20" width="1.00" height="5.65" fill="#cbe5c4"/>
<rect x="105.50" y="562.55" width="0.90" height="11.30" fill="#cbe5c4"/>
<rect x="105.50" y="568.20" width="0.90" height="5.65" fill="#b8cfe8"/>
<rect x="106.40" y="562.55" width="0.90" height="11.30" fill="#efb0ab"/>
<rect x="107.30" y="562.55" width="1.20" height="11.30" fill="#efb0ab"/>
<rect x="108.50" y="562.55" width="1.20" height="11.30" fill="#f4cca8"/>
<rect x="108.50" y="568.20" width="1.20" height="5.65" fill="#efb0ab"/>
<rect x="109.70" y="562.55" width="0.30" height="11.30" fill="#cbe5c4"/>
<rect x="120.50" y="562.55" width="1.20" height="11.30" fill="#cbe5c4"/>
<rect x="121.70" y="562.55" width="0.30" height="11.30" fill="#cbe5c4"/>
<rect x="137.50" y="562.55" width="0.90" height="11.30" fill="#cbe5c4"/>
<rect x="138.40" y="562.55" width="0.60" height="11.30" fill="#efb0ab"/>
<rect x="138.40" y="568.20" width="0.60" height="5.65" fill="#efb0ab"/>
<rect x="146.00" y="562.55" width="1.20" height="11.30" fill="#efb0ab"/>
<rect x="147.20" y="562.55" width="0.30" height="11.30" fill="#efb0ab"/>
<rect x="162.50" y="562.55" width="1.50" height="11.30" fill="#cbe5c4"/>
<rect x="164.00" y="562.55" width="1.00" height="11.30" fill="#efb0ab"/>
<rect x="165.00" y="562.55" width="1.00" height="11.30" fill="#efb0ab"/>
<rect x="166.00" y="562.55" width="0.90" height="11.30" fill="#cbe5c4"/>
<rect x="166.90" y="562.55" width="0.10" height="11.30" fill="#cbe5c4"/>
<rect x="172.80" y="562.55" width="0.90" height="11.30" fill="#efb0ab"/>
<rect x="173.70" y="562.55" width="0.90" height="11.30" fill="#cbe5c4"/>
<rect x="174.60" y="562.55" width="0.40" height="11.30" fill="#efb0ab"/>
<rect x="191.00" y="562.55" width="0.90" height="11.30" fill="#cbe5c4"/>
<rect x="191.90" y="562.55" width="0.90" height="11.30" fill="#cbe5c4"/>
<rect x="192.80" y="562.55" width="0.90" height="11.30" fill="#f4cca8"/>
<rect x="193.70" y="562.55" width="0.90" height="11.30" fill="#b8cfe8"/>
<rect x="223.00" y="562.55" width="1.00" height="11.30" fill="#efb0ab"/>
<rect x="224.00" y="562.55" width="1.00" height="11.30" fill="#cbe5c4"/>
<rect x="225.50" y="562.55" width="0.70" height="11.30" fill="#efb0ab"/>
<rect x="225.50" y="568.20" width="0.70" height="5.65" fill="#b8cfe8"/>
<rect x="226.20" y="562.55" width="1.20" height="11.30" fill="#cbe5c4"/>
<rect x="227.40" y="562.55" width="0.60" height="11.30" fill="#efb0ab"/>
<rect x="234.00" y="562.55" width="0.70" height="11.30" fill="#efb0ab"/>
<rect x="234.70" y="562.55" width="0.90" height="11.30" fill="#efb0ab"/>
<rect x="235.60" y="562.55" width="0.70" height="11.30" fill="#cbe5c4"/>
<rect x="236.30" y="562.55" width="0.70" height="11.30" fill="#cfc0e2"/>
<rect x="246.00" y="562.55" width="1.00" height="11.30" fill="#cbe5c4"/>
<rect x="247.00" y="562.55" width="1.20" height="11.30" fill="#cbe5c4"/>
<rect x="248.20" y="562.55" width="1.20" height="11.30" fill="#b8cfe8"/>
<rect x="249.40" y="562.55" width="0.90" height="11.30" fill="#b8cfe8"/>
<rect x="250.30" y="562.55" width="1.00" height="11.30" fill="#efb0ab"/>
<rect x="251.30" y="562.55" width="0.00" height="11.30" fill="#b8cfe8"/>
<rect x="251.30" y="568.20" width="0.00" height="5.65" fill="#cfc0e2"/>
<rect x="279.00" y="562.55" width="1.20" height="11.30" fill="#cbe5c4"/>
<rect x="280.20" y="562.55" width="1.00" height="11.30" fill="#b8cfe8"/>
<rect x="280.20" y="568.20" width="1.00" height="5.65" fill="#cbe5c4"/>
<rect x="281.20" y="562.55" width="1.00" height="11.30" fill="#b8cfe8"/>
<rect x="282.20" y="562.55" width="0.70" height="11.30" fill="#efb0ab"/>
<rect x="282.90" y="562.55" width="0.10" height="11.30" fill="#cbe5c4"/>
<rect x="291.00" y="562.55" width="1.00" height="11.30" fill="#cfc0e2"/>
<rect x="300.00" y="562.55" width="0.90" height="11.30" fill="#efb0ab"/>
<rect x="300.90" y="562.55" width="0.60" height="11.30" fill="#cfc0e2"/>
<rect x="307.00" y="562.55" width="1.20" height="11.30" fill="#efb0ab"/>
<rect x="308.20" y="562.55" width="0.70" height="11.30" fill="#cbe5c4"/>
<rect x="308.90" y="562.55" width="0.10" height="11.30" fill="#b8cfe8"/>
<rect x="311.00" y="562.55" width="1.50" height="11.30" fill="#efb0ab"/>
<rect x="311.00" y="568.20" width="1.50" height="5.65" fill="#cbe5c4"/>
<rect x="312.50" y="562.55" width="0.70" height="11.30" fill="#cbe5c4"/>
<rect x="313.20" y="562.55" width="1.00" height="11.30" fill="#cfc0e2"/>
<rect x="313.20" y="568.20" width="1.00" height="5.65" fill="#efb0ab"/>
<rect x="314.20" y="562.55" width="1.20" height="11.30" fill="#f4cca8"/>
<rect x="315.40" y="562.55" width="0.60" height="11.30" fill="#cbe5c4"/>
<rect x="315.40" y="568.20" width="0.60" height="5.65" fill="#f4cca8"/>
<rect x="331.00" y="562.55" width="1.20" height="11.30" fill="#efb0ab"/>
<rect x="332.20" y="562.55" width="1.50" height="11.30" fill="#cfc0e2"/>
<rect x="333.70" y="562.55" width="0.30" height="11.30" fill="#efb0ab"/>
<rect x="336.00" y="562.55" width="0.90" height="11.30" fill="#efb0ab"/>
<rect x="336.90" y="562.55" width="0.90" height="11.30" fill="#efb0ab"/>
<rect x="337.80" y="562.55" width="0.20" height="11.30" fill="#cbe5c4"/>
<rect x="353.00" y="562.55" width="0.90" height="11.30" fill="#efb0ab"/>
<rect x="353.90" y="562.55" width="0.10" height="11.30" fill="#cbe5c4"/>
<rect x="358.00" y="562.55" width="0.70" height="11.30" fill="#cbe5c4"/>
<rect x="358.70" y="562.55" width="0.90" height="11.30" fill="#efb0ab"/>
<rect x="359.60" y="562.55" width="0.90" height="11.30" fill="#cbe5c4"/>
<rect x="361.50" y="562.55" width="1.50" height="11.30" fill="#efb0ab"/>
<rect x="371.00" y="562.55" width="1.00" height="11.30" fill="#efb0ab"/>
<rect x="372.00" y="562.55" width="0.50" height="11.30" fill="#efb0ab"/>
<rect x="380.50" y="562.55" width="0.70" height="11.30" fill="#efb0ab"/>
<rect x="381.20" y="562.55" width="0.80" height="11.30" fill="#efb0ab"/>
<rect x="387.00" y="562.55" width="1.20" height="11.30" fill="#b8cfe8"/>
<rect x="388.20" y="562.55" width="0.80" height="11.30" fill="#cbe5c4"/>
<rect x="398.00" y="562.55" width="1.00" height="11.30" fill="#efb0ab"/>
<rect x="398.00" y="568.20" width="1.00" height="5.65" fill="#b8cfe8"/>
<rect x="399.00" y="562.55" width="1.00" height="11.30" fill="#cbe5c4"/>
<rect x="404.00" y="562.55" width="1.20" height="11.30" fill="#f4cca8"/>
<rect x="405.20" y="562.55" width="0.80" height="11.30" fill="#efb0ab"/>
<rect x="409.00" y="562.55" width="0.90" height="11.30" fill="#efb0ab"/>
<rect x="409.00" y="568.20" width="0.90" height="5.65" fill="#efb0ab"/>
<rect x="409.90" y="562.55" width="1.20" height="11.30" fill="#cbe5c4"/>
<rect x="411.10" y="562.55" width="1.50" height="11.30" fill="#cbe5c4"/>
<rect x="412.60" y="562.55" width="1.20" height="11.30" fill="#efb0ab"/>
<rect x="413.80" y="562.55" width="1.00" height="11.30" fill="#cbe5c4"/>
<rect x="414.80" y="562.55" width="1.00" height="11.30" fill="#efb0ab"/>
<rect x="415.80" y="562.55" width="0.20" height="11.30" fill="#efb0ab"/>
<rect x="415.80" y="568.20" width="0.20" height="5.65" fill="#cfc0e2"/>
<rect x="423.00" y="562.55" width="0.70" height="11.30" fill="#b8cfe8"/>
<rect x="423.70" y="562.55" width="0.30" height="11.30" fill="#efb0ab"/>
<rect x="425.50" y="562.55" width="1.50" height="11.30" fill="#b8cfe8"/>
<rect x="434.00" y="562.55" width="0.90" height="11.30" fill="#cbe5c4"/>
<rect x="434.90" y="562.55" width="1.00" height="11.30" fill="#cfc0e2"/>
<rect x="435.90" y="562.55" width="0.90" height="11.30" fill="#efb0ab"/>
<rect x="436.80" y="562.55" width="0.20" height="11.30" fill="#efb0ab"/>
<rect x="441.00" y="562.55" width="1.00" height="11.30" fill="#b8cfe8"/>
<rect x="452.00" y="562.55" width="0.70" height="11.30" fill="#cbe5c4"/>
<rect x="452.70" y="562.55" width="1.20" height="11.30" fill="#b8cfe8"/>
<rect x="453.90" y="562.55" width="1.20" height="11.30" fill="#efb0ab"/>
<rect x="455.10" y="562.55" width="1.00" height="11.30" fill="#efb0ab"/>
<rect x="456.10" y="562.55" width="0.90" height="11.30" fill="#efb0ab"/>
<rect x="457.00" y="562.55" width="1.20" height="11.30" fill="#efb0ab"/>
<rect x="458.20" y="562.55" width="0.70" height="11.30" fill="#b8cfe8"/>
<rect x="458.90" y="562.55" width="0.90" height="11.30" fill="#cfc0e2"/>
<rect x="458.90" y="568.20" width="0.90" height="5.65" fill="#b8cfe8"/>
<rect x="459.80" y="562.55" width="1.20" height="11.30" fill="#efb0ab"/>
<rect x="82.80" y="574.58" width="1.20" height="11.30" fill="#cbe5c4"/>
<rect x="93.90" y="574.58" width="1.60" height="11.30" fill="#efb0ab"/>
<rect x="97.70" y="574.58" width="1.20" height="11.30" fill="#cbe5c4"/>
<rect x="107.70" y="574.58" width="1.00" height="11.30" fill="#cbe5c4"/>
<rect x="110.90" y="574.58" width="2.00" height="11.30" fill="#cbe5c4"/>
<rect x="118.40" y="574.58" width="1.00" height="11.30" fill="#efb0ab"/>
<rect x="121.60" y="574.58" width="1.20" height="11.30" fill="#cbe5c4"/>
<rect x="126.10" y="574.58" width="1.60" height="11.30" fill="#cbe5c4"/>
<rect x="128.80" y="574.58" width="2.00" height="11.30" fill="#cbe5c4"/>
<rect x="135.20" y="574.58" width="2.00" height="11.30" fill="#cbe5c4"/>
<rect x="139.40" y="574.58" width="2.00" height="11.30" fill="#cbe5c4"/>
<rect x="143.60" y="574.58" width="1.00" height="11.30" fill="#cbe5c4"/>
<rect x="145.70" y="574.58" width="2.00" height="11.30" fill="#cbe5c4"/>
<rect x="149.90" y="574.58" width="2.00" height="11.30" fill="#cbe5c4"/>
<rect x="153.00" y="574.58" width="1.00" height="11.30" fill="#cbe5c4"/>
<rect x="160.60" y="574.58" width="1.20" height="11.30" fill="#cbe5c4"/>
<rect x="162.90" y="574.58" width="1.20" height="11.30" fill="#cbe5c4"/>
<rect x="168.50" y="574.58" width="2.00" height="11.30" fill="#cbe5c4"/>
<rect x="173.80" y="574.58" width="1.00" height="11.30" fill="#cbe5c4"/>
<rect x="179.20" y="574.58" width="0.90" height="11.30" fill="#cbe5c4"/>
<rect x="179.20" y="580.23" width="0.90" height="5.65" fill="#cbe5c4"/>
<rect x="181.20" y="574.58" width="1.20" height="11.30" fill="#cbe5c4"/>
<rect x="191.20" y="574.58" width="1.00" height="11.30" fill="#cbe5c4"/>
<rect x="193.30" y="574.58" width="0.90" height="11.30" fill="#cbe5c4"/>
<rect x="208.50" y="574.58" width="2.00" height="11.30" fill="#cbe5c4"/>
<rect x="217.10" y="574.58" width="2.00" height="11.30" fill="#cbe5c4"/>
<rect x="225.70" y="574.58" width="1.60" height="11.30" fill="#cbe5c4"/>
<rect x="233.90" y="574.58" width="2.00" height="11.30" fill="#cbe5c4"/>
<rect x="233.90" y="580.23" width="2.00" height="5.65" fill="#cbe5c4"/>
<rect x="239.20" y="574.58" width="1.20" height="11.30" fill="#cbe5c4"/>
<rect x="243.70" y="574.58" width="1.20" height="11.30" fill="#cbe5c4"/>
<rect x="250.40" y="574.58" width="1.20" height="11.30" fill="#cbe5c4"/>
<rect x="276.10" y="574.58" width="1.00" height="11.30" fill="#cbe5c4"/>
<rect x="281.50" y="574.58" width="1.00" height="11.30" fill="#cbe5c4"/>
<rect x="284.70" y="574.58" width="2.00" height="11.30" fill="#cbe5c4"/>
<rect x="291.10" y="574.58" width="1.00" height="11.30" fill="#cbe5c4"/>
<rect x="300.90" y="574.58" width="1.20" height="11.30" fill="#cbe5c4"/>
<rect x="304.30" y="574.58" width="0.90" height="11.30" fill="#cbe5c4"/>
<rect x="306.30" y="574.58" width="2.00" height="11.30" fill="#cbe5c4"/>
<rect x="309.40" y="574.58" width="1.00" height="11.30" fill="#cbe5c4"/>
<rect x="312.60" y="574.58" width="2.00" height="11.30" fill="#cbe5c4"/>
<rect x="315.70" y="574.58" width="2.00" height="11.30" fill="#cbe5c4"/>
<rect x="315.70" y="580.23" width="2.00" height="5.65" fill="#cbe5c4"/>
<rect x="318.80" y="574.58" width="1.20" height="11.30" fill="#cbe5c4"/>
<rect x="325.50" y="574.58" width="1.60" height="11.30" fill="#cbe5c4"/>
<rect x="325.50" y="580.23" width="1.60" height="5.65" fill="#cbe5c4"/>
<rect x="333.70" y="574.58" width="1.20" height="11.30" fill="#cbe5c4"/>
<rect x="336.00" y="574.58" width="2.00" height="11.30" fill="#cbe5c4"/>
<rect x="339.10" y="574.58" width="0.90" height="11.30" fill="#cbe5c4"/>
<rect x="342.20" y="574.58" width="1.20" height="11.30" fill="#cbe5c4"/>
<rect x="363.20" y="574.58" width="0.90" height="11.30" fill="#cbe5c4"/>
<rect x="363.20" y="580.23" width="0.90" height="5.65" fill="#cbe5c4"/>
<rect x="366.30" y="574.58" width="1.00" height="11.30" fill="#cbe5c4"/>
<rect x="370.60" y="574.58" width="2.00" height="11.30" fill="#cbe5c4"/>
<rect x="373.70" y="574.58" width="2.00" height="11.30" fill="#cbe5c4"/>
<rect x="376.80" y="574.58" width="1.00" height="11.30" fill="#cbe5c4"/>
<rect x="388.80" y="574.58" width="0.90" height="11.30" fill="#cbe5c4"/>
<rect x="393.00" y="574.58" width="2.00" height="11.30" fill="#cbe5c4"/>
<rect x="399.40" y="574.58" width="0.90" height="11.30" fill="#cbe5c4"/>
<rect x="410.20" y="574.58" width="1.20" height="11.30" fill="#cbe5c4"/>
<rect x="413.60" y="574.58" width="0.90" height="11.30" fill="#cbe5c4"/>
<rect x="415.60" y="574.58" width="2.00" height="11.30" fill="#cbe5c4"/>
<rect x="430.80" y="574.58" width="0.90" height="11.30" fill="#cbe5c4"/>
<rect x="432.80" y="574.58" width="1.20" height="11.30" fill="#cbe5c4"/>
<rect x="435.10" y="574.58" width="1.00" height="11.30" fill="#cbe5c4"/>
<rect x="447.10" y="574.58" width="1.00" height="11.30" fill="#cbe5c4"/>
<rect x="450.30" y="574.58" width="0.90" height="11.30" fill="#cbe5c4"/>
<rect x="452.30" y="574.58" width="0.90" height="11.30" fill="#cbe5c4"/>
<rect x="462.00" y="574.58" width="1.20" height="11.30" fill="#cbe5c4"/>
<rect x="166.38" y="574.58" width="1.00" height="11.30" fill="#cbe5c4"/>
<rect x="163.21" y="574.58" width="1.00" height="11.30" fill="#efb0ab"/>
<rect x="74.00" y="586.61" width="0.90" height="11.30" fill="#efb0ab"/>
<rect x="76.00" y="586.61" width="2.00" height="11.30" fill="#efb0ab"/>
<rect x="80.20" y="586.61" width="1.60" height="11.30" fill="#cbe5c4"/>
<rect x="95.00" y="586.61" width="0.90" height="11.30" fill="#cbe5c4"/>
<rect x="103.60" y="586.61" width="2.00" height="11.30" fill="#cbe5c4"/>
<rect x="106.70" y="586.61" width="2.00" height="11.30" fill="#cbe5c4"/>
<rect x="113.10" y="586.61" width="1.60" height="11.30" fill="#cbe5c4"/>
<rect x="116.90" y="586.61" width="1.60" height="11.30" fill="#cbe5c4"/>
<rect x="116.90" y="592.26" width="1.60" height="5.65" fill="#efb0ab"/>
<rect x="122.90" y="586.61" width="2.00" height="11.30" fill="#cbe5c4"/>
<rect x="134.80" y="586.61" width="2.00" height="11.30" fill="#cbe5c4"/>
<rect x="137.90" y="586.61" width="1.20" height="11.30" fill="#cbe5c4"/>
<rect x="146.80" y="586.61" width="1.60" height="11.30" fill="#cbe5c4"/>
<rect x="162.70" y="586.61" width="1.60" height="11.30" fill="#cbe5c4"/>
<rect x="166.50" y="586.61" width="1.00" height="11.30" fill="#cbe5c4"/>
<rect x="173.00" y="586.61" width="1.00" height="11.30" fill="#cbe5c4"/>
<rect x="185.00" y="586.61" width="1.00" height="11.30" fill="#cbe5c4"/>
<rect x="189.30" y="586.61" width="1.60" height="11.30" fill="#cbe5c4"/>
<rect x="189.30" y="592.26" width="1.60" height="5.65" fill="#cbe5c4"/>
<rect x="198.60" y="586.61" width="2.00" height="11.30" fill="#cbe5c4"/>
<rect x="206.10" y="586.61" width="1.60" height="11.30" fill="#cbe5c4"/>
<rect x="212.10" y="586.61" width="2.00" height="11.30" fill="#cbe5c4"/>
<rect x="219.60" y="586.61" width="1.60" height="11.30" fill="#cbe5c4"/>
<rect x="226.70" y="586.61" width="1.20" height="11.30" fill="#cbe5c4"/>
<rect x="230.10" y="586.61" width="1.00" height="11.30" fill="#cbe5c4"/>
<rect x="232.20" y="586.61" width="1.60" height="11.30" fill="#cbe5c4"/>
<rect x="236.00" y="586.61" width="1.00" height="11.30" fill="#cbe5c4"/>
<rect x="238.10" y="586.61" width="1.60" height="11.30" fill="#cbe5c4"/>
<rect x="241.90" y="586.61" width="1.00" height="11.30" fill="#cbe5c4"/>
<rect x="248.40" y="586.61" width="1.60" height="11.30" fill="#cbe5c4"/>
<rect x="254.40" y="586.61" width="1.20" height="11.30" fill="#cbe5c4"/>
<rect x="277.20" y="586.61" width="1.00" height="11.30" fill="#cbe5c4"/>
<rect x="284.80" y="586.61" width="2.00" height="11.30" fill="#cbe5c4"/>
<rect x="287.90" y="586.61" width="0.90" height="11.30" fill="#cbe5c4"/>
<rect x="302.00" y="586.61" width="1.60" height="11.30" fill="#efb0ab"/>
<rect x="304.70" y="586.61" width="0.90" height="11.30" fill="#cbe5c4"/>
<rect x="306.70" y="586.61" width="2.00" height="11.30" fill="#cbe5c4"/>
<rect x="309.80" y="586.61" width="1.20" height="11.30" fill="#cbe5c4"/>
<rect x="312.10" y="586.61" width="1.00" height="11.30" fill="#cbe5c4"/>
<rect x="314.20" y="586.61" width="0.90" height="11.30" fill="#efb0ab"/>
<rect x="320.60" y="586.61" width="0.90" height="11.30" fill="#efb0ab"/>
<rect x="322.60" y="586.61" width="1.60" height="11.30" fill="#cbe5c4"/>
<rect x="328.60" y="586.61" width="1.20" height="11.30" fill="#cbe5c4"/>
<rect x="330.90" y="586.61" width="1.00" height="11.30" fill="#cbe5c4"/>
<rect x="330.90" y="592.26" width="1.00" height="5.65" fill="#cbe5c4"/>
<rect x="334.10" y="586.61" width="2.00" height="11.30" fill="#cbe5c4"/>
<rect x="337.20" y="586.61" width="1.00" height="11.30" fill="#cbe5c4"/>
<rect x="339.30" y="586.61" width="1.20" height="11.30" fill="#cbe5c4"/>
<rect x="350.40" y="586.61" width="1.60" height="11.30" fill="#cbe5c4"/>
<rect x="355.30" y="586.61" width="1.60" height="11.30" fill="#cbe5c4"/>
<rect x="361.30" y="586.61" width="2.00" height="11.30" fill="#cbe5c4"/>
<rect x="361.30" y="592.26" width="2.00" height="5.65" fill="#cbe5c4"/>
<rect x="364.40" y="586.61" width="1.20" height="11.30" fill="#cbe5c4"/>
<rect x="370.00" y="586.61" width="1.20" height="11.30" fill="#cbe5c4"/>
<rect x="374.50" y="586.61" width="1.00" height="11.30" fill="#cbe5c4"/>
<rect x="376.60" y="586.61" width="2.00" height="11.30" fill="#cbe5c4"/>
<rect x="383.00" y="586.61" width="1.00" height="11.30" fill="#cbe5c4"/>
<rect x="385.10" y="586.61" width="0.90" height="11.30" fill="#cbe5c4"/>
<rect x="388.20" y="586.61" width="0.90" height="11.30" fill="#cbe5c4"/>
<rect x="390.20" y="586.61" width="1.20" height="11.30" fill="#cbe5c4"/>
<rect x="393.60" y="586.61" width="2.00" height="11.30" fill="#cbe5c4"/>
<rect x="405.50" y="586.61" width="0.90" height="11.30" fill="#efb0ab"/>
<rect x="413.00" y="586.61" width="1.20" height="11.30" fill="#efb0ab"/>
<rect x="416.40" y="586.61" width="2.00" height="11.30" fill="#efb0ab"/>
<rect x="416.40" y="592.26" width="2.00" height="5.65" fill="#cbe5c4"/>
<rect x="423.90" y="586.61" width="1.00" height="11.30" fill="#cbe5c4"/>
<rect x="426.00" y="586.61" width="1.00" height="11.30" fill="#cbe5c4"/>
<rect x="433.60" y="586.61" width="1.60" height="11.30" fill="#cbe5c4"/>
<rect x="433.60" y="592.26" width="1.60" height="5.65" fill="#cbe5c4"/>
<rect x="446.20" y="586.61" width="0.90" height="11.30" fill="#cbe5c4"/>
<rect x="458.10" y="586.61" width="1.20" height="11.30" fill="#cbe5c4"/>
<rect x="165.27" y="586.61" width="1.50" height="11.30" fill="#efb0ab"/>
<rect x="86.10" y="598.64" width="1.20" height="11.30" fill="#b8cfe8"/>
<rect x="88.40" y="598.64" width="2.00" height="11.30" fill="#efb0ab"/>
<rect x="103.60" y="598.64" width="1.20" height="11.30" fill="#b8cfe8"/>
<rect x="115.80" y="598.64" width="2.00" height="11.30" fill="#efb0ab"/>
<rect x="122.20" y="598.64" width="1.20" height="11.30" fill="#efb0ab"/>
<rect x="134.40" y="598.64" width="1.00" height="11.30" fill="#efb0ab"/>
<rect x="144.20" y="598.64" width="1.00" height="11.30" fill="#efb0ab"/>
<rect x="144.20" y="604.29" width="1.00" height="5.65" fill="#f4cca8"/>
<rect x="146.30" y="598.64" width="1.00" height="11.30" fill="#efb0ab"/>
<rect x="150.60" y="598.64" width="2.00" height="11.30" fill="#b8cfe8"/>
<rect x="154.80" y="598.64" width="1.20" height="11.30" fill="#b8cfe8"/>
<rect x="154.80" y="604.29" width="1.20" height="5.65" fill="#b8cfe8"/>
<rect x="170.30" y="598.64" width="0.90" height="11.30" fill="#cfc0e2"/>
<rect x="176.70" y="598.64" width="1.20" height="11.30" fill="#efb0ab"/>
<rect x="176.70" y="604.29" width="1.20" height="5.65" fill="#f4cca8"/>
<rect x="191.10" y="598.64" width="2.00" height="11.30" fill="#f4cca8"/>
<rect x="207.40" y="598.64" width="2.00" height="11.30" fill="#b8cfe8"/>
<rect x="207.40" y="604.29" width="2.00" height="5.65" fill="#efb0ab"/>
<rect x="231.40" y="598.64" width="2.00" height="11.30" fill="#efb0ab"/>
<rect x="253.20" y="598.64" width="2.00" height="11.30" fill="#efb0ab"/>
<rect x="278.30" y="598.64" width="2.00" height="11.30" fill="#b8cfe8"/>
<rect x="282.50" y="598.64" width="1.20" height="11.30" fill="#efb0ab"/>
<rect x="287.00" y="598.64" width="1.60" height="11.30" fill="#efb0ab"/>
<rect x="295.20" y="598.64" width="1.00" height="11.30" fill="#efb0ab"/>
<rect x="299.50" y="598.64" width="1.20" height="11.30" fill="#b8cfe8"/>
<rect x="301.80" y="598.64" width="0.90" height="11.30" fill="#f4cca8"/>
<rect x="311.50" y="598.64" width="1.00" height="11.30" fill="#efb0ab"/>
<rect x="319.10" y="598.64" width="1.60" height="11.30" fill="#b8cfe8"/>
<rect x="321.80" y="598.64" width="2.00" height="11.30" fill="#cfc0e2"/>
<rect x="331.50" y="598.64" width="0.90" height="11.30" fill="#b8cfe8"/>
<rect x="331.50" y="604.29" width="0.90" height="5.65" fill="#f4cca8"/>
<rect x="334.60" y="598.64" width="1.00" height="11.30" fill="#efb0ab"/>
<rect x="340.00" y="598.64" width="2.00" height="11.30" fill="#f4cca8"/>
<rect x="355.20" y="598.64" width="1.00" height="11.30" fill="#cbe5c4"/>
<rect x="358.40" y="598.64" width="1.20" height="11.30" fill="#b8cfe8"/>
<rect x="371.70" y="598.64" width="1.60" height="11.30" fill="#cfc0e2"/>
<rect x="379.90" y="598.64" width="1.00" height="11.30" fill="#efb0ab"/>
<rect x="398.50" y="598.64" width="1.00" height="11.30" fill="#efb0ab"/>
<rect x="409.40" y="598.64" width="1.00" height="11.30" fill="#b8cfe8"/>
<rect x="411.50" y="598.64" width="1.60" height="11.30" fill="#b8cfe8"/>
<rect x="418.60" y="598.64" width="1.20" height="11.30" fill="#b8cfe8"/>
<rect x="422.00" y="598.64" width="0.90" height="11.30" fill="#efb0ab"/>
<rect x="439.40" y="598.64" width="2.00" height="11.30" fill="#efb0ab"/>
<rect x="439.40" y="604.29" width="2.00" height="5.65" fill="#f4cca8"/>
<rect x="443.60" y="598.64" width="0.90" height="11.30" fill="#efb0ab"/>
<rect x="453.30" y="598.64" width="1.00" height="11.30" fill="#f4cca8"/>
<rect x="455.40" y="598.64" width="2.00" height="11.30" fill="#f4cca8"/>
<rect x="164.78" y="598.64" width="2.00" height="11.30" fill="#efb0ab"/>
<rect x="164.10" y="598.64" width="1.00" height="11.30" fill="#efb0ab"/>
<rect x="76.20" y="610.67" width="1.60" height="11.30" fill="#efb0ab"/>
<rect x="78.90" y="610.67" width="1.60" height="11.30" fill="#efb0ab"/>
<rect x="78.90" y="616.32" width="1.60" height="5.65" fill="#cbe5c4"/>
<rect x="82.70" y="610.67" width="1.60" height="11.30" fill="#efb0ab"/>
<rect x="85.40" y="610.67" width="0.90" height="11.30" fill="#cbe5c4"/>
<rect x="87.40" y="610.67" width="0.90" height="11.30" fill="#cbe5c4"/>
<rect x="87.40" y="616.32" width="0.90" height="5.65" fill="#cbe5c4"/>
<rect x="90.50" y="610.67" width="0.90" height="11.30" fill="#b8cfe8"/>
<rect x="94.70" y="610.67" width="0.90" height="11.30" fill="#cbe5c4"/>
<rect x="98.90" y="610.67" width="1.00" height="11.30" fill="#efb0ab"/>
<rect x="102.10" y="610.67" width="1.60" height="11.30" fill="#b8cfe8"/>
<rect x="102.10" y="616.32" width="1.60" height="5.65" fill="#b8cfe8"/>
<rect x="111.40" y="610.67" width="0.90" height="11.30" fill="#efb0ab"/>
<rect x="116.70" y="610.67" width="1.00" height="11.30" fill="#b8cfe8"/>
<rect x="119.90" y="610.67" width="1.00" height="11.30" fill="#efb0ab"/>
<rect x="123.10" y="610.67" width="2.00" height="11.30" fill="#cbe5c4"/>
<rect x="123.10" y="616.32" width="2.00" height="5.65" fill="#efb0ab"/>
<rect x="128.40" y="610.67" width="1.20" height="11.30" fill="#cbe5c4"/>
<rect x="135.10" y="610.67" width="0.90" height="11.30" fill="#cbe5c4"/>
<rect x="151.40" y="610.67" width="1.00" height="11.30" fill="#b8cfe8"/>
<rect x="154.60" y="610.67" width="1.20" height="11.30" fill="#cbe5c4"/>
<rect x="161.30" y="610.67" width="1.60" height="11.30" fill="#cbe5c4"/>
<rect x="171.70" y="610.67" width="2.00" height="11.30" fill="#cbe5c4"/>
<rect x="183.60" y="610.67" width="1.20" height="11.30" fill="#cbe5c4"/>
<rect x="185.90" y="610.67" width="0.90" height="11.30" fill="#f4cca8"/>
<rect x="196.70" y="610.67" width="1.00" height="11.30" fill="#cbe5c4"/>
<rect x="202.10" y="610.67" width="1.00" height="11.30" fill="#efb0ab"/>
<rect x="210.80" y="610.67" width="1.00" height="11.30" fill="#efb0ab"/>
<rect x="216.20" y="610.67" width="0.90" height="11.30" fill="#efb0ab"/>
<rect x="218.20" y="610.67" width="0.90" height="11.30" fill="#cbe5c4"/>
<rect x="218.20" y="616.32" width="0.90" height="5.65" fill="#cbe5c4"/>
<rect x="242.20" y="610.67" width="1.00" height="11.30" fill="#efb0ab"/>
<rect x="245.40" y="610.67" width="1.00" height="11.30" fill="#cbe5c4"/>
<rect x="245.40" y="616.32" width="1.00" height="5.65" fill="#efb0ab"/>
<rect x="250.80" y="610.67" width="1.60" height="11.30" fill="#cbe5c4"/>
<rect x="275.00" y="610.67" width="0.90" height="11.30" fill="#cbe5c4"/>
<rect x="280.30" y="610.67" width="1.20" height="11.30" fill="#efb0ab"/>
<rect x="284.80" y="610.67" width="1.00" height="11.30" fill="#b8cfe8"/>
<rect x="289.10" y="610.67" width="1.00" height="11.30" fill="#b8cfe8"/>
<rect x="295.60" y="610.67" width="0.90" height="11.30" fill="#efb0ab"/>
<rect x="298.70" y="610.67" width="1.60" height="11.30" fill="#cbe5c4"/>
<rect x="309.10" y="610.67" width="1.00" height="11.30" fill="#cbe5c4"/>
<rect x="314.50" y="610.67" width="1.00" height="11.30" fill="#cbe5c4"/>
<rect x="321.00" y="610.67" width="1.60" height="11.30" fill="#cbe5c4"/>
<rect x="323.70" y="610.67" width="1.20" height="11.30" fill="#cbe5c4"/>
<rect x="323.70" y="616.32" width="1.20" height="5.65" fill="#cbe5c4"/>
<rect x="329.30" y="610.67" width="1.60" height="11.30" fill="#efb0ab"/>
<rect x="329.30" y="616.32" width="1.60" height="5.65" fill="#cbe5c4"/>
<rect x="333.10" y="610.67" width="1.60" height="11.30" fill="#cbe5c4"/>
<rect x="335.80" y="610.67" width="2.00" height="11.30" fill="#b8cfe8"/>
<rect x="340.00" y="610.67" width="1.00" height="11.30" fill="#efb0ab"/>
<rect x="342.10" y="610.67" width="1.20" height="11.30" fill="#cbe5c4"/>
<rect x="349.90" y="610.67" width="1.00" height="11.30" fill="#cbe5c4"/>
<rect x="361.90" y="610.67" width="0.90" height="11.30" fill="#efb0ab"/>
<rect x="361.90" y="616.32" width="0.90" height="5.65" fill="#b8cfe8"/>
<rect x="383.70" y="610.67" width="1.20" height="11.30" fill="#efb0ab"/>
<rect x="387.10" y="610.67" width="1.20" height="11.30" fill="#efb0ab"/>
<rect x="398.20" y="610.67" width="1.20" height="11.30" fill="#b8cfe8"/>
<rect x="398.20" y="616.32" width="1.20" height="5.65" fill="#cbe5c4"/>
<rect x="412.60" y="610.67" width="0.90" height="11.30" fill="#f4cca8"/>
<rect x="414.60" y="610.67" width="1.00" height="11.30" fill="#b8cfe8"/>
<rect x="422.20" y="610.67" width="1.00" height="11.30" fill="#cbe5c4"/>
<rect x="441.90" y="610.67" width="1.60" height="11.30" fill="#cbe5c4"/>
<rect x="455.60" y="610.67" width="1.00" height="11.30" fill="#cbe5c4"/>
<rect x="166.49" y="610.67" width="2.00" height="11.30" fill="#cbe5c4"/>
<rect x="162.64" y="610.67" width="1.00" height="11.30" fill="#efb0ab"/>
<rect x="74.00" y="622.70" width="1.60" height="11.30" fill="#cbe5c4"/>
<rect x="89.90" y="622.70" width="1.20" height="11.30" fill="#cbe5c4"/>
<rect x="95.50" y="622.70" width="1.20" height="11.30" fill="#cbe5c4"/>
<rect x="97.80" y="622.70" width="1.60" height="11.30" fill="#cbe5c4"/>
<rect x="101.60" y="622.70" width="0.90" height="11.30" fill="#cbe5c4"/>
<rect x="104.70" y="622.70" width="0.90" height="11.30" fill="#cbe5c4"/>
<rect x="104.70" y="628.35" width="0.90" height="5.65" fill="#cbe5c4"/>
<rect x="106.70" y="622.70" width="1.00" height="11.30" fill="#cbe5c4"/>
<rect x="109.90" y="622.70" width="0.90" height="11.30" fill="#cbe5c4"/>
<rect x="109.90" y="628.35" width="0.90" height="5.65" fill="#cbe5c4"/>
<rect x="113.00" y="622.70" width="1.20" height="11.30" fill="#cbe5c4"/>
<rect x="117.50" y="622.70" width="0.90" height="11.30" fill="#cbe5c4"/>
<rect x="119.50" y="622.70" width="0.90" height="11.30" fill="#cbe5c4"/>
<rect x="125.90" y="622.70" width="2.00" height="11.30" fill="#cbe5c4"/>
<rect x="132.30" y="622.70" width="1.20" height="11.30" fill="#cbe5c4"/>
<rect x="134.60" y="622.70" width="2.00" height="11.30" fill="#cbe5c4"/>
<rect x="145.40" y="622.70" width="2.00" height="11.30" fill="#cbe5c4"/>
<rect x="154.00" y="622.70" width="1.00" height="11.30" fill="#cbe5c4"/>
<rect x="166.00" y="622.70" width="1.00" height="11.30" fill="#cbe5c4"/>
<rect x="184.60" y="622.70" width="1.20" height="11.30" fill="#cbe5c4"/>
<rect x="192.40" y="622.70" width="0.90" height="11.30" fill="#cbe5c4"/>
<rect x="194.40" y="622.70" width="2.00" height="11.30" fill="#cbe5c4"/>
<rect x="206.30" y="622.70" width="1.60" height="11.30" fill="#cbe5c4"/>
<rect x="213.40" y="622.70" width="2.00" height="11.30" fill="#cbe5c4"/>
<rect x="225.30" y="622.70" width="1.00" height="11.30" fill="#cbe5c4"/>
<rect x="240.60" y="622.70" width="1.60" height="11.30" fill="#cbe5c4"/>
<rect x="277.20" y="622.70" width="2.00" height="11.30" fill="#cbe5c4"/>
<rect x="282.50" y="622.70" width="1.60" height="11.30" fill="#cbe5c4"/>
<rect x="282.50" y="628.35" width="1.60" height="5.65" fill="#cbe5c4"/>
<rect x="288.50" y="622.70" width="0.90" height="11.30" fill="#efb0ab"/>
<rect x="298.20" y="622.70" width="1.00" height="11.30" fill="#cbe5c4"/>
<rect x="306.90" y="622.70" width="1.00" height="11.30" fill="#cbe5c4"/>
<rect x="313.40" y="622.70" width="2.00" height="11.30" fill="#cbe5c4"/>
<rect x="316.50" y="622.70" width="1.00" height="11.30" fill="#cbe5c4"/>
<rect x="318.60" y="622.70" width="2.00" height="11.30" fill="#cbe5c4"/>
<rect x="318.60" y="628.35" width="2.00" height="5.65" fill="#efb0ab"/>
<rect x="331.60" y="622.70" width="1.20" height="11.30" fill="#efb0ab"/>
<rect x="333.90" y="622.70" width="1.20" height="11.30" fill="#cbe5c4"/>
<rect x="333.90" y="628.35" width="1.20" height="5.65" fill="#cbe5c4"/>
<rect x="351.60" y="622.70" width="2.00" height="11.30" fill="#efb0ab"/>
<rect x="354.70" y="622.70" width="1.60" height="11.30" fill="#cbe5c4"/>
<rect x="364.00" y="622.70" width="2.00" height="11.30" fill="#cbe5c4"/>
<rect x="370.40" y="622.70" width="2.00" height="11.30" fill="#cbe5c4"/>
<rect x="374.60" y="622.70" width="2.00" height="11.30" fill="#cbe5c4"/>
<rect x="393.10" y="622.70" width="1.60" height="11.30" fill="#efb0ab"/>
<rect x="405.70" y="622.70" width="2.00" height="11.30" fill="#cbe5c4"/>
<rect x="416.50" y="622.70" width="1.00" height="11.30" fill="#cbe5c4"/>
<rect x="423.00" y="622.70" width="0.90" height="11.30" fill="#cbe5c4"/>
<rect x="436.00" y="622.70" width="1.60" height="11.30" fill="#cbe5c4"/>
<rect x="442.00" y="622.70" width="0.90" height="11.30" fill="#cbe5c4"/>
<rect x="442.00" y="628.35" width="0.90" height="5.65" fill="#cbe5c4"/>
<rect x="461.60" y="622.70" width="1.00" height="11.30" fill="#cbe5c4"/>
<rect x="164.17" y="622.70" width="1.50" height="11.30" fill="#cbe5c4"/>
<rect x="80.60" y="634.73" width="1.20" height="11.30" fill="#cbe5c4"/>
<rect x="89.50" y="634.73" width="2.00" height="11.30" fill="#cbe5c4"/>
<rect x="89.50" y="640.38" width="2.00" height="5.65" fill="#cbe5c4"/>
<rect x="99.20" y="634.73" width="0.90" height="11.30" fill="#efb0ab"/>
<rect x="111.10" y="634.73" width="0.90" height="11.30" fill="#cbe5c4"/>
<rect x="119.70" y="634.73" width="2.00" height="11.30" fill="#cbe5c4"/>
<rect x="139.30" y="634.73" width="1.60" height="11.30" fill="#cbe5c4"/>
<rect x="142.00" y="634.73" width="1.00" height="11.30" fill="#cbe5c4"/>
<rect x="144.10" y="634.73" width="1.20" height="11.30" fill="#cbe5c4"/>
<rect x="147.50" y="634.73" width="1.00" height="11.30" fill="#cbe5c4"/>
<rect x="149.60" y="634.73" width="1.00" height="11.30" fill="#cbe5c4"/>
<rect x="155.00" y="634.73" width="1.00" height="11.30" fill="#cbe5c4"/>
<rect x="157.10" y="634.73" width="0.90" height="11.30" fill="#cbe5c4"/>
<rect x="157.10" y="640.38" width="0.90" height="5.65" fill="#cbe5c4"/>
<rect x="160.20" y="634.73" width="1.60" height="11.30" fill="#cbe5c4"/>
<rect x="178.30" y="634.73" width="1.20" height="11.30" fill="#cbe5c4"/>
<rect x="187.20" y="634.73" width="1.60" height="11.30" fill="#cbe5c4"/>
<rect x="196.50" y="634.73" width="1.00" height="11.30" fill="#cbe5c4"/>
<rect x="222.80" y="634.73" width="2.00" height="11.30" fill="#cbe5c4"/>
<rect x="234.70" y="634.73" width="0.90" height="11.30" fill="#cbe5c4"/>
<rect x="242.20" y="634.73" width="1.00" height="11.30" fill="#cbe5c4"/>
<rect x="290.40" y="634.73" width="1.00" height="11.30" fill="#cbe5c4"/>
<rect x="303.50" y="634.73" width="0.90" height="11.30" fill="#cbe5c4"/>
<rect x="305.50" y="634.73" width="1.60" height="11.30" fill="#cbe5c4"/>
<rect x="308.20" y="634.73" width="1.20" height="11.30" fill="#cbe5c4"/>
<rect x="310.50" y="634.73" width="1.00" height="11.30" fill="#cbe5c4"/>
<rect x="315.90" y="634.73" width="1.00" height="11.30" fill="#cbe5c4"/>
<rect x="330.10" y="634.73" width="1.60" height="11.30" fill="#cbe5c4"/>
<rect x="339.40" y="634.73" width="0.90" height="11.30" fill="#cbe5c4"/>
<rect x="341.40" y="634.73" width="1.00" height="11.30" fill="#cbe5c4"/>
<rect x="345.70" y="634.73" width="1.60" height="11.30" fill="#cbe5c4"/>
<rect x="348.40" y="634.73" width="0.90" height="11.30" fill="#cbe5c4"/>
<rect x="351.50" y="634.73" width="2.00" height="11.30" fill="#cbe5c4"/>
<rect x="355.70" y="634.73" width="0.90" height="11.30" fill="#cbe5c4"/>
<rect x="379.70" y="634.73" width="2.00" height="11.30" fill="#cbe5c4"/>
<rect x="390.50" y="634.73" width="0.90" height="11.30" fill="#efb0ab"/>
<rect x="390.50" y="640.38" width="0.90" height="5.65" fill="#cbe5c4"/>
<rect x="405.70" y="634.73" width="2.00" height="11.30" fill="#cbe5c4"/>
<rect x="413.20" y="634.73" width="1.60" height="11.30" fill="#cbe5c4"/>
<rect x="444.50" y="634.73" width="0.90" height="11.30" fill="#cbe5c4"/>
<rect x="447.60" y="634.73" width="1.20" height="11.30" fill="#cbe5c4"/>
<rect x="447.60" y="640.38" width="1.20" height="5.65" fill="#cbe5c4"/>
<rect x="462.00" y="634.73" width="0.90" height="11.30" fill="#cbe5c4"/>
<rect x="162.82" y="634.73" width="1.50" height="11.30" fill="#cbe5c4"/>
<rect x="76.20" y="646.76" width="1.60" height="11.30" fill="#cbe5c4"/>
<rect x="81.10" y="646.76" width="0.90" height="11.30" fill="#cbe5c4"/>
<rect x="88.60" y="646.76" width="0.90" height="11.30" fill="#cbe5c4"/>
<rect x="92.80" y="646.76" width="1.00" height="11.30" fill="#cbe5c4"/>
<rect x="94.90" y="646.76" width="1.60" height="11.30" fill="#cbe5c4"/>
<rect x="98.70" y="646.76" width="0.90" height="11.30" fill="#cbe5c4"/>
<rect x="105.10" y="646.76" width="1.60" height="11.30" fill="#efb0ab"/>
<rect x="107.80" y="646.76" width="0.90" height="11.30" fill="#cbe5c4"/>
<rect x="115.30" y="646.76" width="1.60" height="11.30" fill="#cbe5c4"/>
<rect x="118.00" y="646.76" width="2.00" height="11.30" fill="#efb0ab"/>
<rect x="121.10" y="646.76" width="1.60" height="11.30" fill="#cbe5c4"/>
<rect x="123.80" y="646.76" width="1.00" height="11.30" fill="#cbe5c4"/>
<rect x="125.90" y="646.76" width="0.90" height="11.30" fill="#cbe5c4"/>
<rect x="127.90" y="646.76" width="2.00" height="11.30" fill="#b8cfe8"/>
<rect x="131.00" y="646.76" width="1.20" height="11.30" fill="#cbe5c4"/>
<rect x="133.30" y="646.76" width="1.60" height="11.30" fill="#cbe5c4"/>
<rect x="133.30" y="652.41" width="1.60" height="5.65" fill="#cbe5c4"/>
<rect x="139.30" y="646.76" width="1.20" height="11.30" fill="#efb0ab"/>
<rect x="143.80" y="646.76" width="0.90" height="11.30" fill="#efb0ab"/>
<rect x="143.80" y="652.41" width="0.90" height="5.65" fill="#cbe5c4"/>
<rect x="160.10" y="646.76" width="1.20" height="11.30" fill="#cbe5c4"/>
<rect x="204.20" y="646.76" width="1.20" height="11.30" fill="#cbe5c4"/>
<rect x="217.50" y="646.76" width="1.00" height="11.30" fill="#cbe5c4"/>
<rect x="248.20" y="646.76" width="1.60" height="11.30" fill="#cbe5c4"/>
<rect x="255.30" y="646.76" width="1.00" height="11.30" fill="#cbe5c4"/>
<rect x="277.20" y="646.76" width="1.00" height="11.30" fill="#cbe5c4"/>
<rect x="281.50" y="646.76" width="1.20" height="11.30" fill="#cbe5c4"/>
<rect x="283.80" y="646.76" width="1.60" height="11.30" fill="#cbe5c4"/>
<rect x="290.90" y="646.76" width="1.60" height="11.30" fill="#cbe5c4"/>
<rect x="296.90" y="646.76" width="2.00" height="11.30" fill="#efb0ab"/>
<rect x="303.30" y="646.76" width="1.60" height="11.30" fill="#cbe5c4"/>
<rect x="306.00" y="646.76" width="2.00" height="11.30" fill="#efb0ab"/>
<rect x="311.30" y="646.76" width="1.20" height="11.30" fill="#efb0ab"/>
<rect x="319.10" y="646.76" width="0.90" height="11.30" fill="#cbe5c4"/>
<rect x="319.10" y="652.41" width="0.90" height="5.65" fill="#cbe5c4"/>
<rect x="326.60" y="646.76" width="2.00" height="11.30" fill="#cbe5c4"/>
<rect x="338.50" y="646.76" width="1.20" height="11.30" fill="#efb0ab"/>
<rect x="343.00" y="646.76" width="0.90" height="11.30" fill="#cbe5c4"/>
<rect x="348.30" y="646.76" width="1.00" height="11.30" fill="#efb0ab"/>
<rect x="358.10" y="646.76" width="1.00" height="11.30" fill="#efb0ab"/>
<rect x="361.30" y="646.76" width="2.00" height="11.30" fill="#cbe5c4"/>
<rect x="369.90" y="646.76" width="2.00" height="11.30" fill="#efb0ab"/>
<rect x="378.50" y="646.76" width="1.20" height="11.30" fill="#cbe5c4"/>
<rect x="396.20" y="646.76" width="2.00" height="11.30" fill="#cbe5c4"/>
<rect x="403.70" y="646.76" width="2.00" height="11.30" fill="#cbe5c4"/>
<rect x="407.90" y="646.76" width="1.60" height="11.30" fill="#cbe5c4"/>
<rect x="413.90" y="646.76" width="1.20" height="11.30" fill="#cbe5c4"/>
<rect x="416.20" y="646.76" width="0.90" height="11.30" fill="#cbe5c4"/>
<rect x="421.50" y="646.76" width="1.00" height="11.30" fill="#b8cfe8"/>
<rect x="430.20" y="646.76" width="2.00" height="11.30" fill="#cbe5c4"/>
<rect x="447.60" y="646.76" width="0.90" height="11.30" fill="#cbe5c4"/>
<rect x="452.90" y="646.76" width="1.20" height="11.30" fill="#cbe5c4"/>
<rect x="166.29" y="646.76" width="2.00" height="11.30" fill="#efb0ab"/>
<rect x="165.75" y="646.76" width="1.00" height="11.30" fill="#efb0ab"/>
<rect x="74.00" y="658.79" width="1.20" height="11.30" fill="#cbe5c4"/>
<rect x="85.10" y="658.79" width="2.00" height="11.30" fill="#cbe5c4"/>
<rect x="88.20" y="658.79" width="1.00" height="11.30" fill="#cbe5c4"/>
<rect x="96.90" y="658.79" width="0.90" height="11.30" fill="#cbe5c4"/>
<rect x="104.40" y="658.79" width="2.00" height="11.30" fill="#cbe5c4"/>
<rect x="108.60" y="658.79" width="2.00" height="11.30" fill="#cbe5c4"/>
<rect x="108.60" y="664.44" width="2.00" height="5.65" fill="#efb0ab"/>
<rect x="116.10" y="658.79" width="1.60" height="11.30" fill="#cbe5c4"/>
<rect x="126.50" y="658.79" width="1.00" height="11.30" fill="#cbe5c4"/>
<rect x="130.80" y="658.79" width="2.00" height="11.30" fill="#efb0ab"/>
<rect x="130.80" y="664.44" width="2.00" height="5.65" fill="#cbe5c4"/>
<rect x="133.90" y="658.79" width="1.20" height="11.30" fill="#cbe5c4"/>
<rect x="137.30" y="658.79" width="1.60" height="11.30" fill="#cbe5c4"/>
<rect x="144.40" y="658.79" width="0.90" height="11.30" fill="#cbe5c4"/>
<rect x="146.40" y="658.79" width="1.00" height="11.30" fill="#cbe5c4"/>
<rect x="146.40" y="664.44" width="1.00" height="5.65" fill="#cbe5c4"/>
<rect x="152.90" y="658.79" width="2.00" height="11.30" fill="#cbe5c4"/>
<rect x="164.80" y="658.79" width="1.00" height="11.30" fill="#cbe5c4"/>
<rect x="170.20" y="658.79" width="1.20" height="11.30" fill="#efb0ab"/>
<rect x="172.50" y="658.79" width="1.20" height="11.30" fill="#cbe5c4"/>
<rect x="177.00" y="658.79" width="1.20" height="11.30" fill="#cbe5c4"/>
<rect x="180.40" y="658.79" width="1.60" height="11.30" fill="#cbe5c4"/>
<rect x="183.10" y="658.79" width="1.60" height="11.30" fill="#cbe5c4"/>
<rect x="186.90" y="658.79" width="0.90" height="11.30" fill="#cbe5c4"/>
<rect x="193.30" y="658.79" width="0.90" height="11.30" fill="#efb0ab"/>
<rect x="203.00" y="658.79" width="1.60" height="11.30" fill="#cbe5c4"/>
<rect x="216.70" y="658.79" width="0.90" height="11.30" fill="#cbe5c4"/>
<rect x="230.80" y="658.79" width="0.90" height="11.30" fill="#cbe5c4"/>
<rect x="237.20" y="658.79" width="0.90" height="11.30" fill="#cbe5c4"/>
<rect x="243.60" y="658.79" width="0.90" height="11.30" fill="#cbe5c4"/>
<rect x="245.60" y="658.79" width="0.90" height="11.30" fill="#cbe5c4"/>
<rect x="247.60" y="658.79" width="1.20" height="11.30" fill="#cbe5c4"/>
<rect x="253.20" y="658.79" width="0.90" height="11.30" fill="#cbe5c4"/>
<rect x="256.30" y="658.79" width="0.90" height="11.30" fill="#cbe5c4"/>
<rect x="256.30" y="664.44" width="0.90" height="5.65" fill="#cbe5c4"/>
<rect x="279.40" y="658.79" width="1.60" height="11.30" fill="#cbe5c4"/>
<rect x="286.50" y="658.79" width="2.00" height="11.30" fill="#cbe5c4"/>
<rect x="289.60" y="658.79" width="2.00" height="11.30" fill="#cbe5c4"/>
<rect x="305.90" y="658.79" width="2.00" height="11.30" fill="#cbe5c4"/>
<rect x="310.10" y="658.79" width="1.00" height="11.30" fill="#cbe5c4"/>
<rect x="314.40" y="658.79" width="0.90" height="11.30" fill="#cbe5c4"/>
<rect x="316.40" y="658.79" width="2.00" height="11.30" fill="#cbe5c4"/>
<rect x="316.40" y="664.44" width="2.00" height="5.65" fill="#cbe5c4"/>
<rect x="355.80" y="658.79" width="2.00" height="11.30" fill="#cbe5c4"/>
<rect x="361.10" y="658.79" width="2.00" height="11.30" fill="#cbe5c4"/>
<rect x="369.70" y="658.79" width="1.60" height="11.30" fill="#cbe5c4"/>
<rect x="375.70" y="658.79" width="1.00" height="11.30" fill="#cbe5c4"/>
<rect x="382.20" y="658.79" width="1.60" height="11.30" fill="#cbe5c4"/>
<rect x="388.20" y="658.79" width="2.00" height="11.30" fill="#cbe5c4"/>
<rect x="413.30" y="658.79" width="1.20" height="11.30" fill="#cbe5c4"/>
<rect x="439.80" y="658.79" width="1.00" height="11.30" fill="#cbe5c4"/>
<rect x="439.80" y="664.44" width="1.00" height="5.65" fill="#cbe5c4"/>
<rect x="441.90" y="658.79" width="0.90" height="11.30" fill="#cbe5c4"/>
<rect x="462.60" y="658.79" width="0.90" height="11.30" fill="#cbe5c4"/>
<rect x="164.47" y="658.79" width="1.00" height="11.30" fill="#efb0ab"/>
<rect x="75.10" y="670.82" width="1.60" height="11.30" fill="#cbe5c4"/>
<rect x="75.10" y="676.47" width="1.60" height="5.65" fill="#cbe5c4"/>
<rect x="80.00" y="670.82" width="2.00" height="11.30" fill="#cbe5c4"/>
<rect x="83.10" y="670.82" width="0.90" height="11.30" fill="#cbe5c4"/>
<rect x="86.20" y="670.82" width="2.00" height="11.30" fill="#cbe5c4"/>
<rect x="95.90" y="670.82" width="1.60" height="11.30" fill="#cbe5c4"/>
<rect x="111.80" y="670.82" width="1.60" height="11.30" fill="#cbe5c4"/>
<rect x="115.60" y="670.82" width="1.60" height="11.30" fill="#cbe5c4"/>
<rect x="118.30" y="670.82" width="1.20" height="11.30" fill="#efb0ab"/>
<rect x="118.30" y="676.47" width="1.20" height="5.65" fill="#cbe5c4"/>
<rect x="121.70" y="670.82" width="1.00" height="11.30" fill="#cbe5c4"/>
<rect x="146.90" y="670.82" width="1.20" height="11.30" fill="#cbe5c4"/>
<rect x="146.90" y="676.47" width="1.20" height="5.65" fill="#cbe5c4"/>
<rect x="150.30" y="670.82" width="2.00" height="11.30" fill="#cbe5c4"/>
<rect x="154.50" y="670.82" width="1.60" height="11.30" fill="#cbe5c4"/>
<rect x="159.40" y="670.82" width="1.60" height="11.30" fill="#cbe5c4"/>
<rect x="168.70" y="670.82" width="1.20" height="11.30" fill="#cbe5c4"/>
<rect x="187.50" y="670.82" width="1.20" height="11.30" fill="#cbe5c4"/>
<rect x="192.00" y="670.82" width="1.20" height="11.30" fill="#cbe5c4"/>
<rect x="194.30" y="670.82" width="1.20" height="11.30" fill="#cbe5c4"/>
<rect x="199.90" y="670.82" width="1.60" height="11.30" fill="#cbe5c4"/>
<rect x="202.60" y="670.82" width="0.90" height="11.30" fill="#cbe5c4"/>
<rect x="204.60" y="670.82" width="1.00" height="11.30" fill="#cbe5c4"/>
<rect x="204.60" y="676.47" width="1.00" height="5.65" fill="#efb0ab"/>
<rect x="207.80" y="670.82" width="1.60" height="11.30" fill="#cbe5c4"/>
<rect x="282.70" y="670.82" width="1.20" height="11.30" fill="#cbe5c4"/>
<rect x="287.20" y="670.82" width="2.00" height="11.30" fill="#cbe5c4"/>
<rect x="295.80" y="670.82" width="0.90" height="11.30" fill="#cbe5c4"/>
<rect x="306.60" y="670.82" width="0.90" height="11.30" fill="#cbe5c4"/>
<rect x="324.00" y="670.82" width="1.60" height="11.30" fill="#cbe5c4"/>
<rect x="326.70" y="670.82" width="1.00" height="11.30" fill="#cbe5c4"/>
<rect x="328.80" y="670.82" width="1.00" height="11.30" fill="#cbe5c4"/>
<rect x="334.20" y="670.82" width="0.90" height="11.30" fill="#cbe5c4"/>
<rect x="336.20" y="670.82" width="1.00" height="11.30" fill="#cbe5c4"/>
<rect x="339.40" y="670.82" width="2.00" height="11.30" fill="#cbe5c4"/>
<rect x="342.50" y="670.82" width="0.90" height="11.30" fill="#cbe5c4"/>
<rect x="342.50" y="676.47" width="0.90" height="5.65" fill="#cbe5c4"/>
<rect x="366.50" y="670.82" width="1.20" height="11.30" fill="#cbe5c4"/>
<rect x="369.90" y="670.82" width="1.60" height="11.30" fill="#cbe5c4"/>
<rect x="385.80" y="670.82" width="0.90" height="11.30" fill="#cbe5c4"/>
<rect x="416.40" y="670.82" width="1.20" height="11.30" fill="#cbe5c4"/>
<rect x="425.30" y="670.82" width="1.20" height="11.30" fill="#cbe5c4"/>
<rect x="457.30" y="670.82" width="1.60" height="11.30" fill="#cbe5c4"/>
<rect x="462.20" y="670.82" width="1.60" height="11.30" fill="#cbe5c4"/>
<rect x="164.40" y="670.82" width="1.50" height="11.30" fill="#cbe5c4"/>
<rect x="163.53" y="670.82" width="1.00" height="11.30" fill="#efb0ab"/>
<rect x="78.40" y="682.85" width="2.00" height="11.30" fill="#cbe5c4"/>
<rect x="85.90" y="682.85" width="1.00" height="11.30" fill="#cbe5c4"/>
<rect x="88.00" y="682.85" width="1.20" height="11.30" fill="#cbe5c4"/>
<rect x="90.30" y="682.85" width="1.00" height="11.30" fill="#cbe5c4"/>
<rect x="95.70" y="682.85" width="1.60" height="11.30" fill="#cbe5c4"/>
<rect x="111.60" y="682.85" width="1.60" height="11.30" fill="#cbe5c4"/>
<rect x="115.40" y="682.85" width="1.00" height="11.30" fill="#cbe5c4"/>
<rect x="123.00" y="682.85" width="1.60" height="11.30" fill="#efb0ab"/>
<rect x="137.80" y="682.85" width="0.90" height="11.30" fill="#cbe5c4"/>
<rect x="139.80" y="682.85" width="1.00" height="11.30" fill="#cbe5c4"/>
<rect x="146.30" y="682.85" width="2.00" height="11.30" fill="#cbe5c4"/>
<rect x="146.30" y="688.50" width="2.00" height="5.65" fill="#cbe5c4"/>
<rect x="152.70" y="682.85" width="2.00" height="11.30" fill="#cbe5c4"/>
<rect x="167.90" y="682.85" width="1.60" height="11.30" fill="#cbe5c4"/>
<rect x="176.10" y="682.85" width="0.90" height="11.30" fill="#cbe5c4"/>
<rect x="184.70" y="682.85" width="1.20" height="11.30" fill="#cbe5c4"/>
<rect x="187.00" y="682.85" width="1.00" height="11.30" fill="#cbe5c4"/>
<rect x="208.90" y="682.85" width="1.20" height="11.30" fill="#cbe5c4"/>
<rect x="232.10" y="682.85" width="0.90" height="11.30" fill="#cbe5c4"/>
<rect x="237.40" y="682.85" width="2.00" height="11.30" fill="#cbe5c4"/>
<rect x="244.90" y="682.85" width="1.00" height="11.30" fill="#efb0ab"/>
<rect x="279.40" y="682.85" width="0.90" height="11.30" fill="#cbe5c4"/>
<rect x="288.00" y="682.85" width="2.00" height="11.30" fill="#cbe5c4"/>
<rect x="298.80" y="682.85" width="2.00" height="11.30" fill="#efb0ab"/>
<rect x="308.50" y="682.85" width="1.60" height="11.30" fill="#efb0ab"/>
<rect x="318.90" y="682.85" width="2.00" height="11.30" fill="#cbe5c4"/>
<rect x="339.60" y="682.85" width="1.20" height="11.30" fill="#efb0ab"/>
<rect x="349.60" y="682.85" width="1.20" height="11.30" fill="#b8cfe8"/>
<rect x="354.10" y="682.85" width="1.20" height="11.30" fill="#b8cfe8"/>
<rect x="361.90" y="682.85" width="0.90" height="11.30" fill="#efb0ab"/>
<rect x="374.90" y="682.85" width="0.90" height="11.30" fill="#cbe5c4"/>
<rect x="378.00" y="682.85" width="2.00" height="11.30" fill="#efb0ab"/>
<rect x="406.40" y="682.85" width="1.60" height="11.30" fill="#cbe5c4"/>
<rect x="428.90" y="682.85" width="0.90" height="11.30" fill="#cbe5c4"/>
<rect x="164.79" y="682.85" width="1.00" height="11.30" fill="#cbe5c4"/>
<rect x="74.00" y="694.88" width="1.20" height="11.30" fill="#efb0ab"/>
<rect x="77.40" y="694.88" width="1.60" height="11.30" fill="#b8cfe8"/>
<rect x="81.20" y="694.88" width="1.20" height="11.30" fill="#efb0ab"/>
<rect x="84.60" y="694.88" width="1.60" height="11.30" fill="#efb0ab"/>
<rect x="104.90" y="694.88" width="1.00" height="11.30" fill="#efb0ab"/>
<rect x="107.00" y="694.88" width="2.00" height="11.30" fill="#efb0ab"/>
<rect x="113.40" y="694.88" width="1.00" height="11.30" fill="#cbe5c4"/>
<rect x="121.00" y="694.88" width="0.90" height="11.30" fill="#cfc0e2"/>
<rect x="126.30" y="694.88" width="2.00" height="11.30" fill="#b8cfe8"/>
<rect x="132.70" y="694.88" width="1.00" height="11.30" fill="#efb0ab"/>
<rect x="146.90" y="694.88" width="1.60" height="11.30" fill="#efb0ab"/>
<rect x="149.60" y="694.88" width="1.60" height="11.30" fill="#efb0ab"/>
<rect x="155.60" y="694.88" width="0.90" height="11.30" fill="#efb0ab"/>
<rect x="155.60" y="700.53" width="0.90" height="5.65" fill="#efb0ab"/>
<rect x="187.30" y="694.88" width="1.60" height="11.30" fill="#efb0ab"/>
<rect x="199.90" y="694.88" width="1.60" height="11.30" fill="#b8cfe8"/>
<rect x="204.80" y="694.88" width="1.60" height="11.30" fill="#b8cfe8"/>
<rect x="224.00" y="694.88" width="0.90" height="11.30" fill="#efb0ab"/>
<rect x="229.30" y="694.88" width="1.00" height="11.30" fill="#b8cfe8"/>
<rect x="233.60" y="694.88" width="2.00" height="11.30" fill="#efb0ab"/>
<rect x="244.40" y="694.88" width="1.60" height="11.30" fill="#cbe5c4"/>
<rect x="247.10" y="694.88" width="0.90" height="11.30" fill="#efb0ab"/>
<rect x="253.50" y="694.88" width="1.20" height="11.30" fill="#efb0ab"/>
<rect x="293.70" y="694.88" width="2.00" height="11.30" fill="#b8cfe8"/>
<rect x="293.70" y="700.53" width="2.00" height="5.65" fill="#b8cfe8"/>
<rect x="306.70" y="694.88" width="1.60" height="11.30" fill="#b8cfe8"/>
<rect x="311.60" y="694.88" width="0.90" height="11.30" fill="#efb0ab"/>
<rect x="313.60" y="694.88" width="1.60" height="11.30" fill="#efb0ab"/>
<rect x="316.30" y="694.88" width="1.60" height="11.30" fill="#cbe5c4"/>
<rect x="316.30" y="700.53" width="1.60" height="5.65" fill="#efb0ab"/>
<rect x="319.00" y="694.88" width="1.00" height="11.30" fill="#cbe5c4"/>
<rect x="321.10" y="694.88" width="1.60" height="11.30" fill="#efb0ab"/>
<rect x="323.80" y="694.88" width="1.60" height="11.30" fill="#efb0ab"/>
<rect x="330.90" y="694.88" width="2.00" height="11.30" fill="#b8cfe8"/>
<rect x="337.30" y="694.88" width="2.00" height="11.30" fill="#efb0ab"/>
<rect x="342.60" y="694.88" width="1.60" height="11.30" fill="#efb0ab"/>
<rect x="346.40" y="694.88" width="2.00" height="11.30" fill="#b8cfe8"/>
<rect x="366.00" y="694.88" width="1.20" height="11.30" fill="#cbe5c4"/>
<rect x="379.30" y="694.88" width="1.20" height="11.30" fill="#efb0ab"/>
<rect x="387.10" y="694.88" width="1.00" height="11.30" fill="#b8cfe8"/>
<rect x="390.30" y="694.88" width="1.20" height="11.30" fill="#cbe5c4"/>
<rect x="393.70" y="694.88" width="1.60" height="11.30" fill="#b8cfe8"/>
<rect x="399.70" y="694.88" width="2.00" height="11.30" fill="#efb0ab"/>
<rect x="402.80" y="694.88" width="1.60" height="11.30" fill="#efb0ab"/>
<rect x="407.70" y="694.88" width="1.20" height="11.30" fill="#b8cfe8"/>
<rect x="407.70" y="700.53" width="1.20" height="5.65" fill="#cfc0e2"/>
<rect x="410.00" y="694.88" width="1.60" height="11.30" fill="#b8cfe8"/>
<rect x="410.00" y="700.53" width="1.60" height="5.65" fill="#efb0ab"/>
<rect x="419.30" y="694.88" width="0.90" height="11.30" fill="#b8cfe8"/>
<rect x="437.80" y="694.88" width="1.00" height="11.30" fill="#cfc0e2"/>
<rect x="443.20" y="694.88" width="1.60" height="11.30" fill="#efb0ab"/>
<rect x="449.20" y="694.88" width="1.00" height="11.30" fill="#efb0ab"/>
<rect x="162.69" y="694.88" width="2.00" height="11.30" fill="#cbe5c4"/>
<rect x="74.00" y="706.91" width="0.90" height="11.30" fill="#cbe5c4"/>
<rect x="81.50" y="706.91" width="1.20" height="11.30" fill="#cbe5c4"/>
<rect x="83.80" y="706.91" width="1.20" height="11.30" fill="#b8cfe8"/>
<rect x="100.40" y="706.91" width="1.00" height="11.30" fill="#cbe5c4"/>
<rect x="103.60" y="706.91" width="1.00" height="11.30" fill="#cbe5c4"/>
<rect x="107.90" y="706.91" width="1.20" height="11.30" fill="#cbe5c4"/>
<rect x="110.20" y="706.91" width="1.20" height="11.30" fill="#cbe5c4"/>
<rect x="112.50" y="706.91" width="1.20" height="11.30" fill="#cbe5c4"/>
<rect x="114.80" y="706.91" width="1.00" height="11.30" fill="#cbe5c4"/>
<rect x="120.20" y="706.91" width="2.00" height="11.30" fill="#cbe5c4"/>
<rect x="123.30" y="706.91" width="1.00" height="11.30" fill="#cbe5c4"/>
<rect x="128.70" y="706.91" width="0.90" height="11.30" fill="#cbe5c4"/>
<rect x="134.00" y="706.91" width="1.60" height="11.30" fill="#cbe5c4"/>
<rect x="147.70" y="706.91" width="2.00" height="11.30" fill="#cbe5c4"/>
<rect x="162.90" y="706.91" width="1.20" height="11.30" fill="#cbe5c4"/>
<rect x="167.40" y="706.91" width="2.00" height="11.30" fill="#cbe5c4"/>
<rect x="173.80" y="706.91" width="1.20" height="11.30" fill="#cbe5c4"/>
<rect x="214.60" y="706.91" width="1.60" height="11.30" fill="#cbe5c4"/>
<rect x="219.50" y="706.91" width="1.00" height="11.30" fill="#cbe5c4"/>
<rect x="228.20" y="706.91" width="1.20" height="11.30" fill="#cbe5c4"/>
<rect x="234.90" y="706.91" width="1.00" height="11.30" fill="#b8cfe8"/>
<rect x="243.60" y="706.91" width="2.00" height="11.30" fill="#cbe5c4"/>
<rect x="247.80" y="706.91" width="1.00" height="11.30" fill="#cbe5c4"/>
<rect x="249.90" y="706.91" width="1.20" height="11.30" fill="#cbe5c4"/>
<rect x="279.40" y="706.91" width="1.00" height="11.30" fill="#cbe5c4"/>
<rect x="285.90" y="706.91" width="0.90" height="11.30" fill="#cbe5c4"/>
<rect x="292.30" y="706.91" width="1.60" height="11.30" fill="#cbe5c4"/>
<rect x="301.60" y="706.91" width="1.60" height="11.30" fill="#cbe5c4"/>
<rect x="310.90" y="706.91" width="1.00" height="11.30" fill="#cbe5c4"/>
<rect x="316.30" y="706.91" width="0.90" height="11.30" fill="#cbe5c4"/>
<rect x="324.90" y="706.91" width="1.60" height="11.30" fill="#cbe5c4"/>
<rect x="329.80" y="706.91" width="1.00" height="11.30" fill="#cbe5c4"/>
<rect x="334.10" y="706.91" width="1.60" height="11.30" fill="#cbe5c4"/>
<rect x="343.40" y="706.91" width="0.90" height="11.30" fill="#cbe5c4"/>
<rect x="348.70" y="706.91" width="0.90" height="11.30" fill="#cbe5c4"/>
<rect x="352.90" y="706.91" width="0.90" height="11.30" fill="#cbe5c4"/>
<rect x="359.30" y="706.91" width="1.20" height="11.30" fill="#cbe5c4"/>
<rect x="361.60" y="706.91" width="0.90" height="11.30" fill="#cbe5c4"/>
<rect x="364.70" y="706.91" width="1.20" height="11.30" fill="#cbe5c4"/>
<rect x="372.50" y="706.91" width="1.00" height="11.30" fill="#cbe5c4"/>
<rect x="372.50" y="712.56" width="1.00" height="5.65" fill="#cbe5c4"/>
<rect x="377.90" y="706.91" width="1.00" height="11.30" fill="#cbe5c4"/>
<rect x="381.10" y="706.91" width="1.20" height="11.30" fill="#cbe5c4"/>
<rect x="384.50" y="706.91" width="2.00" height="11.30" fill="#cbe5c4"/>
<rect x="388.70" y="706.91" width="0.90" height="11.30" fill="#cbe5c4"/>
<rect x="390.70" y="706.91" width="0.90" height="11.30" fill="#cbe5c4"/>
<rect x="396.00" y="706.91" width="1.00" height="11.30" fill="#cbe5c4"/>
<rect x="398.10" y="706.91" width="1.60" height="11.30" fill="#cbe5c4"/>
<rect x="403.00" y="706.91" width="1.20" height="11.30" fill="#cbe5c4"/>
<rect x="403.00" y="712.56" width="1.20" height="5.65" fill="#cbe5c4"/>
<rect x="411.90" y="706.91" width="0.90" height="11.30" fill="#cbe5c4"/>
<rect x="424.90" y="706.91" width="2.00" height="11.30" fill="#cbe5c4"/>
<rect x="441.20" y="706.91" width="2.00" height="11.30" fill="#cbe5c4"/>
<rect x="446.50" y="706.91" width="1.20" height="11.30" fill="#cbe5c4"/>
<rect x="451.00" y="706.91" width="1.20" height="11.30" fill="#b8cfe8"/>
<rect x="451.00" y="712.56" width="1.20" height="5.65" fill="#cbe5c4"/>
<rect x="463.20" y="706.91" width="1.60" height="11.30" fill="#cbe5c4"/>
<rect x="162.68" y="706.91" width="1.00" height="11.30" fill="#cbe5c4"/>
<rect x="165.60" y="706.91" width="1.00" height="11.30" fill="#efb0ab"/>
<rect x="74.00" y="718.94" width="0.90" height="11.30" fill="#cbe5c4"/>
<rect x="78.20" y="718.94" width="2.00" height="11.30" fill="#cbe5c4"/>
<rect x="78.20" y="724.59" width="2.00" height="5.65" fill="#cbe5c4"/>
<rect x="85.70" y="718.94" width="2.00" height="11.30" fill="#cbe5c4"/>
<rect x="95.40" y="718.94" width="0.90" height="11.30" fill="#cbe5c4"/>
<rect x="100.70" y="718.94" width="1.00" height="11.30" fill="#cbe5c4"/>
<rect x="103.90" y="718.94" width="2.00" height="11.30" fill="#cbe5c4"/>
<rect x="113.60" y="718.94" width="1.60" height="11.30" fill="#cbe5c4"/>
<rect x="118.50" y="718.94" width="1.20" height="11.30" fill="#cbe5c4"/>
<rect x="118.50" y="724.59" width="1.20" height="5.65" fill="#cbe5c4"/>
<rect x="129.60" y="718.94" width="1.60" height="11.30" fill="#cbe5c4"/>
<rect x="140.00" y="718.94" width="1.20" height="11.30" fill="#cbe5c4"/>
<rect x="143.40" y="718.94" width="1.20" height="11.30" fill="#cbe5c4"/>
<rect x="160.00" y="718.94" width="2.00" height="11.30" fill="#cbe5c4"/>
<rect x="165.30" y="718.94" width="1.20" height="11.30" fill="#cbe5c4"/>
<rect x="167.60" y="718.94" width="1.20" height="11.30" fill="#cbe5c4"/>
<rect x="169.90" y="718.94" width="0.90" height="11.30" fill="#efb0ab"/>
<rect x="175.20" y="718.94" width="1.20" height="11.30" fill="#cbe5c4"/>
<rect x="177.50" y="718.94" width="1.60" height="11.30" fill="#cbe5c4"/>
<rect x="182.40" y="718.94" width="2.00" height="11.30" fill="#cbe5c4"/>
<rect x="182.40" y="724.59" width="2.00" height="5.65" fill="#efb0ab"/>
<rect x="194.30" y="718.94" width="2.00" height="11.30" fill="#cbe5c4"/>
<rect x="197.40" y="718.94" width="0.90" height="11.30" fill="#cbe5c4"/>
<rect x="201.60" y="718.94" width="2.00" height="11.30" fill="#cbe5c4"/>
<rect x="201.60" y="724.59" width="2.00" height="5.65" fill="#cbe5c4"/>
<rect x="226.70" y="718.94" width="0.90" height="11.30" fill="#cbe5c4"/>
<rect x="233.10" y="718.94" width="1.00" height="11.30" fill="#cbe5c4"/>
<rect x="246.20" y="718.94" width="1.00" height="11.30" fill="#cbe5c4"/>
<rect x="277.20" y="718.94" width="2.00" height="11.30" fill="#cbe5c4"/>
<rect x="283.60" y="718.94" width="1.20" height="11.30" fill="#cbe5c4"/>
<rect x="289.20" y="718.94" width="1.60" height="11.30" fill="#cbe5c4"/>
<rect x="298.50" y="718.94" width="0.90" height="11.30" fill="#cbe5c4"/>
<rect x="312.60" y="718.94" width="0.90" height="11.30" fill="#cbe5c4"/>
<rect x="317.90" y="718.94" width="1.20" height="11.30" fill="#cbe5c4"/>
<rect x="320.20" y="718.94" width="0.90" height="11.30" fill="#cbe5c4"/>
<rect x="328.80" y="718.94" width="2.00" height="11.30" fill="#cbe5c4"/>
<rect x="342.90" y="718.94" width="2.00" height="11.30" fill="#cbe5c4"/>
<rect x="347.10" y="718.94" width="1.60" height="11.30" fill="#cbe5c4"/>
<rect x="358.60" y="718.94" width="1.60" height="11.30" fill="#efb0ab"/>
<rect x="365.70" y="718.94" width="1.00" height="11.30" fill="#cbe5c4"/>
<rect x="365.70" y="724.59" width="1.00" height="5.65" fill="#cbe5c4"/>
<rect x="370.00" y="718.94" width="1.60" height="11.30" fill="#cbe5c4"/>
<rect x="373.80" y="718.94" width="2.00" height="11.30" fill="#cbe5c4"/>
<rect x="379.10" y="718.94" width="1.00" height="11.30" fill="#cbe5c4"/>
<rect x="383.40" y="718.94" width="1.00" height="11.30" fill="#cbe5c4"/>
<rect x="393.20" y="718.94" width="2.00" height="11.30" fill="#cbe5c4"/>
<rect x="396.30" y="718.94" width="1.60" height="11.30" fill="#cbe5c4"/>
<rect x="401.20" y="718.94" width="0.90" height="11.30" fill="#cbe5c4"/>
<rect x="401.20" y="724.59" width="0.90" height="5.65" fill="#cbe5c4"/>
<rect x="435.10" y="718.94" width="0.90" height="11.30" fill="#cbe5c4"/>
<rect x="439.30" y="718.94" width="2.00" height="11.30" fill="#cbe5c4"/>
<rect x="96.00" y="730.97" width="1.20" height="11.30" fill="#cbe5c4"/>
<rect x="100.50" y="730.97" width="1.00" height="11.30" fill="#cbe5c4"/>
<rect x="102.60" y="730.97" width="1.00" height="11.30" fill="#cbe5c4"/>
<rect x="112.40" y="730.97" width="2.00" height="11.30" fill="#cbe5c4"/>
<rect x="124.30" y="730.97" width="1.00" height="11.30" fill="#cbe5c4"/>
<rect x="148.40" y="730.97" width="1.00" height="11.30" fill="#cbe5c4"/>
<rect x="148.40" y="736.62" width="1.00" height="5.65" fill="#efb0ab"/>
<rect x="152.70" y="730.97" width="0.90" height="11.30" fill="#cbe5c4"/>
<rect x="155.80" y="730.97" width="1.60" height="11.30" fill="#efb0ab"/>
<rect x="176.10" y="730.97" width="1.20" height="11.30" fill="#cbe5c4"/>
<rect x="187.20" y="730.97" width="2.00" height="11.30" fill="#cbe5c4"/>
<rect x="187.20" y="736.62" width="2.00" height="5.65" fill="#cbe5c4"/>
<rect x="203.50" y="730.97" width="1.20" height="11.30" fill="#cbe5c4"/>
<rect x="223.40" y="730.97" width="1.20" height="11.30" fill="#cbe5c4"/>
<rect x="248.80" y="730.97" width="1.60" height="11.30" fill="#cbe5c4"/>
<rect x="252.60" y="730.97" width="1.20" height="11.30" fill="#cbe5c4"/>
<rect x="254.90" y="730.97" width="2.00" height="11.30" fill="#efb0ab"/>
<rect x="282.70" y="730.97" width="0.90" height="11.30" fill="#efb0ab"/>
<rect x="284.70" y="730.97" width="1.00" height="11.30" fill="#cbe5c4"/>
<rect x="293.40" y="730.97" width="0.90" height="11.30" fill="#cbe5c4"/>
<rect x="296.50" y="730.97" width="1.20" height="11.30" fill="#efb0ab"/>
<rect x="299.90" y="730.97" width="1.60" height="11.30" fill="#cbe5c4"/>
<rect x="302.60" y="730.97" width="1.00" height="11.30" fill="#cbe5c4"/>
<rect x="310.20" y="730.97" width="2.00" height="11.30" fill="#cbe5c4"/>
<rect x="327.60" y="730.97" width="2.00" height="11.30" fill="#cbe5c4"/>
<rect x="332.90" y="730.97" width="1.20" height="11.30" fill="#cbe5c4"/>
<rect x="336.30" y="730.97" width="2.00" height="11.30" fill="#cbe5c4"/>
<rect x="343.80" y="730.97" width="1.00" height="11.30" fill="#cbe5c4"/>
<rect x="351.40" y="730.97" width="1.00" height="11.30" fill="#cbe5c4"/>
<rect x="371.10" y="730.97" width="1.60" height="11.30" fill="#cbe5c4"/>
<rect x="371.10" y="736.62" width="1.60" height="5.65" fill="#f4cca8"/>
<rect x="377.10" y="730.97" width="0.90" height="11.30" fill="#cbe5c4"/>
<rect x="409.90" y="730.97" width="2.00" height="11.30" fill="#f4cca8"/>
<rect x="413.00" y="730.97" width="0.90" height="11.30" fill="#efb0ab"/>
<rect x="446.90" y="730.97" width="1.00" height="11.30" fill="#cbe5c4"/>
<rect x="455.60" y="730.97" width="1.20" height="11.30" fill="#cbe5c4"/>
<text x="69.6" y="513.8" font-family='"Liberation Serif", serif' font-size="10.3" fill="#111" text-anchor="end">TP53</text>
<text x="473.3" y="513.8" font-family='"Liberation Serif", serif' font-size="10.2" fill="#111" text-anchor="start">49.6%</text>
<text x="69.6" y="525.8" font-family='"Liberation Serif", serif' font-size="10.3" fill="#111" text-anchor="end">TTN</text>
<text x="473.3" y="525.8" font-family='"Liberation Serif", serif' font-size="10.2" fill="#111" text-anchor="start">47.3%</text>
<text x="69.6" y="537.8" font-family='"Liberation Serif", serif' font-size="10.3" fill="#111" text-anchor="end">KMT2D</text>
<text x="473.3" y="537.8" font-family='"Liberation Serif", serif' font-size="10.2" fill="#111" text-anchor="start">30.5%</text>
<text x="69.6" y="549.8" font-family='"Liberation Serif", serif' font-size="10.3" fill="#111" text-anchor="end">MUC16</text>
<text x="473.3" y="549.8" font-family='"Liberation Serif", serif' font-size="10.2" fill="#111" text-anchor="start">29.2%</text>
<text x="69.6" y="561.9" font-family='"Liberation Serif", serif' font-size="10.3" fill="#111" text-anchor="end">KDM6A</text>
<text x="473.3" y="561.9" font-family='"Liberation Serif", serif' font-size="10.2" fill="#111" text-anchor="start">27.4%</text>
<text x="69.6" y="573.9" font-family='"Liberation Serif", serif' font-size="10.3" fill="#111" text-anchor="end">ARID1A</text>
<text x="473.3" y="573.9" font-family='"Liberation Serif", serif' font-size="10.2" fill="#111" text-anchor="start">25.8%</text>
<text x="69.6" y="585.9" font-family='"Liberation Serif", serif' font-size="10.3" fill="#111" text-anchor="end">PIK3CA</text>
<text x="473.3" y="585.9" font-family='"Liberation Serif", serif' font-size="10.2" fill="#111" text-anchor="start">22.5%</text>
<text x="69.6" y="598.0" font-family='"Liberation Serif", serif' font-size="10.3" fill="#111" text-anchor="end">SYNE1</text>
<text x="473.3" y="598.0" font-family='"Liberation Serif", serif' font-size="10.2" fill="#111" text-anchor="start">20.7%</text>
<text x="69.6" y="610.0" font-family='"Liberation Serif", serif' font-size="10.3" fill="#111" text-anchor="end">RB1</text>
<text x="473.3" y="610.0" font-family='"Liberation Serif", serif' font-size="10.2" fill="#111" text-anchor="start">19.1%</text>
<text x="69.6" y="622.0" font-family='"Liberation Serif", serif' font-size="10.3" fill="#111" text-anchor="end">KMT2C</text>
<text x="473.3" y="622.0" font-family='"Liberation Serif", serif' font-size="10.2" fill="#111" text-anchor="start">18.1%</text>
<text x="69.6" y="634.0" font-family='"Liberation Serif", serif' font-size="10.3" fill="#111" text-anchor="end">RYR2</text>
<text x="473.3" y="634.0" font-family='"Liberation Serif", serif' font-size="10.2" fill="#111" text-anchor="start">17.8%</text>
<text x="69.6" y="646.1" font-family='"Liberation Serif", serif' font-size="10.3" fill="#111" text-anchor="end">HMCN1</text>
<text x="473.3" y="646.1" font-family='"Liberation Serif", serif' font-size="10.2" fill="#111" text-anchor="start">17.8%</text>
<text x="69.6" y="658.1" font-family='"Liberation Serif", serif' font-size="10.3" fill="#111" text-anchor="end">EP300</text>
<text x="473.3" y="658.1" font-family='"Liberation Serif", serif' font-size="10.2" fill="#111" text-anchor="start">16.5%</text>
<text x="69.6" y="670.1" font-family='"Liberation Serif", serif' font-size="10.3" fill="#111" text-anchor="end">MACF1</text>
<text x="473.3" y="670.1" font-family='"Liberation Serif", serif' font-size="10.2" fill="#111" text-anchor="start">16.3%</text>
<text x="69.6" y="682.2" font-family='"Liberation Serif", serif' font-size="10.3" fill="#111" text-anchor="end">FLG</text>
<text x="473.3" y="682.2" font-family='"Liberation Serif", serif' font-size="10.2" fill="#111" text-anchor="start">16.0%</text>
<text x="69.6" y="694.2" font-family='"Liberation Serif", serif' font-size="10.3" fill="#111" text-anchor="end">FAT4</text>
<text x="473.3" y="694.2" font-family='"Liberation Serif", serif' font-size="10.2" fill="#111" text-anchor="start">15.2%</text>
<text x="69.6" y="706.2" font-family='"Liberation Serif", serif' font-size="10.3" fill="#111" text-anchor="end">STAG2</text>
<text x="473.3" y="706.2" font-family='"Liberation Serif", serif' font-size="10.2" fill="#111" text-anchor="start">14.2%</text>
<text x="69.6" y="718.3" font-family='"Liberation Serif", serif' font-size="10.3" fill="#111" text-anchor="end">FGFR3</text>
<text x="473.3" y="718.3" font-family='"Liberation Serif", serif' font-size="10.2" fill="#111" text-anchor="start">14.0%</text>
<text x="69.6" y="730.3" font-family='"Liberation Serif", serif' font-size="10.3" fill="#111" text-anchor="end">CSMD3</text>
<text x="473.3" y="730.3" font-family='"Liberation Serif", serif' font-size="10.2" fill="#111" text-anchor="start">14.0%</text>
<text x="69.6" y="742.3" font-family='"Liberation Serif", serif' font-size="10.3" fill="#111" text-anchor="end">ATM</text>
<text x="473.3" y="742.3" font-family='"Liberation Serif", serif' font-size="10.2" fill="#111" text-anchor="start">13.2%</text>
<rect x="74.00" y="488.80" width="196.90" height="9.80" fill="#65bcc7"/>
<rect x="275.00" y="488.80" width="194.70" height="9.80" fill="#d9493a"/>
<text x="68.9" y="498.6" font-family='"Liberation Serif", serif' font-size="9.7" fill="#111" text-anchor="end">group</text>
<line x1="74.90" y1="448.00" x2="74.90" y2="487.60" stroke="#111" stroke-width="1.5"/>
<line x1="69.30" y1="448.70" x2="75.60" y2="448.70" stroke="#111" stroke-width="1.4"/>
<line x1="69.30" y1="453.50" x2="74.90" y2="453.50" stroke="#111" stroke-width="1.4"/>
<text x="65.9" y="456.5" font-family='"Liberation Serif", serif' font-size="9.3" fill="#111" text-anchor="end">60</text>
<line x1="69.30" y1="465.00" x2="74.90" y2="465.00" stroke="#111" stroke-width="1.4"/>
<text x="65.9" y="468.0" font-family='"Liberation Serif", serif' font-size="9.3" fill="#111" text-anchor="end">40</text>
<line x1="69.30" y1="475.70" x2="74.90" y2="475.70" stroke="#111" stroke-width="1.4"/>
<text x="65.9" y="478.7" font-family='"Liberation Serif", serif' font-size="9.3" fill="#111" text-anchor="end">20</text>
<line x1="69.30" y1="486.80" x2="74.90" y2="486.80" stroke="#111" stroke-width="1.4"/>
<text x="65.9" y="489.8" font-family='"Liberation Serif", serif' font-size="9.3" fill="#111" text-anchor="end">0</text>
<text x="35.0" y="472.8" font-family='"Liberation Serif", serif' font-size="10" fill="#111" text-anchor="middle">MutCount</text>
<rect x="75.20" y="483.16" width="0.80" height="3.84" fill="#c6e3bd"/>
<rect x="75.20" y="481.09" width="0.80" height="2.07" fill="#c0cde8"/>
<rect x="76.15" y="482.06" width="0.80" height="4.94" fill="#c6e3bd"/>
<rect x="76.15" y="480.55" width="0.80" height="1.51" fill="#efb1ab"/>
<rect x="77.10" y="480.95" width="0.80" height="6.05" fill="#c6e3bd"/>
<rect x="77.10" y="479.68" width="0.80" height="1.28" fill="#efb1ab"/>
<rect x="78.05" y="485.12" width="0.80" height="1.88" fill="#c6e3bd"/>
<rect x="78.05" y="483.67" width="0.80" height="1.45" fill="#f4cba6"/>
<rect x="79.00" y="481.14" width="0.80" height="5.86" fill="#c6e3bd"/>
<rect x="79.00" y="480.09" width="0.80" height="1.05" fill="#efb1ab"/>
<rect x="79.95" y="481.70" width="0.80" height="5.30" fill="#c6e3bd"/>
<rect x="79.95" y="478.84" width="0.80" height="2.85" fill="#efb1ab"/>
<rect x="80.90" y="484.87" width="0.80" height="2.13" fill="#c6e3bd"/>
<rect x="80.90" y="483.88" width="0.80" height="0.99" fill="#c7e3be"/>
<rect x="81.85" y="485.00" width="0.80" height="2.00" fill="#c6e3bd"/>
<rect x="81.85" y="484.29" width="0.80" height="0.70" fill="#c7e3be"/>
<rect x="82.80" y="478.09" width="0.80" height="8.91" fill="#c6e3bd"/>
<rect x="82.80" y="475.00" width="0.80" height="3.09" fill="#efb1ab"/>
<rect x="83.75" y="483.73" width="0.80" height="3.27" fill="#c6e3bd"/>
<rect x="83.75" y="481.72" width="0.80" height="2.01" fill="#c7e3be"/>
<rect x="84.70" y="481.91" width="0.80" height="5.09" fill="#c6e3bd"/>
<rect x="84.70" y="480.60" width="0.80" height="1.30" fill="#efb1ab"/>
<rect x="85.65" y="485.32" width="0.80" height="1.68" fill="#c6e3bd"/>
<rect x="85.65" y="484.02" width="0.80" height="1.30" fill="#c0cde8"/>
<rect x="86.60" y="482.15" width="0.80" height="4.85" fill="#c6e3bd"/>
<rect x="86.60" y="480.44" width="0.80" height="1.72" fill="#efb1ab"/>
<rect x="87.55" y="482.54" width="0.80" height="4.46" fill="#c6e3bd"/>
<rect x="87.55" y="481.23" width="0.80" height="1.30" fill="#c0cde8"/>
<rect x="88.50" y="485.26" width="0.80" height="1.74" fill="#c6e3bd"/>
<rect x="88.50" y="484.98" width="0.80" height="0.27" fill="#c7e3be"/>
<rect x="89.45" y="481.90" width="0.80" height="5.10" fill="#c6e3bd"/>
<rect x="89.45" y="479.67" width="0.80" height="2.23" fill="#f4cba6"/>
<rect x="90.40" y="482.82" width="0.80" height="4.18" fill="#c6e3bd"/>
<rect x="90.40" y="482.29" width="0.80" height="0.53" fill="#efb1ab"/>
<rect x="91.35" y="483.52" width="0.80" height="3.48" fill="#c6e3bd"/>
<rect x="91.35" y="481.78" width="0.80" height="1.74" fill="#c0cde8"/>
<rect x="92.30" y="485.28" width="0.80" height="1.72" fill="#c6e3bd"/>
<rect x="92.30" y="484.92" width="0.80" height="0.35" fill="#efb1ab"/>
<rect x="93.25" y="480.96" width="0.80" height="6.04" fill="#c6e3bd"/>
<rect x="93.25" y="479.86" width="0.80" height="1.10" fill="#efb1ab"/>
<rect x="94.20" y="485.61" width="0.80" height="1.39" fill="#c6e3bd"/>
<rect x="94.20" y="484.62" width="0.80" height="0.99" fill="#c0cde8"/>
<rect x="95.15" y="483.41" width="0.80" height="3.59" fill="#c6e3bd"/>
<rect x="95.15" y="482.50" width="0.80" height="0.92" fill="#c0cde8"/>
<rect x="96.10" y="483.68" width="0.80" height="3.32" fill="#c6e3bd"/>
<rect x="96.10" y="481.37" width="0.80" height="2.31" fill="#f4cba6"/>
<rect x="97.05" y="485.11" width="0.80" height="1.89" fill="#c6e3bd"/>
<rect x="97.05" y="484.12" width="0.80" height="0.99" fill="#efb1ab"/>
<rect x="98.00" y="482.02" width="0.80" height="4.98" fill="#c6e3bd"/>
<rect x="98.00" y="480.88" width="0.80" height="1.14" fill="#efb1ab"/>
<rect x="98.95" y="482.21" width="0.80" height="4.79" fill="#c6e3bd"/>
<rect x="98.95" y="480.61" width="0.80" height="1.60" fill="#efb1ab"/>
<rect x="99.90" y="484.73" width="0.80" height="2.27" fill="#c6e3bd"/>
<rect x="99.90" y="484.15" width="0.80" height="0.58" fill="#f4cba6"/>
<rect x="100.85" y="484.39" width="0.80" height="2.61" fill="#c6e3bd"/>
<rect x="100.85" y="483.81" width="0.80" height="0.58" fill="#c0cde8"/>
<rect x="101.80" y="481.44" width="0.80" height="5.56" fill="#c6e3bd"/>
<rect x="101.80" y="480.23" width="0.80" height="1.21" fill="#efb1ab"/>
<rect x="102.75" y="480.95" width="0.80" height="6.05" fill="#c6e3bd"/>
<rect x="102.75" y="480.02" width="0.80" height="0.93" fill="#c7e3be"/>
<rect x="103.70" y="483.59" width="0.80" height="3.41" fill="#c6e3bd"/>
<rect x="103.70" y="483.00" width="0.80" height="0.59" fill="#efb1ab"/>
<rect x="104.65" y="481.33" width="0.80" height="5.67" fill="#c6e3bd"/>
<rect x="104.65" y="480.46" width="0.80" height="0.87" fill="#f4cba6"/>
<rect x="105.60" y="484.89" width="0.80" height="2.11" fill="#c6e3bd"/>
<rect x="105.60" y="483.48" width="0.80" height="1.40" fill="#efb1ab"/>
<rect x="106.55" y="482.77" width="0.80" height="4.23" fill="#c6e3bd"/>
<rect x="106.55" y="480.71" width="0.80" height="2.06" fill="#f4cba6"/>
<rect x="107.50" y="484.89" width="0.80" height="2.11" fill="#c6e3bd"/>
<rect x="107.50" y="484.39" width="0.80" height="0.50" fill="#efb1ab"/>
<rect x="108.45" y="485.78" width="0.80" height="1.22" fill="#c6e3bd"/>
<rect x="108.45" y="484.94" width="0.80" height="0.84" fill="#efb1ab"/>
<rect x="109.40" y="485.37" width="0.80" height="1.63" fill="#c6e3bd"/>
<rect x="109.40" y="484.78" width="0.80" height="0.59" fill="#f4cba6"/>
<rect x="110.35" y="485.25" width="0.80" height="1.75" fill="#c6e3bd"/>
<rect x="110.35" y="484.16" width="0.80" height="1.09" fill="#efb1ab"/>
<rect x="111.30" y="484.38" width="0.80" height="2.62" fill="#c6e3bd"/>
<rect x="111.30" y="483.35" width="0.80" height="1.03" fill="#c7e3be"/>
<rect x="112.25" y="482.76" width="0.80" height="4.24" fill="#c6e3bd"/>
<rect x="112.25" y="481.42" width="0.80" height="1.33" fill="#efb1ab"/>
<rect x="113.20" y="485.28" width="0.80" height="1.72" fill="#c6e3bd"/>
<rect x="113.20" y="485.05" width="0.80" height="0.22" fill="#c0cde8"/>
<rect x="114.15" y="485.57" width="0.80" height="1.43" fill="#c6e3bd"/>
<rect x="114.15" y="484.89" width="0.80" height="0.69" fill="#c7e3be"/>
<rect x="115.10" y="483.81" width="0.80" height="3.19" fill="#c6e3bd"/>
<rect x="115.10" y="482.02" width="0.80" height="1.79" fill="#c0cde8"/>
<rect x="116.05" y="485.31" width="0.80" height="1.69" fill="#c6e3bd"/>
<rect x="116.05" y="484.03" width="0.80" height="1.28" fill="#c0cde8"/>
<rect x="117.00" y="485.26" width="0.80" height="1.74" fill="#c6e3bd"/>
<rect x="117.00" y="485.05" width="0.80" height="0.20" fill="#c0cde8"/>
<rect x="117.95" y="483.52" width="0.80" height="3.48" fill="#c6e3bd"/>
<rect x="117.95" y="481.63" width="0.80" height="1.89" fill="#c0cde8"/>
<rect x="118.90" y="483.06" width="0.80" height="3.94" fill="#c6e3bd"/>
<rect x="118.90" y="482.07" width="0.80" height="0.99" fill="#efb1ab"/>
<rect x="119.85" y="485.05" width="0.80" height="1.95" fill="#c6e3bd"/>
<rect x="119.85" y="484.40" width="0.80" height="0.65" fill="#efb1ab"/>
<rect x="120.80" y="485.29" width="0.80" height="1.71" fill="#c6e3bd"/>
<rect x="120.80" y="484.12" width="0.80" height="1.18" fill="#efb1ab"/>
<rect x="121.75" y="485.32" width="0.80" height="1.68" fill="#c6e3bd"/>
<rect x="121.75" y="485.09" width="0.80" height="0.22" fill="#efb1ab"/>
<rect x="122.70" y="482.15" width="0.80" height="4.85" fill="#c6e3bd"/>
<rect x="122.70" y="481.29" width="0.80" height="0.86" fill="#efb1ab"/>
<rect x="123.65" y="485.48" width="0.80" height="1.52" fill="#c6e3bd"/>
<rect x="123.65" y="484.72" width="0.80" height="0.77" fill="#c7e3be"/>
<rect x="124.60" y="485.47" width="0.80" height="1.53" fill="#c6e3bd"/>
<rect x="124.60" y="484.91" width="0.80" height="0.56" fill="#f4cba6"/>
<rect x="125.55" y="483.65" width="0.80" height="3.35" fill="#c6e3bd"/>
<rect x="125.55" y="483.26" width="0.80" height="0.40" fill="#c7e3be"/>
<rect x="126.50" y="482.25" width="0.80" height="4.75" fill="#c6e3bd"/>
<rect x="126.50" y="481.32" width="0.80" height="0.93" fill="#c0cde8"/>
<rect x="127.45" y="482.74" width="0.80" height="4.26" fill="#c6e3bd"/>
<rect x="127.45" y="481.46" width="0.80" height="1.29" fill="#efb1ab"/>
<rect x="128.40" y="485.96" width="0.80" height="1.04" fill="#c6e3bd"/>
<rect x="128.40" y="485.29" width="0.80" height="0.67" fill="#c0cde8"/>
<rect x="129.35" y="484.80" width="0.80" height="2.20" fill="#c6e3bd"/>
<rect x="129.35" y="484.06" width="0.80" height="0.74" fill="#c0cde8"/>
<rect x="130.30" y="481.59" width="0.80" height="5.41" fill="#c6e3bd"/>
<rect x="130.30" y="480.74" width="0.80" height="0.86" fill="#efb1ab"/>
<rect x="131.25" y="480.20" width="0.80" height="6.80" fill="#c6e3bd"/>
<rect x="131.25" y="478.20" width="0.80" height="2.00" fill="#c7e3be"/>
<rect x="132.20" y="485.52" width="0.80" height="1.48" fill="#c6e3bd"/>
<rect x="132.20" y="484.55" width="0.80" height="0.98" fill="#f4cba6"/>
<rect x="133.15" y="484.49" width="0.80" height="2.51" fill="#c6e3bd"/>
<rect x="133.15" y="484.16" width="0.80" height="0.33" fill="#f4cba6"/>
<rect x="134.10" y="482.74" width="0.80" height="4.26" fill="#c6e3bd"/>
<rect x="134.10" y="482.17" width="0.80" height="0.57" fill="#c0cde8"/>
<rect x="135.05" y="485.12" width="0.80" height="1.88" fill="#c6e3bd"/>
<rect x="135.05" y="484.30" width="0.80" height="0.83" fill="#c7e3be"/>
<rect x="136.00" y="484.52" width="0.80" height="2.48" fill="#c6e3bd"/>
<rect x="136.00" y="482.83" width="0.80" height="1.68" fill="#c0cde8"/>
<rect x="136.95" y="483.49" width="0.80" height="3.51" fill="#c6e3bd"/>
<rect x="136.95" y="482.99" width="0.80" height="0.50" fill="#c0cde8"/>
<rect x="137.90" y="484.17" width="0.80" height="2.83" fill="#c6e3bd"/>
<rect x="137.90" y="482.82" width="0.80" height="1.35" fill="#f4cba6"/>
<rect x="138.85" y="485.54" width="0.80" height="1.46" fill="#c6e3bd"/>
<rect x="138.85" y="484.69" width="0.80" height="0.85" fill="#c7e3be"/>
<rect x="139.80" y="479.85" width="0.80" height="7.15" fill="#c6e3bd"/>
<rect x="139.80" y="478.07" width="0.80" height="1.78" fill="#f4cba6"/>
<rect x="140.75" y="485.88" width="0.80" height="1.12" fill="#c6e3bd"/>
<rect x="140.75" y="485.32" width="0.80" height="0.56" fill="#c7e3be"/>
<rect x="141.70" y="485.24" width="0.80" height="1.76" fill="#c6e3bd"/>
<rect x="141.70" y="484.15" width="0.80" height="1.09" fill="#c7e3be"/>
<rect x="142.65" y="484.52" width="0.80" height="2.48" fill="#c6e3bd"/>
<rect x="142.65" y="483.06" width="0.80" height="1.46" fill="#c7e3be"/>
<rect x="143.60" y="484.35" width="0.80" height="2.65" fill="#c6e3bd"/>
<rect x="143.60" y="483.87" width="0.80" height="0.49" fill="#efb1ab"/>
<rect x="144.55" y="484.77" width="0.80" height="2.23" fill="#c6e3bd"/>
<rect x="144.55" y="484.17" width="0.80" height="0.60" fill="#efb1ab"/>
<rect x="145.50" y="484.43" width="0.80" height="2.57" fill="#c6e3bd"/>
<rect x="145.50" y="484.06" width="0.80" height="0.37" fill="#c0cde8"/>
<rect x="146.45" y="484.38" width="0.80" height="2.62" fill="#c6e3bd"/>
<rect x="146.45" y="483.70" width="0.80" height="0.68" fill="#c7e3be"/>
<rect x="147.40" y="484.31" width="0.80" height="2.69" fill="#c6e3bd"/>
<rect x="147.40" y="483.86" width="0.80" height="0.45" fill="#efb1ab"/>
<rect x="148.35" y="485.10" width="0.80" height="1.90" fill="#c6e3bd"/>
<rect x="148.35" y="484.20" width="0.80" height="0.90" fill="#efb1ab"/>
<rect x="149.30" y="485.61" width="0.80" height="1.39" fill="#c6e3bd"/>
<rect x="149.30" y="485.32" width="0.80" height="0.29" fill="#c7e3be"/>
<rect x="150.25" y="484.00" width="0.80" height="3.00" fill="#c6e3bd"/>
<rect x="150.25" y="483.64" width="0.80" height="0.35" fill="#efb1ab"/>
<rect x="151.20" y="485.67" width="0.80" height="1.33" fill="#c6e3bd"/>
<rect x="151.20" y="484.72" width="0.80" height="0.94" fill="#f4cba6"/>
<rect x="152.15" y="483.39" width="0.80" height="3.61" fill="#c6e3bd"/>
<rect x="152.15" y="482.67" width="0.80" height="0.73" fill="#efb1ab"/>
<rect x="153.10" y="484.64" width="0.80" height="2.36" fill="#c6e3bd"/>
<rect x="153.10" y="483.15" width="0.80" height="1.49" fill="#c0cde8"/>
<rect x="154.05" y="485.51" width="0.80" height="1.49" fill="#c6e3bd"/>
<rect x="154.05" y="485.01" width="0.80" height="0.49" fill="#efb1ab"/>
<rect x="155.00" y="485.84" width="0.80" height="1.16" fill="#c6e3bd"/>
<rect x="155.00" y="485.55" width="0.80" height="0.29" fill="#c0cde8"/>
<rect x="155.95" y="486.16" width="0.80" height="0.84" fill="#c6e3bd"/>
<rect x="155.95" y="485.81" width="0.80" height="0.35" fill="#c7e3be"/>
<rect x="156.90" y="483.82" width="0.80" height="3.18" fill="#c6e3bd"/>
<rect x="156.90" y="482.53" width="0.80" height="1.28" fill="#f4cba6"/>
<rect x="157.85" y="484.73" width="0.80" height="2.27" fill="#c6e3bd"/>
<rect x="157.85" y="483.01" width="0.80" height="1.73" fill="#efb1ab"/>
<rect x="158.80" y="486.25" width="0.80" height="0.75" fill="#c6e3bd"/>
<rect x="158.80" y="485.75" width="0.80" height="0.50" fill="#efb1ab"/>
<rect x="159.75" y="485.03" width="0.80" height="1.97" fill="#c6e3bd"/>
<rect x="159.75" y="484.48" width="0.80" height="0.54" fill="#efb1ab"/>
<rect x="160.70" y="484.34" width="0.80" height="2.66" fill="#c6e3bd"/>
<rect x="160.70" y="484.01" width="0.80" height="0.33" fill="#c7e3be"/>
<rect x="161.65" y="485.31" width="0.80" height="1.69" fill="#c6e3bd"/>
<rect x="161.65" y="484.48" width="0.80" height="0.83" fill="#f4cba6"/>
<rect x="162.60" y="482.23" width="0.80" height="4.77" fill="#c6e3bd"/>
<rect x="162.60" y="480.90" width="0.80" height="1.33" fill="#f4cba6"/>
<rect x="163.55" y="483.58" width="0.80" height="3.42" fill="#c6e3bd"/>
<rect x="163.55" y="482.50" width="0.80" height="1.09" fill="#efb1ab"/>
<rect x="164.50" y="485.53" width="0.80" height="1.47" fill="#c6e3bd"/>
<rect x="164.50" y="484.74" width="0.80" height="0.79" fill="#c0cde8"/>
<rect x="165.45" y="485.64" width="0.80" height="1.36" fill="#c6e3bd"/>
<rect x="165.45" y="484.89" width="0.80" height="0.75" fill="#c7e3be"/>
<rect x="166.40" y="484.56" width="0.80" height="2.44" fill="#c6e3bd"/>
<rect x="166.40" y="483.90" width="0.80" height="0.67" fill="#f4cba6"/>
<rect x="167.35" y="484.54" width="0.80" height="2.46" fill="#c6e3bd"/>
<rect x="167.35" y="483.49" width="0.80" height="1.05" fill="#c7e3be"/>
<rect x="168.30" y="484.94" width="0.80" height="2.06" fill="#c6e3bd"/>
<rect x="168.30" y="483.99" width="0.80" height="0.95" fill="#efb1ab"/>
<rect x="169.25" y="485.47" width="0.80" height="1.53" fill="#c6e3bd"/>
<rect x="169.25" y="484.64" width="0.80" height="0.84" fill="#efb1ab"/>
<rect x="170.20" y="484.66" width="0.80" height="2.34" fill="#c6e3bd"/>
<rect x="170.20" y="484.08" width="0.80" height="0.58" fill="#c7e3be"/>
<rect x="171.15" y="483.20" width="0.80" height="3.80" fill="#c6e3bd"/>
<rect x="171.15" y="482.70" width="0.80" height="0.50" fill="#c0cde8"/>
<rect x="172.10" y="483.51" width="0.80" height="3.49" fill="#c6e3bd"/>
<rect x="172.10" y="481.59" width="0.80" height="1.91" fill="#c0cde8"/>
<rect x="173.05" y="483.90" width="0.80" height="3.10" fill="#c6e3bd"/>
<rect x="173.05" y="482.76" width="0.80" height="1.14" fill="#efb1ab"/>
<rect x="174.00" y="485.70" width="0.80" height="1.30" fill="#c6e3bd"/>
<rect x="174.00" y="485.38" width="0.80" height="0.32" fill="#efb1ab"/>
<rect x="174.95" y="485.32" width="0.80" height="1.68" fill="#c6e3bd"/>
<rect x="174.95" y="483.97" width="0.80" height="1.34" fill="#efb1ab"/>
<rect x="175.90" y="483.59" width="0.80" height="3.41" fill="#c6e3bd"/>
<rect x="175.90" y="481.72" width="0.80" height="1.88" fill="#efb1ab"/>
<rect x="176.85" y="485.76" width="0.80" height="1.24" fill="#c6e3bd"/>
<rect x="176.85" y="484.74" width="0.80" height="1.01" fill="#efb1ab"/>
<rect x="177.80" y="484.29" width="0.80" height="2.71" fill="#c6e3bd"/>
<rect x="177.80" y="483.72" width="0.80" height="0.57" fill="#c0cde8"/>
<rect x="178.75" y="484.10" width="0.80" height="2.90" fill="#c6e3bd"/>
<rect x="178.75" y="483.08" width="0.80" height="1.03" fill="#efb1ab"/>
<rect x="179.70" y="484.65" width="0.80" height="2.35" fill="#c6e3bd"/>
<rect x="179.70" y="483.02" width="0.80" height="1.63" fill="#efb1ab"/>
<rect x="180.65" y="484.93" width="0.80" height="2.07" fill="#c6e3bd"/>
<rect x="180.65" y="484.50" width="0.80" height="0.43" fill="#c0cde8"/>
<rect x="181.60" y="485.88" width="0.80" height="1.12" fill="#c6e3bd"/>
<rect x="181.60" y="485.55" width="0.80" height="0.33" fill="#c7e3be"/>
<rect x="182.55" y="484.38" width="0.80" height="2.62" fill="#c6e3bd"/>
<rect x="182.55" y="483.72" width="0.80" height="0.65" fill="#c7e3be"/>
<rect x="183.50" y="484.78" width="0.80" height="2.22" fill="#c6e3bd"/>
<rect x="183.50" y="483.65" width="0.80" height="1.14" fill="#c7e3be"/>
<rect x="184.45" y="484.48" width="0.80" height="2.52" fill="#c6e3bd"/>
<rect x="184.45" y="483.29" width="0.80" height="1.19" fill="#f4cba6"/>
<rect x="185.40" y="484.13" width="0.80" height="2.87" fill="#c6e3bd"/>
<rect x="185.40" y="483.50" width="0.80" height="0.63" fill="#c7e3be"/>
<rect x="186.35" y="485.16" width="0.80" height="1.84" fill="#c6e3bd"/>
<rect x="186.35" y="484.43" width="0.80" height="0.73" fill="#c7e3be"/>
<rect x="187.30" y="483.28" width="0.80" height="3.72" fill="#c6e3bd"/>
<rect x="187.30" y="482.39" width="0.80" height="0.90" fill="#c0cde8"/>
<rect x="188.25" y="483.59" width="0.80" height="3.41" fill="#c6e3bd"/>
<rect x="188.25" y="482.59" width="0.80" height="1.00" fill="#efb1ab"/>
<rect x="189.20" y="485.20" width="0.80" height="1.80" fill="#c6e3bd"/>
<rect x="189.20" y="484.90" width="0.80" height="0.30" fill="#c7e3be"/>
<rect x="190.15" y="486.21" width="0.80" height="0.79" fill="#c6e3bd"/>
<rect x="190.15" y="485.82" width="0.80" height="0.39" fill="#efb1ab"/>
<rect x="191.10" y="485.94" width="0.80" height="1.06" fill="#c6e3bd"/>
<rect x="191.10" y="485.35" width="0.80" height="0.59" fill="#f4cba6"/>
<rect x="192.05" y="485.73" width="0.80" height="1.27" fill="#c6e3bd"/>
<rect x="192.05" y="484.89" width="0.80" height="0.85" fill="#c7e3be"/>
<rect x="193.00" y="484.62" width="0.80" height="2.38" fill="#c6e3bd"/>
<rect x="193.00" y="483.95" width="0.80" height="0.67" fill="#c0cde8"/>
<rect x="193.95" y="485.13" width="0.80" height="1.87" fill="#c6e3bd"/>
<rect x="193.95" y="484.27" width="0.80" height="0.86" fill="#efb1ab"/>
<rect x="194.90" y="486.05" width="0.80" height="0.95" fill="#c6e3bd"/>
<rect x="194.90" y="485.28" width="0.80" height="0.77" fill="#efb1ab"/>
<rect x="195.85" y="485.29" width="0.80" height="1.71" fill="#c6e3bd"/>
<rect x="195.85" y="484.64" width="0.80" height="0.65" fill="#c7e3be"/>
<rect x="196.80" y="486.19" width="0.80" height="0.81" fill="#c6e3bd"/>
<rect x="196.80" y="485.70" width="0.80" height="0.49" fill="#c7e3be"/>
<rect x="197.75" y="486.03" width="0.80" height="0.97" fill="#c6e3bd"/>
<rect x="197.75" y="485.89" width="0.80" height="0.14" fill="#c7e3be"/>
<rect x="198.70" y="485.68" width="0.80" height="1.32" fill="#c6e3bd"/>
<rect x="198.70" y="484.68" width="0.80" height="1.01" fill="#f4cba6"/>
<rect x="199.65" y="484.83" width="0.80" height="2.17" fill="#c6e3bd"/>
<rect x="199.65" y="483.36" width="0.80" height="1.48" fill="#efb1ab"/>
<rect x="200.60" y="485.32" width="0.80" height="1.68" fill="#c6e3bd"/>
<rect x="200.60" y="485.01" width="0.80" height="0.31" fill="#f4cba6"/>
<rect x="201.55" y="485.38" width="0.80" height="1.62" fill="#c6e3bd"/>
<rect x="201.55" y="484.19" width="0.80" height="1.20" fill="#efb1ab"/>
<rect x="202.50" y="486.32" width="0.80" height="0.68" fill="#c6e3bd"/>
<rect x="202.50" y="486.05" width="0.80" height="0.27" fill="#efb1ab"/>
<rect x="203.45" y="485.31" width="0.80" height="1.69" fill="#c6e3bd"/>
<rect x="203.45" y="484.90" width="0.80" height="0.41" fill="#efb1ab"/>
<rect x="204.40" y="485.77" width="0.80" height="1.23" fill="#c6e3bd"/>
<rect x="204.40" y="484.94" width="0.80" height="0.83" fill="#f4cba6"/>
<rect x="205.35" y="485.48" width="0.80" height="1.52" fill="#c6e3bd"/>
<rect x="205.35" y="484.66" width="0.80" height="0.82" fill="#efb1ab"/>
<rect x="206.30" y="486.27" width="0.80" height="0.73" fill="#c6e3bd"/>
<rect x="206.30" y="485.71" width="0.80" height="0.56" fill="#efb1ab"/>
<rect x="207.25" y="485.30" width="0.80" height="1.70" fill="#c6e3bd"/>
<rect x="207.25" y="484.10" width="0.80" height="1.20" fill="#c7e3be"/>
<rect x="208.20" y="485.33" width="0.80" height="1.67" fill="#c6e3bd"/>
<rect x="208.20" y="483.97" width="0.80" height="1.36" fill="#efb1ab"/>
<rect x="209.15" y="484.58" width="0.80" height="2.42" fill="#c6e3bd"/>
<rect x="209.15" y="483.43" width="0.80" height="1.15" fill="#c7e3be"/>
<rect x="210.10" y="486.00" width="0.80" height="1.00" fill="#c6e3bd"/>
<rect x="210.10" y="485.54" width="0.80" height="0.45" fill="#efb1ab"/>
<rect x="211.05" y="485.95" width="0.80" height="1.05" fill="#c6e3bd"/>
<rect x="211.05" y="485.62" width="0.80" height="0.34" fill="#c0cde8"/>
<rect x="212.00" y="485.50" width="0.80" height="1.50" fill="#c6e3bd"/>
<rect x="212.00" y="485.33" width="0.80" height="0.18" fill="#c0cde8"/>
<rect x="212.95" y="486.08" width="0.80" height="0.92" fill="#c6e3bd"/>
<rect x="212.95" y="485.57" width="0.80" height="0.51" fill="#c7e3be"/>
<rect x="213.90" y="484.63" width="0.80" height="2.37" fill="#c6e3bd"/>
<rect x="213.90" y="484.18" width="0.80" height="0.45" fill="#f4cba6"/>
<rect x="214.85" y="484.76" width="0.80" height="2.24" fill="#c6e3bd"/>
<rect x="214.85" y="483.66" width="0.80" height="1.10" fill="#c7e3be"/>
<rect x="215.80" y="484.17" width="0.80" height="2.83" fill="#c6e3bd"/>
<rect x="215.80" y="483.85" width="0.80" height="0.32" fill="#c7e3be"/>
<rect x="216.75" y="485.40" width="0.80" height="1.60" fill="#c6e3bd"/>
<rect x="216.75" y="485.00" width="0.80" height="0.41" fill="#efb1ab"/>
<rect x="217.70" y="485.16" width="0.80" height="1.84" fill="#c6e3bd"/>
<rect x="217.70" y="484.45" width="0.80" height="0.71" fill="#efb1ab"/>
<rect x="218.65" y="486.04" width="0.80" height="0.96" fill="#c6e3bd"/>
<rect x="218.65" y="485.79" width="0.80" height="0.25" fill="#f4cba6"/>
<rect x="219.60" y="486.20" width="0.80" height="0.80" fill="#c6e3bd"/>
<rect x="219.60" y="485.79" width="0.80" height="0.41" fill="#f4cba6"/>
<rect x="220.55" y="485.37" width="0.80" height="1.63" fill="#c6e3bd"/>
<rect x="220.55" y="484.98" width="0.80" height="0.39" fill="#c7e3be"/>
<rect x="221.50" y="485.22" width="0.80" height="1.78" fill="#c6e3bd"/>
<rect x="221.50" y="484.74" width="0.80" height="0.48" fill="#c0cde8"/>
<rect x="222.45" y="486.35" width="0.80" height="0.65" fill="#c6e3bd"/>
<rect x="222.45" y="486.19" width="0.80" height="0.15" fill="#efb1ab"/>
<rect x="223.40" y="485.79" width="0.80" height="1.21" fill="#c6e3bd"/>
<rect x="223.40" y="485.27" width="0.80" height="0.52" fill="#f4cba6"/>
<rect x="224.35" y="485.58" width="0.80" height="1.42" fill="#c6e3bd"/>
<rect x="224.35" y="484.82" width="0.80" height="0.77" fill="#f4cba6"/>
<rect x="225.30" y="486.30" width="0.80" height="0.70" fill="#c6e3bd"/>
<rect x="225.30" y="486.07" width="0.80" height="0.23" fill="#c7e3be"/>
<rect x="226.25" y="484.94" width="0.80" height="2.06" fill="#c6e3bd"/>
<rect x="226.25" y="484.47" width="0.80" height="0.47" fill="#c0cde8"/>
<rect x="227.20" y="485.33" width="0.80" height="1.67" fill="#c6e3bd"/>
<rect x="227.20" y="484.74" width="0.80" height="0.59" fill="#efb1ab"/>
<rect x="228.15" y="485.20" width="0.80" height="1.80" fill="#c6e3bd"/>
<rect x="228.15" y="484.51" width="0.80" height="0.69" fill="#f4cba6"/>
<rect x="229.10" y="484.44" width="0.80" height="2.56" fill="#c6e3bd"/>
<rect x="229.10" y="483.92" width="0.80" height="0.52" fill="#c0cde8"/>
<rect x="230.05" y="484.26" width="0.80" height="2.74" fill="#c6e3bd"/>
<rect x="230.05" y="483.93" width="0.80" height="0.33" fill="#efb1ab"/>
<rect x="231.00" y="485.20" width="0.80" height="1.80" fill="#c6e3bd"/>
<rect x="231.00" y="484.65" width="0.80" height="0.55" fill="#f4cba6"/>
<rect x="231.95" y="485.28" width="0.80" height="1.72" fill="#c6e3bd"/>
<rect x="231.95" y="484.74" width="0.80" height="0.54" fill="#efb1ab"/>
<rect x="232.90" y="485.85" width="0.80" height="1.15" fill="#c6e3bd"/>
<rect x="232.90" y="485.41" width="0.80" height="0.44" fill="#efb1ab"/>
<rect x="233.85" y="484.86" width="0.80" height="2.14" fill="#c6e3bd"/>
<rect x="233.85" y="484.52" width="0.80" height="0.34" fill="#f4cba6"/>
<rect x="234.80" y="486.26" width="0.80" height="0.74" fill="#c6e3bd"/>
<rect x="234.80" y="486.10" width="0.80" height="0.16" fill="#c0cde8"/>
<rect x="235.75" y="485.71" width="0.80" height="1.29" fill="#c6e3bd"/>
<rect x="235.75" y="485.17" width="0.80" height="0.54" fill="#efb1ab"/>
<rect x="236.70" y="485.96" width="0.80" height="1.04" fill="#c6e3bd"/>
<rect x="236.70" y="485.46" width="0.80" height="0.49" fill="#c7e3be"/>
<rect x="237.65" y="486.17" width="0.80" height="0.83" fill="#c6e3bd"/>
<rect x="237.65" y="485.94" width="0.80" height="0.23" fill="#efb1ab"/>
<rect x="238.60" y="484.83" width="0.80" height="2.17" fill="#c6e3bd"/>
<rect x="238.60" y="484.09" width="0.80" height="0.74" fill="#f4cba6"/>
<rect x="239.55" y="485.83" width="0.80" height="1.17" fill="#c6e3bd"/>
<rect x="239.55" y="485.64" width="0.80" height="0.20" fill="#c0cde8"/>
<rect x="240.50" y="484.81" width="0.80" height="2.19" fill="#c6e3bd"/>
<rect x="240.50" y="484.33" width="0.80" height="0.49" fill="#efb1ab"/>
<rect x="241.45" y="485.21" width="0.80" height="1.79" fill="#c6e3bd"/>
<rect x="241.45" y="484.46" width="0.80" height="0.74" fill="#efb1ab"/>
<rect x="242.40" y="484.78" width="0.80" height="2.22" fill="#c6e3bd"/>
<rect x="242.40" y="484.22" width="0.80" height="0.57" fill="#c7e3be"/>
<rect x="243.35" y="486.29" width="0.80" height="0.71" fill="#c6e3bd"/>
<rect x="243.35" y="485.93" width="0.80" height="0.36" fill="#c7e3be"/>
<rect x="244.30" y="485.29" width="0.80" height="1.71" fill="#c6e3bd"/>
<rect x="244.30" y="485.06" width="0.80" height="0.23" fill="#efb1ab"/>
<rect x="245.25" y="485.75" width="0.80" height="1.25" fill="#c6e3bd"/>
<rect x="245.25" y="484.77" width="0.80" height="0.98" fill="#efb1ab"/>
<rect x="246.20" y="485.58" width="0.80" height="1.42" fill="#c6e3bd"/>
<rect x="246.20" y="485.20" width="0.80" height="0.38" fill="#f4cba6"/>
<rect x="247.15" y="485.51" width="0.80" height="1.49" fill="#c6e3bd"/>
<rect x="247.15" y="484.97" width="0.80" height="0.54" fill="#c0cde8"/>
<rect x="248.10" y="485.36" width="0.80" height="1.64" fill="#c6e3bd"/>
<rect x="248.10" y="485.11" width="0.80" height="0.25" fill="#c0cde8"/>
<rect x="249.05" y="484.47" width="0.80" height="2.53" fill="#c6e3bd"/>
<rect x="249.05" y="483.70" width="0.80" height="0.76" fill="#c0cde8"/>
<rect x="250.00" y="484.80" width="0.80" height="2.20" fill="#c6e3bd"/>
<rect x="250.00" y="484.39" width="0.80" height="0.40" fill="#c0cde8"/>
<rect x="250.95" y="485.54" width="0.80" height="1.46" fill="#c6e3bd"/>
<rect x="250.95" y="484.72" width="0.80" height="0.83" fill="#efb1ab"/>
<rect x="251.90" y="485.57" width="0.80" height="1.43" fill="#c6e3bd"/>
<rect x="251.90" y="484.84" width="0.80" height="0.73" fill="#efb1ab"/>
<rect x="252.85" y="486.15" width="0.80" height="0.85" fill="#c6e3bd"/>
<rect x="252.85" y="485.52" width="0.80" height="0.63" fill="#c7e3be"/>
<rect x="253.80" y="486.23" width="0.80" height="0.77" fill="#c6e3bd"/>
<rect x="253.80" y="485.72" width="0.80" height="0.51" fill="#efb1ab"/>
<rect x="254.75" y="486.18" width="0.80" height="0.82" fill="#c6e3bd"/>
<rect x="254.75" y="485.60" width="0.80" height="0.58" fill="#efb1ab"/>
<rect x="255.70" y="486.23" width="0.80" height="0.77" fill="#c6e3bd"/>
<rect x="255.70" y="485.81" width="0.80" height="0.42" fill="#efb1ab"/>
<rect x="256.65" y="485.71" width="0.80" height="1.29" fill="#c6e3bd"/>
<rect x="256.65" y="485.14" width="0.80" height="0.57" fill="#efb1ab"/>
<rect x="257.60" y="485.05" width="0.80" height="1.95" fill="#c6e3bd"/>
<rect x="257.60" y="484.73" width="0.80" height="0.32" fill="#efb1ab"/>
<rect x="258.55" y="485.29" width="0.80" height="1.71" fill="#c6e3bd"/>
<rect x="258.55" y="484.79" width="0.80" height="0.50" fill="#f4cba6"/>
<rect x="259.50" y="486.01" width="0.80" height="0.99" fill="#c6e3bd"/>
<rect x="259.50" y="485.87" width="0.80" height="0.14" fill="#c0cde8"/>
<rect x="260.45" y="485.11" width="0.80" height="1.89" fill="#c6e3bd"/>
<rect x="260.45" y="484.81" width="0.80" height="0.30" fill="#f4cba6"/>
<rect x="261.40" y="485.84" width="0.80" height="1.16" fill="#c6e3bd"/>
<rect x="261.40" y="485.27" width="0.80" height="0.57" fill="#c0cde8"/>
<rect x="262.35" y="485.82" width="0.80" height="1.18" fill="#c6e3bd"/>
<rect x="262.35" y="484.96" width="0.80" height="0.86" fill="#efb1ab"/>
<rect x="263.30" y="486.03" width="0.80" height="0.97" fill="#c6e3bd"/>
<rect x="263.30" y="485.36" width="0.80" height="0.68" fill="#f4cba6"/>
<rect x="264.25" y="485.68" width="0.80" height="1.32" fill="#c6e3bd"/>
<rect x="264.25" y="485.17" width="0.80" height="0.51" fill="#efb1ab"/>
<rect x="265.20" y="486.22" width="0.80" height="0.78" fill="#c6e3bd"/>
<rect x="265.20" y="486.08" width="0.80" height="0.14" fill="#c0cde8"/>
<rect x="266.15" y="486.40" width="0.80" height="0.60" fill="#c6e3bd"/>
<rect x="266.15" y="486.10" width="0.80" height="0.30" fill="#c7e3be"/>
<rect x="267.10" y="486.29" width="0.80" height="0.71" fill="#c6e3bd"/>
<rect x="267.10" y="485.85" width="0.80" height="0.44" fill="#c0cde8"/>
<rect x="268.05" y="485.76" width="0.80" height="1.24" fill="#c6e3bd"/>
<rect x="268.05" y="485.50" width="0.80" height="0.27" fill="#f4cba6"/>
<rect x="269.00" y="486.47" width="0.80" height="0.53" fill="#c6e3bd"/>
<rect x="269.00" y="486.19" width="0.80" height="0.28" fill="#c0cde8"/>
<rect x="269.95" y="485.92" width="0.80" height="1.08" fill="#c6e3bd"/>
<rect x="269.95" y="485.61" width="0.80" height="0.32" fill="#c0cde8"/>
<rect x="275.20" y="480.02" width="0.80" height="6.98" fill="#c6e3bd"/>
<rect x="275.20" y="478.38" width="0.80" height="1.63" fill="#c7e3be"/>
<rect x="276.15" y="481.97" width="0.80" height="5.03" fill="#c6e3bd"/>
<rect x="276.15" y="480.78" width="0.80" height="1.20" fill="#efb1ab"/>
<rect x="277.10" y="483.45" width="0.80" height="3.55" fill="#c6e3bd"/>
<rect x="277.10" y="480.84" width="0.80" height="2.60" fill="#f4cba6"/>
<rect x="278.05" y="480.17" width="0.80" height="6.83" fill="#c6e3bd"/>
<rect x="278.05" y="478.00" width="0.80" height="2.17" fill="#c0cde8"/>
<rect x="279.00" y="479.86" width="0.80" height="7.14" fill="#c6e3bd"/>
<rect x="279.00" y="479.01" width="0.80" height="0.85" fill="#efb1ab"/>
<rect x="279.95" y="480.49" width="0.80" height="6.51" fill="#c6e3bd"/>
<rect x="279.95" y="478.18" width="0.80" height="2.31" fill="#f4cba6"/>
<rect x="280.90" y="484.39" width="0.80" height="2.61" fill="#c6e3bd"/>
<rect x="280.90" y="484.01" width="0.80" height="0.37" fill="#efb1ab"/>
<rect x="281.85" y="480.98" width="0.80" height="6.02" fill="#c6e3bd"/>
<rect x="281.85" y="478.71" width="0.80" height="2.27" fill="#f4cba6"/>
<rect x="282.80" y="482.49" width="0.80" height="4.51" fill="#c6e3bd"/>
<rect x="282.80" y="479.85" width="0.80" height="2.64" fill="#efb1ab"/>
<rect x="283.75" y="482.33" width="0.80" height="4.67" fill="#c6e3bd"/>
<rect x="283.75" y="481.50" width="0.80" height="0.83" fill="#f4cba6"/>
<rect x="284.70" y="482.91" width="0.80" height="4.09" fill="#c6e3bd"/>
<rect x="284.70" y="480.46" width="0.80" height="2.45" fill="#f4cba6"/>
<rect x="285.65" y="485.40" width="0.80" height="1.60" fill="#c6e3bd"/>
<rect x="285.65" y="484.36" width="0.80" height="1.04" fill="#c0cde8"/>
<rect x="286.60" y="482.95" width="0.80" height="4.05" fill="#c6e3bd"/>
<rect x="286.60" y="480.23" width="0.80" height="2.73" fill="#efb1ab"/>
<rect x="287.55" y="480.99" width="0.80" height="6.01" fill="#c6e3bd"/>
<rect x="287.55" y="478.01" width="0.80" height="2.97" fill="#f4cba6"/>
<rect x="288.50" y="485.55" width="0.80" height="1.45" fill="#c6e3bd"/>
<rect x="288.50" y="484.73" width="0.80" height="0.82" fill="#efb1ab"/>
<rect x="289.45" y="476.84" width="0.80" height="10.16" fill="#c6e3bd"/>
<rect x="289.45" y="475.00" width="0.80" height="1.84" fill="#efb1ab"/>
<rect x="290.40" y="481.74" width="0.80" height="5.26" fill="#c6e3bd"/>
<rect x="290.40" y="478.09" width="0.80" height="3.65" fill="#f4cba6"/>
<rect x="291.35" y="482.39" width="0.80" height="4.61" fill="#c6e3bd"/>
<rect x="291.35" y="478.99" width="0.80" height="3.40" fill="#efb1ab"/>
<rect x="292.30" y="484.60" width="0.80" height="2.40" fill="#c6e3bd"/>
<rect x="292.30" y="483.95" width="0.80" height="0.65" fill="#efb1ab"/>
<rect x="293.25" y="483.42" width="0.80" height="3.58" fill="#c6e3bd"/>
<rect x="293.25" y="480.95" width="0.80" height="2.48" fill="#c7e3be"/>
<rect x="294.20" y="481.44" width="0.80" height="5.56" fill="#c6e3bd"/>
<rect x="294.20" y="479.37" width="0.80" height="2.07" fill="#efb1ab"/>
<rect x="295.15" y="484.46" width="0.80" height="2.54" fill="#c6e3bd"/>
<rect x="295.15" y="482.48" width="0.80" height="1.98" fill="#efb1ab"/>
<rect x="296.10" y="483.75" width="0.80" height="3.25" fill="#c6e3bd"/>
<rect x="296.10" y="481.66" width="0.80" height="2.09" fill="#efb1ab"/>
<rect x="297.05" y="483.62" width="0.80" height="3.38" fill="#c6e3bd"/>
<rect x="297.05" y="482.74" width="0.80" height="0.89" fill="#c0cde8"/>
<rect x="298.00" y="483.58" width="0.80" height="3.42" fill="#c6e3bd"/>
<rect x="298.00" y="481.73" width="0.80" height="1.85" fill="#efb1ab"/>
<rect x="298.95" y="484.03" width="0.80" height="2.97" fill="#c6e3bd"/>
<rect x="298.95" y="482.39" width="0.80" height="1.64" fill="#efb1ab"/>
<rect x="299.90" y="482.37" width="0.80" height="4.63" fill="#c6e3bd"/>
<rect x="299.90" y="481.14" width="0.80" height="1.23" fill="#efb1ab"/>
<rect x="300.85" y="482.29" width="0.80" height="4.71" fill="#c6e3bd"/>
<rect x="300.85" y="481.40" width="0.80" height="0.88" fill="#c0cde8"/>
<rect x="301.80" y="485.28" width="0.80" height="1.72" fill="#c6e3bd"/>
<rect x="301.80" y="484.35" width="0.80" height="0.93" fill="#efb1ab"/>
<rect x="302.75" y="481.06" width="0.80" height="5.94" fill="#c6e3bd"/>
<rect x="302.75" y="479.50" width="0.80" height="1.56" fill="#c0cde8"/>
<rect x="303.70" y="478.76" width="0.80" height="8.24" fill="#c6e3bd"/>
<rect x="303.70" y="476.58" width="0.80" height="2.18" fill="#efb1ab"/>
<rect x="304.65" y="485.27" width="0.80" height="1.73" fill="#c6e3bd"/>
<rect x="304.65" y="483.98" width="0.80" height="1.29" fill="#f4cba6"/>
<rect x="305.60" y="482.38" width="0.80" height="4.62" fill="#c6e3bd"/>
<rect x="305.60" y="480.24" width="0.80" height="2.14" fill="#efb1ab"/>
<rect x="306.55" y="481.69" width="0.80" height="5.31" fill="#c6e3bd"/>
<rect x="306.55" y="479.41" width="0.80" height="2.28" fill="#efb1ab"/>
<rect x="307.50" y="481.75" width="0.80" height="5.25" fill="#c6e3bd"/>
<rect x="307.50" y="479.96" width="0.80" height="1.80" fill="#c7e3be"/>
<rect x="308.45" y="483.18" width="0.80" height="3.82" fill="#c6e3bd"/>
<rect x="308.45" y="480.15" width="0.80" height="3.03" fill="#c7e3be"/>
<rect x="309.40" y="482.32" width="0.80" height="4.68" fill="#c6e3bd"/>
<rect x="309.40" y="481.37" width="0.80" height="0.95" fill="#efb1ab"/>
<rect x="310.35" y="483.89" width="0.80" height="3.11" fill="#c6e3bd"/>
<rect x="310.35" y="481.77" width="0.80" height="2.12" fill="#efb1ab"/>
<rect x="311.30" y="484.98" width="0.80" height="2.02" fill="#c6e3bd"/>
<rect x="311.30" y="483.53" width="0.80" height="1.45" fill="#f4cba6"/>
<rect x="312.25" y="484.65" width="0.80" height="2.35" fill="#c6e3bd"/>
<rect x="312.25" y="483.76" width="0.80" height="0.89" fill="#efb1ab"/>
<rect x="313.20" y="484.32" width="0.80" height="2.68" fill="#c6e3bd"/>
<rect x="313.20" y="483.66" width="0.80" height="0.66" fill="#f4cba6"/>
<rect x="314.15" y="482.95" width="0.80" height="4.05" fill="#c6e3bd"/>
<rect x="314.15" y="480.48" width="0.80" height="2.47" fill="#f4cba6"/>
<rect x="315.10" y="481.88" width="0.80" height="5.12" fill="#c6e3bd"/>
<rect x="315.10" y="478.84" width="0.80" height="3.04" fill="#c0cde8"/>
<rect x="316.05" y="485.48" width="0.80" height="1.52" fill="#c6e3bd"/>
<rect x="316.05" y="484.74" width="0.80" height="0.74" fill="#c0cde8"/>
<rect x="317.00" y="485.57" width="0.80" height="1.43" fill="#c6e3bd"/>
<rect x="317.00" y="485.30" width="0.80" height="0.27" fill="#efb1ab"/>
<rect x="317.95" y="483.53" width="0.80" height="3.47" fill="#c6e3bd"/>
<rect x="317.95" y="483.12" width="0.80" height="0.41" fill="#f4cba6"/>
<rect x="318.90" y="482.06" width="0.80" height="4.94" fill="#c6e3bd"/>
<rect x="318.90" y="480.96" width="0.80" height="1.11" fill="#efb1ab"/>
<rect x="319.85" y="482.82" width="0.80" height="4.18" fill="#c6e3bd"/>
<rect x="319.85" y="481.86" width="0.80" height="0.96" fill="#c0cde8"/>
<rect x="320.80" y="482.70" width="0.80" height="4.30" fill="#c6e3bd"/>
<rect x="320.80" y="482.05" width="0.80" height="0.65" fill="#c7e3be"/>
<rect x="321.75" y="483.59" width="0.80" height="3.41" fill="#c6e3bd"/>
<rect x="321.75" y="483.12" width="0.80" height="0.47" fill="#efb1ab"/>
<rect x="322.70" y="484.60" width="0.80" height="2.40" fill="#c6e3bd"/>
<rect x="322.70" y="482.97" width="0.80" height="1.63" fill="#efb1ab"/>
<rect x="323.65" y="485.59" width="0.80" height="1.41" fill="#c6e3bd"/>
<rect x="323.65" y="484.64" width="0.80" height="0.94" fill="#c0cde8"/>
<rect x="324.60" y="484.65" width="0.80" height="2.35" fill="#c6e3bd"/>
<rect x="324.60" y="482.83" width="0.80" height="1.82" fill="#c0cde8"/>
<rect x="325.55" y="482.34" width="0.80" height="4.66" fill="#c6e3bd"/>
<rect x="325.55" y="480.96" width="0.80" height="1.38" fill="#efb1ab"/>
<rect x="326.50" y="485.16" width="0.80" height="1.84" fill="#c6e3bd"/>
<rect x="326.50" y="484.52" width="0.80" height="0.64" fill="#f4cba6"/>
<rect x="327.45" y="483.45" width="0.80" height="3.55" fill="#c6e3bd"/>
<rect x="327.45" y="481.85" width="0.80" height="1.60" fill="#f4cba6"/>
<rect x="328.40" y="483.75" width="0.80" height="3.25" fill="#c6e3bd"/>
<rect x="328.40" y="482.26" width="0.80" height="1.49" fill="#efb1ab"/>
<rect x="329.35" y="483.28" width="0.80" height="3.72" fill="#c6e3bd"/>
<rect x="329.35" y="482.71" width="0.80" height="0.58" fill="#efb1ab"/>
<rect x="330.30" y="482.16" width="0.80" height="4.84" fill="#c6e3bd"/>
<rect x="330.30" y="481.12" width="0.80" height="1.04" fill="#c7e3be"/>
<rect x="331.25" y="484.64" width="0.80" height="2.36" fill="#c6e3bd"/>
<rect x="331.25" y="483.62" width="0.80" height="1.02" fill="#c0cde8"/>
<rect x="332.20" y="483.68" width="0.80" height="3.32" fill="#c6e3bd"/>
<rect x="332.20" y="481.98" width="0.80" height="1.70" fill="#efb1ab"/>
<rect x="333.15" y="484.59" width="0.80" height="2.41" fill="#c6e3bd"/>
<rect x="333.15" y="484.32" width="0.80" height="0.27" fill="#f4cba6"/>
<rect x="334.10" y="483.58" width="0.80" height="3.42" fill="#c6e3bd"/>
<rect x="334.10" y="483.20" width="0.80" height="0.38" fill="#f4cba6"/>
<rect x="335.05" y="482.94" width="0.80" height="4.06" fill="#c6e3bd"/>
<rect x="335.05" y="481.89" width="0.80" height="1.04" fill="#c0cde8"/>
<rect x="336.00" y="485.83" width="0.80" height="1.17" fill="#c6e3bd"/>
<rect x="336.00" y="484.95" width="0.80" height="0.88" fill="#efb1ab"/>
<rect x="336.95" y="483.98" width="0.80" height="3.02" fill="#c6e3bd"/>
<rect x="336.95" y="482.10" width="0.80" height="1.88" fill="#f4cba6"/>
<rect x="337.90" y="484.24" width="0.80" height="2.76" fill="#c6e3bd"/>
<rect x="337.90" y="482.86" width="0.80" height="1.38" fill="#c7e3be"/>
<rect x="338.85" y="484.79" width="0.80" height="2.21" fill="#c6e3bd"/>
<rect x="338.85" y="483.68" width="0.80" height="1.11" fill="#efb1ab"/>
<rect x="339.80" y="485.05" width="0.80" height="1.95" fill="#c6e3bd"/>
<rect x="339.80" y="484.76" width="0.80" height="0.29" fill="#efb1ab"/>
<rect x="340.75" y="485.20" width="0.80" height="1.80" fill="#c6e3bd"/>
<rect x="340.75" y="484.93" width="0.80" height="0.27" fill="#efb1ab"/>
<rect x="341.70" y="485.20" width="0.80" height="1.80" fill="#c6e3bd"/>
<rect x="341.70" y="483.96" width="0.80" height="1.24" fill="#efb1ab"/>
<rect x="342.65" y="483.33" width="0.80" height="3.67" fill="#c6e3bd"/>
<rect x="342.65" y="481.74" width="0.80" height="1.59" fill="#f4cba6"/>
<rect x="343.60" y="484.26" width="0.80" height="2.74" fill="#c6e3bd"/>
<rect x="343.60" y="482.46" width="0.80" height="1.80" fill="#f4cba6"/>
<rect x="344.55" y="485.82" width="0.80" height="1.18" fill="#c6e3bd"/>
<rect x="344.55" y="484.91" width="0.80" height="0.90" fill="#efb1ab"/>
<rect x="345.50" y="482.76" width="0.80" height="4.24" fill="#c6e3bd"/>
<rect x="345.50" y="482.11" width="0.80" height="0.65" fill="#c7e3be"/>
<rect x="346.45" y="484.51" width="0.80" height="2.49" fill="#c6e3bd"/>
<rect x="346.45" y="482.71" width="0.80" height="1.80" fill="#c7e3be"/>
<rect x="347.40" y="485.41" width="0.80" height="1.59" fill="#c6e3bd"/>
<rect x="347.40" y="484.52" width="0.80" height="0.89" fill="#c0cde8"/>
<rect x="348.35" y="485.66" width="0.80" height="1.34" fill="#c6e3bd"/>
<rect x="348.35" y="485.08" width="0.80" height="0.58" fill="#efb1ab"/>
<rect x="349.30" y="483.90" width="0.80" height="3.10" fill="#c6e3bd"/>
<rect x="349.30" y="481.41" width="0.80" height="2.49" fill="#f4cba6"/>
<rect x="350.25" y="483.21" width="0.80" height="3.79" fill="#c6e3bd"/>
<rect x="350.25" y="482.11" width="0.80" height="1.10" fill="#f4cba6"/>
<rect x="351.20" y="483.98" width="0.80" height="3.02" fill="#c6e3bd"/>
<rect x="351.20" y="482.78" width="0.80" height="1.20" fill="#efb1ab"/>
<rect x="352.15" y="483.91" width="0.80" height="3.09" fill="#c6e3bd"/>
<rect x="352.15" y="482.42" width="0.80" height="1.49" fill="#efb1ab"/>
<rect x="353.10" y="484.01" width="0.80" height="2.99" fill="#c6e3bd"/>
<rect x="353.10" y="483.19" width="0.80" height="0.82" fill="#efb1ab"/>
<rect x="354.05" y="483.33" width="0.80" height="3.67" fill="#c6e3bd"/>
<rect x="354.05" y="481.68" width="0.80" height="1.65" fill="#c0cde8"/>
<rect x="355.00" y="484.04" width="0.80" height="2.96" fill="#c6e3bd"/>
<rect x="355.00" y="482.54" width="0.80" height="1.49" fill="#f4cba6"/>
<rect x="355.95" y="484.76" width="0.80" height="2.24" fill="#c6e3bd"/>
<rect x="355.95" y="483.49" width="0.80" height="1.27" fill="#f4cba6"/>
<rect x="356.90" y="484.21" width="0.80" height="2.79" fill="#c6e3bd"/>
<rect x="356.90" y="482.97" width="0.80" height="1.24" fill="#c0cde8"/>
<rect x="357.85" y="484.32" width="0.80" height="2.68" fill="#c6e3bd"/>
<rect x="357.85" y="483.21" width="0.80" height="1.12" fill="#efb1ab"/>
<rect x="358.80" y="484.58" width="0.80" height="2.42" fill="#c6e3bd"/>
<rect x="358.80" y="482.84" width="0.80" height="1.75" fill="#efb1ab"/>
<rect x="359.75" y="485.42" width="0.80" height="1.58" fill="#c6e3bd"/>
<rect x="359.75" y="484.37" width="0.80" height="1.05" fill="#efb1ab"/>
<rect x="360.70" y="485.40" width="0.80" height="1.60" fill="#c6e3bd"/>
<rect x="360.70" y="484.12" width="0.80" height="1.29" fill="#c0cde8"/>
<rect x="361.65" y="485.72" width="0.80" height="1.28" fill="#c6e3bd"/>
<rect x="361.65" y="484.88" width="0.80" height="0.84" fill="#f4cba6"/>
<rect x="362.60" y="485.06" width="0.80" height="1.94" fill="#c6e3bd"/>
<rect x="362.60" y="484.61" width="0.80" height="0.45" fill="#c7e3be"/>
<rect x="363.55" y="484.67" width="0.80" height="2.33" fill="#c6e3bd"/>
<rect x="363.55" y="483.92" width="0.80" height="0.75" fill="#efb1ab"/>
<rect x="364.50" y="485.29" width="0.80" height="1.71" fill="#c6e3bd"/>
<rect x="364.50" y="484.65" width="0.80" height="0.64" fill="#efb1ab"/>
<rect x="365.45" y="483.67" width="0.80" height="3.33" fill="#c6e3bd"/>
<rect x="365.45" y="482.82" width="0.80" height="0.85" fill="#efb1ab"/>
<rect x="366.40" y="485.92" width="0.80" height="1.08" fill="#c6e3bd"/>
<rect x="366.40" y="485.56" width="0.80" height="0.36" fill="#efb1ab"/>
<rect x="367.35" y="484.48" width="0.80" height="2.52" fill="#c6e3bd"/>
<rect x="367.35" y="482.53" width="0.80" height="1.96" fill="#efb1ab"/>
<rect x="368.30" y="485.91" width="0.80" height="1.09" fill="#c6e3bd"/>
<rect x="368.30" y="485.09" width="0.80" height="0.81" fill="#efb1ab"/>
<rect x="369.25" y="485.84" width="0.80" height="1.16" fill="#c6e3bd"/>
<rect x="369.25" y="485.44" width="0.80" height="0.41" fill="#c0cde8"/>
<rect x="370.20" y="483.55" width="0.80" height="3.45" fill="#c6e3bd"/>
<rect x="370.20" y="482.75" width="0.80" height="0.80" fill="#efb1ab"/>
<rect x="371.15" y="484.87" width="0.80" height="2.13" fill="#c6e3bd"/>
<rect x="371.15" y="484.63" width="0.80" height="0.24" fill="#c7e3be"/>
<rect x="372.10" y="484.92" width="0.80" height="2.08" fill="#c6e3bd"/>
<rect x="372.10" y="484.37" width="0.80" height="0.55" fill="#f4cba6"/>
<rect x="373.05" y="485.58" width="0.80" height="1.42" fill="#c6e3bd"/>
<rect x="373.05" y="484.94" width="0.80" height="0.64" fill="#c0cde8"/>
<rect x="374.00" y="484.46" width="0.80" height="2.54" fill="#c6e3bd"/>
<rect x="374.00" y="483.97" width="0.80" height="0.49" fill="#c7e3be"/>
<rect x="374.95" y="484.91" width="0.80" height="2.09" fill="#c6e3bd"/>
<rect x="374.95" y="484.10" width="0.80" height="0.80" fill="#c0cde8"/>
<rect x="375.90" y="485.30" width="0.80" height="1.70" fill="#c6e3bd"/>
<rect x="375.90" y="484.87" width="0.80" height="0.43" fill="#c0cde8"/>
<rect x="376.85" y="484.80" width="0.80" height="2.20" fill="#c6e3bd"/>
<rect x="376.85" y="484.36" width="0.80" height="0.44" fill="#c7e3be"/>
<rect x="377.80" y="484.50" width="0.80" height="2.50" fill="#c6e3bd"/>
<rect x="377.80" y="483.46" width="0.80" height="1.04" fill="#efb1ab"/>
<rect x="378.75" y="481.42" width="0.80" height="5.58" fill="#c6e3bd"/>
<rect x="378.75" y="478.93" width="0.80" height="2.49" fill="#c7e3be"/>
<rect x="379.70" y="483.87" width="0.80" height="3.13" fill="#c6e3bd"/>
<rect x="379.70" y="482.75" width="0.80" height="1.12" fill="#f4cba6"/>
<rect x="380.65" y="485.83" width="0.80" height="1.17" fill="#c6e3bd"/>
<rect x="380.65" y="485.42" width="0.80" height="0.42" fill="#efb1ab"/>
<rect x="381.60" y="485.29" width="0.80" height="1.71" fill="#c6e3bd"/>
<rect x="381.60" y="484.09" width="0.80" height="1.20" fill="#c7e3be"/>
<rect x="382.55" y="481.38" width="0.80" height="5.62" fill="#c6e3bd"/>
<rect x="382.55" y="480.36" width="0.80" height="1.02" fill="#c0cde8"/>
<rect x="383.50" y="484.08" width="0.80" height="2.92" fill="#c6e3bd"/>
<rect x="383.50" y="483.21" width="0.80" height="0.87" fill="#efb1ab"/>
<rect x="384.45" y="484.80" width="0.80" height="2.20" fill="#c6e3bd"/>
<rect x="384.45" y="484.50" width="0.80" height="0.30" fill="#efb1ab"/>
<rect x="385.40" y="483.82" width="0.80" height="3.18" fill="#c6e3bd"/>
<rect x="385.40" y="482.59" width="0.80" height="1.23" fill="#c7e3be"/>
<rect x="386.35" y="484.69" width="0.80" height="2.31" fill="#c6e3bd"/>
<rect x="386.35" y="484.00" width="0.80" height="0.70" fill="#c7e3be"/>
<rect x="387.30" y="482.92" width="0.80" height="4.08" fill="#c6e3bd"/>
<rect x="387.30" y="481.01" width="0.80" height="1.91" fill="#efb1ab"/>
<rect x="388.25" y="483.35" width="0.80" height="3.65" fill="#c6e3bd"/>
<rect x="388.25" y="481.59" width="0.80" height="1.76" fill="#c7e3be"/>
<rect x="389.20" y="483.16" width="0.80" height="3.84" fill="#c6e3bd"/>
<rect x="389.20" y="482.04" width="0.80" height="1.12" fill="#efb1ab"/>
<rect x="390.15" y="481.13" width="0.80" height="5.87" fill="#c6e3bd"/>
<rect x="390.15" y="479.67" width="0.80" height="1.46" fill="#efb1ab"/>
<rect x="391.10" y="484.07" width="0.80" height="2.93" fill="#c6e3bd"/>
<rect x="391.10" y="482.44" width="0.80" height="1.63" fill="#f4cba6"/>
<rect x="392.05" y="484.24" width="0.80" height="2.76" fill="#c6e3bd"/>
<rect x="392.05" y="483.01" width="0.80" height="1.22" fill="#c7e3be"/>
<rect x="393.00" y="483.95" width="0.80" height="3.05" fill="#c6e3bd"/>
<rect x="393.00" y="483.15" width="0.80" height="0.80" fill="#c0cde8"/>
<rect x="393.95" y="484.51" width="0.80" height="2.49" fill="#c6e3bd"/>
<rect x="393.95" y="483.33" width="0.80" height="1.18" fill="#c7e3be"/>
<rect x="394.90" y="483.23" width="0.80" height="3.77" fill="#c6e3bd"/>
<rect x="394.90" y="481.61" width="0.80" height="1.62" fill="#c0cde8"/>
<rect x="395.85" y="484.91" width="0.80" height="2.09" fill="#c6e3bd"/>
<rect x="395.85" y="483.92" width="0.80" height="0.99" fill="#efb1ab"/>
<rect x="396.80" y="483.68" width="0.80" height="3.32" fill="#c6e3bd"/>
<rect x="396.80" y="482.53" width="0.80" height="1.15" fill="#efb1ab"/>
<rect x="397.75" y="482.75" width="0.80" height="4.25" fill="#c6e3bd"/>
<rect x="397.75" y="481.45" width="0.80" height="1.30" fill="#efb1ab"/>
<rect x="398.70" y="485.52" width="0.80" height="1.48" fill="#c6e3bd"/>
<rect x="398.70" y="485.09" width="0.80" height="0.43" fill="#efb1ab"/>
<rect x="399.65" y="484.96" width="0.80" height="2.04" fill="#c6e3bd"/>
<rect x="399.65" y="484.22" width="0.80" height="0.74" fill="#c7e3be"/>
<rect x="400.60" y="484.39" width="0.80" height="2.61" fill="#c6e3bd"/>
<rect x="400.60" y="483.99" width="0.80" height="0.40" fill="#efb1ab"/>
<rect x="401.55" y="483.55" width="0.80" height="3.45" fill="#c6e3bd"/>
<rect x="401.55" y="481.97" width="0.80" height="1.59" fill="#efb1ab"/>
<rect x="402.50" y="483.29" width="0.80" height="3.71" fill="#c6e3bd"/>
<rect x="402.50" y="481.72" width="0.80" height="1.57" fill="#f4cba6"/>
<rect x="403.45" y="485.36" width="0.80" height="1.64" fill="#c6e3bd"/>
<rect x="403.45" y="484.36" width="0.80" height="1.00" fill="#c7e3be"/>
<rect x="404.40" y="483.78" width="0.80" height="3.22" fill="#c6e3bd"/>
<rect x="404.40" y="483.12" width="0.80" height="0.65" fill="#efb1ab"/>
<rect x="405.35" y="484.66" width="0.80" height="2.34" fill="#c6e3bd"/>
<rect x="405.35" y="483.66" width="0.80" height="1.00" fill="#f4cba6"/>
<rect x="406.30" y="484.57" width="0.80" height="2.43" fill="#c6e3bd"/>
<rect x="406.30" y="484.19" width="0.80" height="0.38" fill="#c0cde8"/>
<rect x="407.25" y="486.06" width="0.80" height="0.94" fill="#c6e3bd"/>
<rect x="407.25" y="485.67" width="0.80" height="0.39" fill="#c0cde8"/>
<rect x="408.20" y="485.19" width="0.80" height="1.81" fill="#c6e3bd"/>
<rect x="408.20" y="483.76" width="0.80" height="1.42" fill="#efb1ab"/>
<rect x="409.15" y="483.56" width="0.80" height="3.44" fill="#c6e3bd"/>
<rect x="409.15" y="482.78" width="0.80" height="0.78" fill="#c0cde8"/>
<rect x="410.10" y="485.06" width="0.80" height="1.94" fill="#c6e3bd"/>
<rect x="410.10" y="484.41" width="0.80" height="0.65" fill="#efb1ab"/>
<rect x="411.05" y="484.30" width="0.80" height="2.70" fill="#c6e3bd"/>
<rect x="411.05" y="482.74" width="0.80" height="1.56" fill="#c0cde8"/>
<rect x="412.00" y="486.04" width="0.80" height="0.96" fill="#c6e3bd"/>
<rect x="412.00" y="485.36" width="0.80" height="0.68" fill="#c7e3be"/>
<rect x="412.95" y="485.29" width="0.80" height="1.71" fill="#c6e3bd"/>
<rect x="412.95" y="484.82" width="0.80" height="0.46" fill="#c7e3be"/>
<rect x="413.90" y="485.06" width="0.80" height="1.94" fill="#c6e3bd"/>
<rect x="413.90" y="484.68" width="0.80" height="0.38" fill="#efb1ab"/>
<rect x="414.85" y="484.28" width="0.80" height="2.72" fill="#c6e3bd"/>
<rect x="414.85" y="483.18" width="0.80" height="1.10" fill="#f4cba6"/>
<rect x="415.80" y="485.14" width="0.80" height="1.86" fill="#c6e3bd"/>
<rect x="415.80" y="483.79" width="0.80" height="1.35" fill="#efb1ab"/>
<rect x="416.75" y="485.17" width="0.80" height="1.83" fill="#c6e3bd"/>
<rect x="416.75" y="484.44" width="0.80" height="0.73" fill="#efb1ab"/>
<rect x="417.70" y="483.70" width="0.80" height="3.30" fill="#c6e3bd"/>
<rect x="417.70" y="482.37" width="0.80" height="1.33" fill="#efb1ab"/>
<rect x="418.65" y="485.99" width="0.80" height="1.01" fill="#c6e3bd"/>
<rect x="418.65" y="485.77" width="0.80" height="0.22" fill="#efb1ab"/>
<rect x="419.60" y="483.41" width="0.80" height="3.59" fill="#c6e3bd"/>
<rect x="419.60" y="482.71" width="0.80" height="0.70" fill="#c0cde8"/>
<rect x="420.55" y="483.57" width="0.80" height="3.43" fill="#c6e3bd"/>
<rect x="420.55" y="482.70" width="0.80" height="0.88" fill="#efb1ab"/>
<rect x="421.50" y="481.87" width="0.80" height="5.13" fill="#c6e3bd"/>
<rect x="421.50" y="479.12" width="0.80" height="2.75" fill="#efb1ab"/>
<rect x="422.45" y="483.43" width="0.80" height="3.57" fill="#c6e3bd"/>
<rect x="422.45" y="481.65" width="0.80" height="1.79" fill="#efb1ab"/>
<rect x="423.40" y="484.43" width="0.80" height="2.57" fill="#c6e3bd"/>
<rect x="423.40" y="482.78" width="0.80" height="1.65" fill="#efb1ab"/>
<rect x="424.35" y="483.82" width="0.80" height="3.18" fill="#c6e3bd"/>
<rect x="424.35" y="483.39" width="0.80" height="0.43" fill="#c0cde8"/>
<rect x="425.30" y="485.72" width="0.80" height="1.28" fill="#c6e3bd"/>
<rect x="425.30" y="485.47" width="0.80" height="0.25" fill="#c7e3be"/>
<rect x="426.25" y="485.64" width="0.80" height="1.36" fill="#c6e3bd"/>
<rect x="426.25" y="484.73" width="0.80" height="0.91" fill="#efb1ab"/>
<rect x="427.20" y="484.66" width="0.80" height="2.34" fill="#c6e3bd"/>
<rect x="427.20" y="483.20" width="0.80" height="1.46" fill="#efb1ab"/>
<rect x="428.15" y="485.57" width="0.80" height="1.43" fill="#c6e3bd"/>
<rect x="428.15" y="485.23" width="0.80" height="0.34" fill="#efb1ab"/>
<rect x="429.10" y="484.92" width="0.80" height="2.08" fill="#c6e3bd"/>
<rect x="429.10" y="484.24" width="0.80" height="0.68" fill="#efb1ab"/>
<rect x="430.05" y="485.92" width="0.80" height="1.08" fill="#c6e3bd"/>
<rect x="430.05" y="485.46" width="0.80" height="0.46" fill="#efb1ab"/>
<rect x="431.00" y="483.83" width="0.80" height="3.17" fill="#c6e3bd"/>
<rect x="431.00" y="483.23" width="0.80" height="0.61" fill="#f4cba6"/>
<rect x="431.95" y="485.69" width="0.80" height="1.31" fill="#c6e3bd"/>
<rect x="431.95" y="485.15" width="0.80" height="0.54" fill="#f4cba6"/>
<rect x="432.90" y="485.76" width="0.80" height="1.24" fill="#c6e3bd"/>
<rect x="432.90" y="485.61" width="0.80" height="0.15" fill="#efb1ab"/>
<rect x="433.85" y="485.80" width="0.80" height="1.20" fill="#c6e3bd"/>
<rect x="433.85" y="485.52" width="0.80" height="0.27" fill="#c7e3be"/>
<rect x="434.80" y="484.49" width="0.80" height="2.51" fill="#c6e3bd"/>
<rect x="434.80" y="482.84" width="0.80" height="1.64" fill="#c0cde8"/>
<rect x="435.75" y="485.63" width="0.80" height="1.37" fill="#c6e3bd"/>
<rect x="435.75" y="485.45" width="0.80" height="0.19" fill="#c7e3be"/>
<rect x="436.70" y="485.89" width="0.80" height="1.11" fill="#c6e3bd"/>
<rect x="436.70" y="485.23" width="0.80" height="0.67" fill="#c7e3be"/>
<rect x="437.65" y="485.50" width="0.80" height="1.50" fill="#c6e3bd"/>
<rect x="437.65" y="484.72" width="0.80" height="0.78" fill="#c7e3be"/>
<rect x="438.60" y="484.75" width="0.80" height="2.25" fill="#c6e3bd"/>
<rect x="438.60" y="484.48" width="0.80" height="0.28" fill="#c7e3be"/>
<rect x="439.55" y="483.99" width="0.80" height="3.01" fill="#c6e3bd"/>
<rect x="439.55" y="483.55" width="0.80" height="0.44" fill="#efb1ab"/>
<rect x="440.50" y="485.34" width="0.80" height="1.66" fill="#c6e3bd"/>
<rect x="440.50" y="484.74" width="0.80" height="0.60" fill="#f4cba6"/>
<rect x="441.45" y="484.88" width="0.80" height="2.12" fill="#c6e3bd"/>
<rect x="441.45" y="483.67" width="0.80" height="1.21" fill="#c7e3be"/>
<rect x="442.40" y="484.81" width="0.80" height="2.19" fill="#c6e3bd"/>
<rect x="442.40" y="484.49" width="0.80" height="0.32" fill="#c0cde8"/>
<rect x="443.35" y="485.10" width="0.80" height="1.90" fill="#c6e3bd"/>
<rect x="443.35" y="483.91" width="0.80" height="1.19" fill="#f4cba6"/>
<rect x="444.30" y="484.99" width="0.80" height="2.01" fill="#c6e3bd"/>
<rect x="444.30" y="484.75" width="0.80" height="0.24" fill="#f4cba6"/>
<rect x="445.25" y="485.23" width="0.80" height="1.77" fill="#c6e3bd"/>
<rect x="445.25" y="484.88" width="0.80" height="0.35" fill="#c0cde8"/>
<rect x="446.20" y="485.61" width="0.80" height="1.39" fill="#c6e3bd"/>
<rect x="446.20" y="484.67" width="0.80" height="0.94" fill="#c0cde8"/>
<rect x="447.15" y="484.37" width="0.80" height="2.63" fill="#c6e3bd"/>
<rect x="447.15" y="483.42" width="0.80" height="0.96" fill="#efb1ab"/>
<rect x="448.10" y="484.97" width="0.80" height="2.03" fill="#c6e3bd"/>
<rect x="448.10" y="484.37" width="0.80" height="0.61" fill="#c0cde8"/>
<rect x="449.05" y="485.80" width="0.80" height="1.20" fill="#c6e3bd"/>
<rect x="449.05" y="485.24" width="0.80" height="0.56" fill="#f4cba6"/>
<rect x="450.00" y="485.53" width="0.80" height="1.47" fill="#c6e3bd"/>
<rect x="450.00" y="484.62" width="0.80" height="0.91" fill="#c7e3be"/>
<rect x="450.95" y="486.01" width="0.80" height="0.99" fill="#c6e3bd"/>
<rect x="450.95" y="485.21" width="0.80" height="0.80" fill="#c0cde8"/>
<rect x="451.90" y="485.26" width="0.80" height="1.74" fill="#c6e3bd"/>
<rect x="451.90" y="484.81" width="0.80" height="0.44" fill="#efb1ab"/>
<rect x="452.85" y="485.35" width="0.80" height="1.65" fill="#c6e3bd"/>
<rect x="452.85" y="484.77" width="0.80" height="0.59" fill="#c0cde8"/>
<rect x="453.80" y="485.22" width="0.80" height="1.78" fill="#c6e3bd"/>
<rect x="453.80" y="484.91" width="0.80" height="0.31" fill="#c0cde8"/>
<rect x="454.75" y="485.75" width="0.80" height="1.25" fill="#c6e3bd"/>
<rect x="454.75" y="485.16" width="0.80" height="0.59" fill="#efb1ab"/>
<rect x="455.70" y="485.28" width="0.80" height="1.72" fill="#c6e3bd"/>
<rect x="455.70" y="485.08" width="0.80" height="0.20" fill="#c7e3be"/>
<rect x="456.65" y="485.54" width="0.80" height="1.46" fill="#c6e3bd"/>
<rect x="456.65" y="484.98" width="0.80" height="0.56" fill="#f4cba6"/>
<rect x="457.60" y="485.84" width="0.80" height="1.16" fill="#c6e3bd"/>
<rect x="457.60" y="485.68" width="0.80" height="0.15" fill="#f4cba6"/>
<rect x="458.55" y="485.15" width="0.80" height="1.85" fill="#c6e3bd"/>
<rect x="458.55" y="484.70" width="0.80" height="0.45" fill="#efb1ab"/>
<rect x="459.50" y="485.04" width="0.80" height="1.96" fill="#c6e3bd"/>
<rect x="459.50" y="484.49" width="0.80" height="0.55" fill="#c7e3be"/>
<rect x="460.45" y="485.88" width="0.80" height="1.12" fill="#c6e3bd"/>
<rect x="460.45" y="485.63" width="0.80" height="0.25" fill="#efb1ab"/>
<rect x="461.40" y="485.33" width="0.80" height="1.67" fill="#c6e3bd"/>
<rect x="461.40" y="484.38" width="0.80" height="0.96" fill="#c7e3be"/>
<rect x="462.35" y="485.15" width="0.80" height="1.85" fill="#c6e3bd"/>
<rect x="462.35" y="484.46" width="0.80" height="0.69" fill="#c0cde8"/>
<rect x="463.30" y="486.34" width="0.80" height="0.66" fill="#c6e3bd"/>
<rect x="463.30" y="486.15" width="0.80" height="0.19" fill="#c0cde8"/>
<rect x="464.25" y="486.29" width="0.80" height="0.71" fill="#c6e3bd"/>
<rect x="464.25" y="486.12" width="0.80" height="0.16" fill="#f4cba6"/>
<rect x="465.20" y="486.33" width="0.80" height="0.67" fill="#c6e3bd"/>
<rect x="465.20" y="485.93" width="0.80" height="0.40" fill="#c7e3be"/>
<rect x="466.15" y="486.30" width="0.80" height="0.70" fill="#c6e3bd"/>
<rect x="466.15" y="485.84" width="0.80" height="0.47" fill="#f4cba6"/>
<rect x="467.10" y="485.60" width="0.80" height="1.40" fill="#c6e3bd"/>
<rect x="467.10" y="485.21" width="0.80" height="0.39" fill="#efb1ab"/>
<rect x="468.05" y="486.05" width="0.80" height="0.95" fill="#c6e3bd"/>
<rect x="468.05" y="485.89" width="0.80" height="0.17" fill="#efb1ab"/>
<rect x="469.00" y="485.41" width="0.80" height="1.59" fill="#c6e3bd"/>
<rect x="469.00" y="484.98" width="0.80" height="0.43" fill="#efb1ab"/>
<rect x="163.70" y="449.00" width="1.00" height="38.00" fill="#c9e3bf"/>
<rect x="163.70" y="449.00" width="1.00" height="4.00" fill="#eaa9a3"/>
<rect x="162.60" y="477.00" width="0.90" height="10.00" fill="#c2e0b8"/>
<rect x="162.60" y="477.00" width="0.90" height="2.00" fill="#eeb0aa"/>
<rect x="165.00" y="476.00" width="0.90" height="11.00" fill="#c2e0b8"/>
<rect x="165.00" y="476.00" width="0.90" height="2.00" fill="#eeb0aa"/>
<rect x="166.30" y="472.40" width="0.90" height="14.60" fill="#c2e0b8"/>
<rect x="166.30" y="472.40" width="0.90" height="2.00" fill="#eeb0aa"/>
<rect x="167.30" y="478.00" width="0.90" height="9.00" fill="#c2e0b8"/>
<rect x="167.30" y="478.00" width="0.90" height="2.00" fill="#eeb0aa"/>
<rect x="161.60" y="480.00" width="0.90" height="7.00" fill="#c2e0b8"/>
<rect x="161.60" y="480.00" width="0.90" height="2.00" fill="#eeb0aa"/>
<rect x="168.20" y="481.00" width="0.90" height="6.00" fill="#c2e0b8"/>
<rect x="168.20" y="481.00" width="0.90" height="2.00" fill="#eeb0aa"/>
<rect x="275.40" y="476.00" width="0.90" height="11.00" fill="#bfdfb5"/>
<rect x="381.00" y="473.70" width="0.90" height="13.30" fill="#c2e0b8"/>
<rect x="381.00" y="473.70" width="0.90" height="1.80" fill="#eeb0aa"/>
<rect x="382.20" y="479.00" width="0.90" height="8.00" fill="#c2e0b8"/>
<rect x="382.20" y="479.00" width="0.90" height="1.80" fill="#eeb0aa"/>
<rect x="383.30" y="477.50" width="0.90" height="9.50" fill="#c2e0b8"/>
<rect x="383.30" y="477.50" width="0.90" height="1.80" fill="#eeb0aa"/>
<rect x="384.50" y="480.00" width="0.90" height="7.00" fill="#c2e0b8"/>
<rect x="384.50" y="480.00" width="0.90" height="1.80" fill="#eeb0aa"/>
<rect x="386.00" y="478.50" width="0.90" height="8.50" fill="#c2e0b8"/>
<rect x="386.00" y="478.50" width="0.90" height="1.80" fill="#eeb0aa"/>
<rect x="388.00" y="480.50" width="0.90" height="6.50" fill="#c2e0b8"/>
<rect x="388.00" y="480.50" width="0.90" height="1.80" fill="#eeb0aa"/>
<line x1="75.20" y1="487.30" x2="270.80" y2="487.30" stroke="#d8d8d8" stroke-width="0.6"/>
<line x1="275.00" y1="487.30" x2="469.60" y2="487.30" stroke="#d8d8d8" stroke-width="0.6"/>
<line x1="504.50" y1="502.40" x2="576.00" y2="502.40" stroke="#111" stroke-width="1.3"/>
<line x1="504.50" y1="498.80" x2="504.50" y2="502.40" stroke="#111" stroke-width="1.0"/>
<text x="504.5" y="495.8" font-family='"Liberation Serif", serif' font-size="10" fill="#111" text-anchor="middle">0</text>
<line x1="524.95" y1="498.80" x2="524.95" y2="502.40" stroke="#111" stroke-width="1.0"/>
<text x="525.0" y="495.8" font-family='"Liberation Serif", serif' font-size="10" fill="#111" text-anchor="middle">100</text>
<line x1="545.40" y1="498.80" x2="545.40" y2="502.40" stroke="#111" stroke-width="1.0"/>
<text x="545.4" y="495.8" font-family='"Liberation Serif", serif' font-size="10" fill="#111" text-anchor="middle">200</text>
<line x1="565.85" y1="498.80" x2="565.85" y2="502.40" stroke="#111" stroke-width="1.0"/>
<text x="565.9" y="495.8" font-family='"Liberation Serif", serif' font-size="10" fill="#111" text-anchor="middle">300</text>
<line x1="576.00" y1="498.80" x2="576.00" y2="502.40" stroke="#111" stroke-width="1.0"/>
<text x="541.0" y="465.2" font-family='"Liberation Serif", serif' font-size="10" fill="#111" text-anchor="middle" transform="rotate(-90 541.0 465.2)">MutCount</text>
<rect x="504.50" y="513.03" width="62.50" height="15.00" fill="#4aa748"/>
<rect x="567.00" y="513.03" width="6.00" height="15.00" fill="#e02a2a"/>
<rect x="573.00" y="513.03" width="1.00" height="15.00" fill="#f0892a"/>
<rect x="574.00" y="513.03" width="0.50" height="15.00" fill="#6b3fa0"/>
<rect x="574.50" y="513.03" width="1.10" height="15.00" fill="#3e7fc0"/>
<rect x="504.50" y="501.00" width="30.60" height="15.00" fill="#4aa748"/>
<rect x="535.10" y="501.00" width="8.40" height="15.00" fill="#e02a2a"/>
<rect x="543.50" y="501.00" width="0.80" height="15.00" fill="#f0892a"/>
<rect x="544.30" y="501.00" width="1.00" height="15.00" fill="#6b3fa0"/>
<rect x="545.30" y="501.00" width="3.70" height="15.00" fill="#3e7fc0"/>
<rect x="504.50" y="525.06" width="11.80" height="15.00" fill="#e02a2a"/>
<rect x="516.30" y="525.06" width="11.00" height="15.00" fill="#4aa748"/>
<rect x="527.30" y="525.06" width="4.70" height="15.00" fill="#3e7fc0"/>
<rect x="532.00" y="525.06" width="2.00" height="15.00" fill="#f0892a"/>
<rect x="534.00" y="525.06" width="2.90" height="15.00" fill="#6b3fa0"/>
<rect x="504.50" y="537.09" width="4.50" height="15.00" fill="#e02a2a"/>
<rect x="509.00" y="537.09" width="31.00" height="15.00" fill="#4aa748"/>
<rect x="540.00" y="537.09" width="1.00" height="15.00" fill="#c9455c"/>
<rect x="504.50" y="549.12" width="3.10" height="15.00" fill="#6b3fa0"/>
<rect x="507.60" y="549.12" width="4.80" height="15.00" fill="#4aa748"/>
<rect x="512.40" y="549.12" width="7.60" height="15.00" fill="#e02a2a"/>
<rect x="520.00" y="549.12" width="5.00" height="15.00" fill="#3e7fc0"/>
<rect x="525.00" y="549.12" width="2.80" height="15.00" fill="#f0892a"/>
<rect x="504.50" y="561.15" width="7.10" height="15.00" fill="#4aa748"/>
<rect x="511.60" y="561.15" width="9.90" height="15.00" fill="#e02a2a"/>
<rect x="521.50" y="561.15" width="4.50" height="15.00" fill="#3e7fc0"/>
<rect x="526.00" y="561.15" width="1.50" height="15.00" fill="#6b3fa0"/>
<rect x="527.50" y="561.15" width="1.10" height="15.00" fill="#f0892a"/>
<rect x="504.50" y="573.18" width="19.30" height="15.00" fill="#4aa748"/>
<rect x="523.80" y="573.18" width="0.70" height="15.00" fill="#e02a2a"/>
<rect x="504.50" y="585.21" width="17.50" height="15.00" fill="#4aa748"/>
<rect x="522.00" y="585.21" width="3.00" height="15.00" fill="#e02a2a"/>
<rect x="504.50" y="597.24" width="7.50" height="15.00" fill="#e02a2a"/>
<rect x="512.00" y="597.24" width="2.00" height="15.00" fill="#3e7fc0"/>
<rect x="514.00" y="597.24" width="1.00" height="15.00" fill="#6b3fa0"/>
<rect x="515.00" y="597.24" width="1.50" height="15.00" fill="#e02a2a"/>
<rect x="516.50" y="597.24" width="1.50" height="15.00" fill="#3e7fc0"/>
<rect x="518.00" y="597.24" width="3.20" height="15.00" fill="#f0892a"/>
<rect x="504.50" y="609.27" width="10.20" height="15.00" fill="#4aa748"/>
<rect x="514.70" y="609.27" width="5.30" height="15.00" fill="#e02a2a"/>
<rect x="520.00" y="609.27" width="2.50" height="15.00" fill="#3e7fc0"/>
<rect x="522.50" y="609.27" width="1.00" height="15.00" fill="#f0892a"/>
<rect x="504.50" y="621.30" width="12.30" height="15.00" fill="#4aa748"/>
<rect x="516.80" y="621.30" width="2.20" height="15.00" fill="#e02a2a"/>
<rect x="504.50" y="633.33" width="13.20" height="15.00" fill="#4aa748"/>
<rect x="517.70" y="633.33" width="1.30" height="15.00" fill="#e02a2a"/>
<rect x="504.50" y="645.36" width="8.50" height="15.00" fill="#4aa748"/>
<rect x="513.00" y="645.36" width="1.00" height="15.00" fill="#3e7fc0"/>
<rect x="514.00" y="645.36" width="3.70" height="15.00" fill="#e02a2a"/>
<rect x="517.70" y="645.36" width="0.60" height="15.00" fill="#6b3fa0"/>
<rect x="504.50" y="657.39" width="14.40" height="15.00" fill="#4aa748"/>
<rect x="518.90" y="657.39" width="2.10" height="15.00" fill="#e02a2a"/>
<rect x="504.50" y="669.42" width="12.80" height="15.00" fill="#4aa748"/>
<rect x="517.30" y="669.42" width="0.70" height="15.00" fill="#f0892a"/>
<rect x="504.50" y="681.45" width="10.90" height="15.00" fill="#4aa748"/>
<rect x="515.40" y="681.45" width="2.60" height="15.00" fill="#e02a2a"/>
<rect x="518.00" y="681.45" width="0.60" height="15.00" fill="#3e7fc0"/>
<rect x="504.50" y="693.48" width="2.40" height="15.00" fill="#3e7fc0"/>
<rect x="506.90" y="693.48" width="2.90" height="15.00" fill="#4aa748"/>
<rect x="509.80" y="693.48" width="5.80" height="15.00" fill="#e02a2a"/>
<rect x="515.60" y="693.48" width="0.70" height="15.00" fill="#6b3fa0"/>
<rect x="504.50" y="705.51" width="11.80" height="15.00" fill="#4aa748"/>
<rect x="516.30" y="705.51" width="0.60" height="15.00" fill="#3e7fc0"/>
<rect x="504.50" y="717.54" width="11.80" height="15.00" fill="#4aa748"/>
<rect x="516.30" y="717.54" width="1.40" height="15.00" fill="#e02a2a"/>
<rect x="504.50" y="729.57" width="0.70" height="14.20" fill="#f0892a"/>
<rect x="505.20" y="729.57" width="9.00" height="14.20" fill="#4aa748"/>
<rect x="514.20" y="729.57" width="2.60" height="14.20" fill="#e02a2a"/>
<line x1="504.50" y1="502.40" x2="576.00" y2="502.40" stroke="#111" stroke-width="1.3"/>
<circle cx="592.6" cy="453.9" r="5.0" fill="#4aa748"/>
<text x="599.8" y="457.5" font-family='"Liberation Serif", serif' font-size="10.1" fill="#111" text-anchor="start">Missense_Mutation</text>
<circle cx="592.6" cy="466.5" r="5.0" fill="#e02a2a"/>
<text x="599.8" y="470.1" font-family='"Liberation Serif", serif' font-size="10.1" fill="#111" text-anchor="start">Nonsense_Mutation</text>
<circle cx="592.6" cy="479.0" r="5.0" fill="#6b3fa0"/>
<text x="599.8" y="482.6" font-family='"Liberation Serif", serif' font-size="10.1" fill="#111" text-anchor="start">Frame_Shift_Ins</text>
<circle cx="592.6" cy="491.6" r="5.0" fill="#f0892a"/>
<text x="599.8" y="495.2" font-family='"Liberation Serif", serif' font-size="10.1" fill="#111" text-anchor="start">Splice_Site</text>
<circle cx="592.6" cy="504.2" r="5.0" fill="#3e7fc0"/>
<text x="599.8" y="507.8" font-family='"Liberation Serif", serif' font-size="10.1" fill="#111" text-anchor="start">Frame_Shift_Del</text>
<circle cx="592.6" cy="516.8" r="5.0" fill="#c9455c"/>
<text x="599.8" y="520.4" font-family='"Liberation Serif", serif' font-size="10.1" fill="#111" text-anchor="start">In_Frame_Ins</text>
<circle cx="592.6" cy="529.3" r="5.0" fill="#e3f19a"/>
<text x="599.8" y="532.9" font-family='"Liberation Serif", serif' font-size="10.1" fill="#111" text-anchor="start">In_Frame_Del</text>
<text x="588.2" y="554.2" font-family='"Liberation Serif", serif' font-size="10.1" fill="#111" text-anchor="start">group:</text>
<circle cx="593.0" cy="561.3" r="5.0" fill="#65bcc7"/>
<text x="599.8" y="564.9" font-family='"Liberation Serif", serif' font-size="10.1" fill="#111" text-anchor="start">L</text>
<circle cx="593.0" cy="573.8" r="5.0" fill="#d9493a"/>
<text x="599.8" y="577.4" font-family='"Liberation Serif", serif' font-size="10.1" fill="#111" text-anchor="start">H</text>
</svg></body></html>
